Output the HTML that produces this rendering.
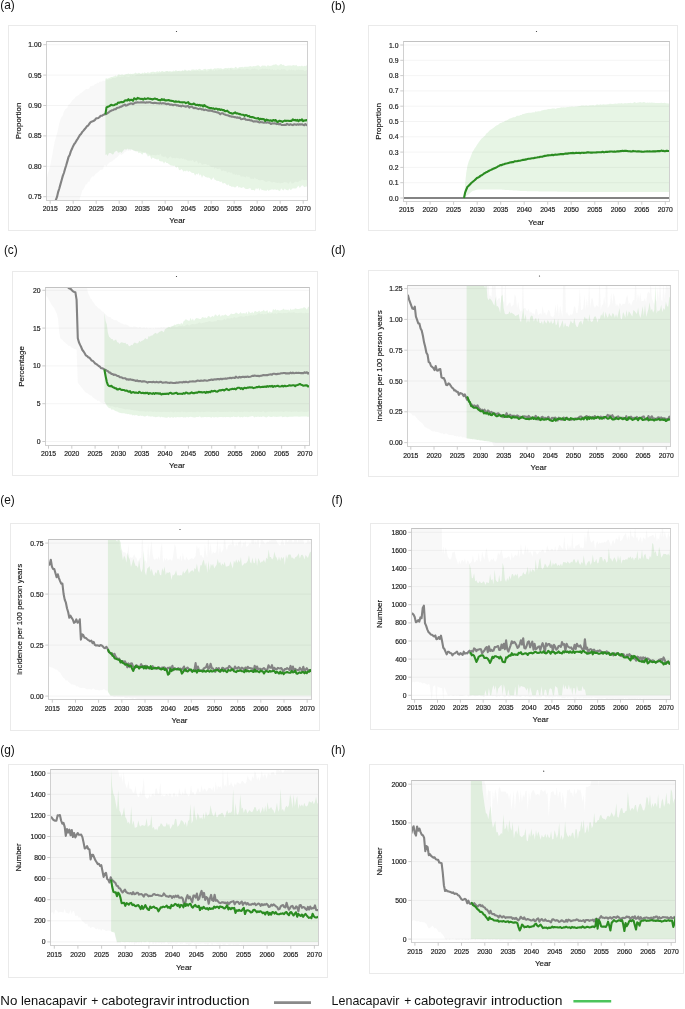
<!DOCTYPE html>
<html><head><meta charset="utf-8"><title>Figure</title>
<style>
html,body{margin:0;padding:0;background:#fff;}
svg{display:block;will-change:transform;}
text{font-family:"Liberation Sans",Arial,sans-serif;}
.tk{font-size:6.8px;fill:#1c1c1c;stroke:#1c1c1c;stroke-width:0.18px;}
.ax{font-size:7.95px;fill:#161616;stroke:#161616;stroke-width:0.15px;}
.pl{font-size:11.9px;fill:#111;}
.lg{font-size:12.6px;fill:#111;}
</style></head><body>
<svg width="685" height="1009" viewBox="0 0 685 1009">
<rect width="685" height="1009" fill="#fff"/>
<g>
<rect x="8.5" y="25.5" width="307.0" height="205.0" fill="#fff" stroke="#eaeaea" stroke-width="1"/>
<clipPath id="ca"><rect x="46.5" y="41.5" width="261.0" height="159.0"/></clipPath>
<g clip-path="url(#ca)">
<path d="M46.7 179.4 L47.8 173.6 L49 169.9 L50.1 166.2 L51.3 160 L52.4 154.5 L53.6 147.3 L54.7 141.4 L55.9 137.4 L57 133.6 L58.2 128.5 L59.3 123.1 L60.5 119.4 L61.6 117 L62.8 115.5 L63.9 111.8 L65.1 109.3 L66.2 108.8 L67.4 107.5 L68.5 104.6 L69.7 104 L70.8 102.8 L72 100.8 L73.1 99.5 L74.3 98.8 L75.4 97.1 L76.6 96.2 L77.7 95.4 L78.9 95 L80 93.4 L81.2 93.1 L82.3 91.9 L83.5 90.9 L84.6 90.2 L85.8 89 L86.9 88.9 L88.1 89.2 L89.2 88.2 L90.4 86.2 L91.5 86.2 L92.7 85.4 L93.8 85.4 L95 84 L96.1 84.1 L97.3 82.7 L98.4 83.1 L99.6 81.8 L100.7 81.5 L101.9 81.7 L103 80.4 L104.2 80.9 L105.3 80.4 L106.5 79.4 L107.6 79.8 L108.8 79.5 L109.9 79.1 L111.1 79.2 L112.2 77.9 L113.4 77.9 L114.5 78 L115.7 77.8 L116.8 77.2 L118 76.3 L119.1 76.5 L120.3 77.1 L121.4 76.3 L122.6 76.6 L123.7 76.5 L124.9 75.4 L126 76.4 L127.2 76.3 L128.3 76.9 L129.5 76.5 L130.6 75.5 L131.8 75.9 L132.9 75.2 L134.1 75.9 L135.2 75.6 L136.4 74.8 L137.5 74.3 L138.7 74.6 L139.8 74.2 L141 73.8 L142.1 74 L143.3 74.8 L144.4 74.3 L145.6 73.8 L146.7 74.2 L147.9 73.7 L149 74.5 L150.2 74.1 L151.3 73.3 L152.5 74.5 L153.6 73.8 L154.8 73.2 L155.9 73.9 L157.1 72.9 L158.2 73.2 L159.4 72.8 L160.5 72.7 L161.7 72.3 L162.8 72.6 L164 72.1 L165.1 72.4 L166.3 71.7 L167.4 71.1 L168.6 71.8 L169.7 71.8 L170.9 72.4 L172 71.5 L173.2 72.1 L174.3 72.1 L175.5 71.4 L176.6 71.5 L177.8 71 L178.9 70.8 L180.1 71.7 L181.2 71.4 L182.4 70.5 L183.5 70.9 L184.7 70.9 L185.8 70.6 L187 71.5 L188.1 70.8 L189.3 70.4 L190.4 70.3 L191.6 71.4 L192.7 71.1 L193.9 70.7 L195 71 L196.2 71 L197.3 70.5 L198.5 70.9 L199.6 71.6 L200.8 70.5 L201.9 70.8 L203.1 70.9 L204.2 71.3 L205.4 70 L206.5 71.5 L207.7 71.2 L208.8 70.5 L210 69.7 L211.1 69.6 L212.3 70.8 L213.4 70.3 L214.6 70.9 L215.7 69.6 L216.9 70.8 L218 70.1 L219.2 69.5 L220.3 70.1 L221.5 69.2 L222.6 70.4 L223.8 69.7 L224.9 69.5 L226.1 69.9 L227.2 69.1 L228.4 69.5 L229.5 70.5 L230.7 67.8 L231.8 69.4 L233 69.6 L234.1 70.3 L235.3 69.6 L236.4 69.8 L237.6 69.2 L238.7 69.3 L239.9 68.6 L241 69.4 L242.2 69.2 L243.3 69.2 L244.5 69.4 L245.6 69.4 L246.8 68.8 L247.9 68.9 L249.1 69.5 L250.2 69.7 L251.4 69.2 L252.5 68.6 L253.7 69.1 L254.8 68.2 L256 69.4 L257.1 69 L258.3 70.3 L259.4 69.4 L260.6 69.3 L261.7 68.9 L262.9 68.3 L264 69.2 L265.2 68.5 L266.3 68.9 L267.5 68.8 L268.6 69.5 L269.8 68.6 L270.9 69.9 L272.1 69.1 L273.2 69.9 L274.4 69.7 L275.5 70.2 L276.7 69.7 L277.8 69.3 L279 69.6 L280.1 70.2 L281.3 68.9 L282.4 69.5 L283.6 69.2 L284.7 69.3 L285.9 70 L287 70.7 L288.2 70.2 L289.3 69.2 L290.5 70.3 L291.6 69.4 L292.8 70.2 L293.9 69.7 L295.1 70.8 L296.2 69.4 L297.4 70 L298.5 69.6 L299.7 69.9 L300.8 69.7 L302 70.1 L303.1 69.8 L304.3 70.9 L305.4 70.7 L306.6 69.9 L307.7 70.3 L307.7 180.4 L306.6 180.2 L305.4 179.8 L304.3 180.2 L303.1 180 L302 179.2 L300.8 180.7 L299.7 180.7 L298.5 181.8 L297.4 182.3 L296.2 181.8 L295.1 181.7 L293.9 182.9 L292.8 183.5 L291.6 183.4 L290.5 181.2 L289.3 182.5 L288.2 184 L287 182.6 L285.9 182.6 L284.7 182 L283.6 182.6 L282.4 182.9 L281.3 183.1 L280.1 183.6 L279 182.5 L277.8 183.1 L276.7 182.7 L275.5 182.6 L274.4 182 L273.2 182.1 L272.1 182.5 L270.9 181.9 L269.8 181.3 L268.6 181.1 L267.5 181.4 L266.3 181.9 L265.2 181.4 L264 180.8 L262.9 180 L261.7 180.1 L260.6 180.2 L259.4 180.3 L258.3 180 L257.1 178.8 L256 179.2 L254.8 177.4 L253.7 179.2 L252.5 178.5 L251.4 179.1 L250.2 178.4 L249.1 176.6 L247.9 177.3 L246.8 175.8 L245.6 177.5 L244.5 176.8 L243.3 176.4 L242.2 176.2 L241 176.9 L239.9 175 L238.7 174.7 L237.6 175.2 L236.4 174.2 L235.3 175 L234.1 173.4 L233 174.7 L231.8 172.6 L230.7 173 L229.5 172.3 L228.4 171.9 L227.2 173.3 L226.1 170.8 L224.9 171.4 L223.8 170.6 L222.6 170.8 L221.5 171.2 L220.3 168.5 L219.2 168.7 L218 168.9 L216.9 169.1 L215.7 167.4 L214.6 168.9 L213.4 166.7 L212.3 167.3 L211.1 166.9 L210 166 L208.8 164.8 L207.7 165.2 L206.5 164.2 L205.4 164 L204.2 164.2 L203.1 164.2 L201.9 165.1 L200.8 163 L199.6 162.5 L198.5 163.9 L197.3 161.7 L196.2 160.6 L195 162.3 L193.9 162 L192.7 159.7 L191.6 160.8 L190.4 160.4 L189.3 160.7 L188.1 160.7 L187 160.3 L185.8 159.2 L184.7 159.7 L183.5 158.2 L182.4 159 L181.2 157.7 L180.1 159.1 L178.9 158.2 L177.8 158.2 L176.6 157.7 L175.5 158.5 L174.3 157.9 L173.2 158.1 L172 158.6 L170.9 156.6 L169.7 157.1 L168.6 157.9 L167.4 158.8 L166.3 157.2 L165.1 156.2 L164 157.2 L162.8 156.5 L161.7 156.5 L160.5 153.5 L159.4 155.3 L158.2 154.9 L157.1 154.7 L155.9 155.4 L154.8 155.2 L153.6 155 L152.5 154.7 L151.3 155.7 L150.2 154.4 L149 154.5 L147.9 153.1 L146.7 155 L145.6 153.4 L144.4 152.7 L143.3 152 L142.1 152.5 L141 150.9 L139.8 151.5 L138.7 151.3 L137.5 151.1 L136.4 152.5 L135.2 150.9 L134.1 151.3 L132.9 150.2 L131.8 149.1 L130.6 151.2 L129.5 150.3 L128.3 150.9 L127.2 150.1 L126 151.8 L124.9 151.5 L123.7 153.5 L122.6 153.9 L121.4 155 L120.3 153.9 L119.1 154.7 L118 156.4 L116.8 157.4 L115.7 158 L114.5 159.4 L113.4 160.1 L112.2 161.6 L111.1 161.7 L109.9 162.2 L108.8 163.2 L107.6 164.2 L106.5 166.5 L105.3 164.9 L104.2 165.4 L103 169 L101.9 169.8 L100.7 169.7 L99.6 170.6 L98.4 171.7 L97.3 172.7 L96.1 173.4 L95 174.5 L93.8 176.4 L92.7 176.2 L91.5 177.6 L90.4 179.2 L89.2 182 L88.1 181.8 L86.9 184.2 L85.8 184.3 L84.6 187.3 L83.5 189.2 L82.3 190.3 L81.2 194.5 L80 197.3 L78.9 204.1 L77.7 207.2 L76.6 213.1 L75.4 217.3 L74.3 222.2 L73.1 226.6 L72 232.6 L70.8 237.7 L69.7 241.7 L68.5 246.5 L67.4 252 L66.2 256.7 L65.1 262.9 L63.9 268.2 L62.8 273.7 L61.6 279.4 L60.5 282.5 L59.3 288.9 L58.2 292.6 L57 299.1 L55.9 302.5 L54.7 307.7 L53.6 313.8 L52.4 319.2 L51.3 323.2 L50.1 329.1 L49 333.4 L47.8 338.9 L46.7 344Z" fill="rgba(120,120,120,0.052)"/>
<path d="M105.4 78.7 L106.5 78.2 L107.7 78.8 L108.8 78.1 L110 77.7 L111.1 77.1 L112.3 77.1 L113.4 76.4 L114.6 76.3 L115.7 75.5 L116.9 76.5 L118 74.6 L119.2 74.4 L120.3 75 L121.5 74.5 L122.6 74.4 L123.8 75 L124.9 74.4 L126.1 74 L127.2 74.1 L128.4 73.6 L129.5 74 L130.7 73.8 L131.8 74.1 L133 73.8 L134.1 73.7 L135.3 72.6 L136.4 73.2 L137.6 73.6 L138.7 72.8 L139.9 73 L141 74.3 L142.2 72.4 L143.3 73.4 L144.5 72.3 L145.6 73 L146.8 73.1 L147.9 72.1 L149.1 73 L150.2 72.5 L151.4 72.1 L152.5 71.8 L153.7 71.7 L154.8 72 L156 72.3 L157.1 70.9 L158.3 72.1 L159.4 70.9 L160.6 71.9 L161.7 71.1 L162.9 71.1 L164 72 L165.2 71.3 L166.3 71 L167.5 71 L168.6 71.4 L169.8 71.1 L170.9 71.3 L172.1 71.7 L173.2 70.5 L174.4 71.2 L175.5 70.2 L176.7 70.6 L177.8 71.2 L179 70.8 L180.1 70.8 L181.3 71 L182.4 70.3 L183.6 70.7 L184.7 69.6 L185.9 69.9 L187 70.7 L188.2 70.2 L189.3 70.3 L190.5 70.9 L191.6 69.6 L192.8 69.5 L193.9 69.5 L195.1 70.1 L196.2 69.3 L197.4 69.9 L198.5 69.2 L199.7 68.7 L200.8 69.5 L202 70.2 L203.1 69.6 L204.3 69.1 L205.4 68.7 L206.5 69.8 L207.7 69.3 L208.8 69 L210 68.9 L211.1 68.6 L212.3 69.4 L213.4 69.1 L214.6 68.3 L215.7 68.5 L216.9 68.4 L218 68 L219.2 68.4 L220.3 68.2 L221.5 68.5 L222.6 68.9 L223.8 68.8 L224.9 68.1 L226.1 68.1 L227.2 68.3 L228.4 67.7 L229.5 68.2 L230.7 67.7 L231.8 67.7 L233 68 L234.1 68.6 L235.3 66.7 L236.4 67.2 L237.6 68.6 L238.7 67.4 L239.9 66.9 L241 67.2 L242.2 66.7 L243.3 67.4 L244.5 66.7 L245.6 66.8 L246.8 66.8 L247.9 66.7 L249.1 66.4 L250.2 66 L251.4 66.6 L252.5 66.5 L253.7 66.1 L254.8 66.2 L256 65.9 L257.1 65.6 L258.3 65.3 L259.4 65.9 L260.6 66.9 L261.7 65.8 L262.9 65.5 L264 65.7 L265.2 65.6 L266.3 66.7 L267.5 65.2 L268.6 65.5 L269.8 66.1 L270.9 65.7 L272.1 65.6 L273.2 64.8 L274.4 64.8 L275.5 64.3 L276.7 64.6 L277.8 65.5 L279 65.5 L280.1 64.2 L281.3 64.1 L282.4 65 L283.6 64.7 L284.7 65.8 L285.9 66.1 L287 65.8 L288.2 65.5 L289.3 65.6 L290.5 65.6 L291.6 65.8 L292.8 65.3 L293.9 65 L295.1 65.7 L296.2 64.8 L297.4 66.2 L298.5 66.2 L299.7 65.9 L300.8 66.3 L302 65.6 L303.1 66.6 L304.3 65.7 L305.4 66.3 L306.6 65.3 L307.7 66.8 L307.7 186.6 L306.6 186.6 L305.4 186.7 L304.3 187.2 L303.1 185.8 L302 185.3 L300.8 186.8 L299.7 188.1 L298.5 185.8 L297.4 187 L296.2 188.5 L295.1 188.6 L293.9 188.6 L292.8 188.3 L291.6 189.5 L290.5 190.1 L289.3 188.5 L288.2 190.6 L287 190 L285.9 189.7 L284.7 188.4 L283.6 190.4 L282.4 189.8 L281.3 188.2 L280.1 190.7 L279 190.9 L277.8 189.6 L276.7 189.9 L275.5 189.4 L274.4 189.6 L273.2 189.7 L272.1 189.2 L270.9 189.8 L269.8 190 L268.6 190.9 L267.5 189.5 L266.3 190.9 L265.2 190.5 L264 190.5 L262.9 189.9 L261.7 190.2 L260.6 188.3 L259.4 190.8 L258.3 187.7 L257.1 189.4 L256 188.1 L254.8 190.7 L253.7 189.9 L252.5 189.9 L251.4 190 L250.2 187.9 L249.1 188.6 L247.9 189 L246.8 189 L245.6 188.9 L244.5 188 L243.3 186.9 L242.2 187.7 L241 188 L239.9 187.1 L238.7 187.8 L237.6 185.7 L236.4 186.6 L235.3 187.5 L234.1 187.3 L233 186.6 L231.8 186.9 L230.7 186.1 L229.5 186.1 L228.4 184.3 L227.2 185.5 L226.1 184.2 L224.9 183.1 L223.8 183.2 L222.6 183.5 L221.5 181.5 L220.3 182.1 L219.2 181.3 L218 180.8 L216.9 181 L215.7 179.9 L214.6 179.7 L213.4 177.3 L212.3 179 L211.1 180.1 L210 178.2 L208.8 177.4 L207.7 177.7 L206.5 177.2 L205.4 177 L204.3 176.1 L203.1 175.3 L202 178 L200.8 174.3 L199.7 175.7 L198.5 173 L197.4 174.7 L196.2 173.7 L195.1 175.8 L193.9 172.9 L192.8 173 L191.6 172.8 L190.5 171.8 L189.3 171 L188.2 172.1 L187 170.2 L185.9 171.5 L184.7 170.8 L183.6 171.8 L182.4 170 L181.3 169.1 L180.1 170.3 L179 169.9 L177.8 166.4 L176.7 167.8 L175.5 166.9 L174.4 165.6 L173.2 166 L172.1 165.6 L170.9 165.5 L169.8 164.8 L168.6 164 L167.5 163.1 L166.3 162.9 L165.2 161.4 L164 163.8 L162.9 161.6 L161.7 161.4 L160.6 161.2 L159.4 161 L158.3 158.7 L157.1 159.8 L156 159.1 L154.8 158.8 L153.7 158 L152.5 157.4 L151.4 159.6 L150.2 156.1 L149.1 155.5 L147.9 156.7 L146.8 153.9 L145.6 152.6 L144.5 152.7 L143.3 153.1 L142.2 154.8 L141 153.3 L139.9 152.4 L138.7 153.2 L137.6 151.4 L136.4 150.9 L135.3 151.3 L134.1 150.5 L133 150.2 L131.8 149.5 L130.7 149.4 L129.5 149.3 L128.4 149.4 L127.2 148.5 L126.1 150 L124.9 149 L123.8 150 L122.6 151.5 L121.5 153 L120.3 151.7 L119.2 152.6 L118 152.8 L116.9 150.7 L115.7 151.3 L114.6 152.1 L113.4 154.3 L112.3 154.5 L111.1 153.2 L110 153.1 L108.8 153.3 L107.7 156.1 L106.5 154.3 L105.4 154.9Z" fill="rgba(20,158,0,0.10)"/>
</g>
<line x1="46.5" y1="196.7" x2="307.5" y2="196.7" stroke="#000" stroke-opacity="0.045" stroke-width="1"/>
<line x1="46.5" y1="166.3" x2="307.5" y2="166.3" stroke="#000" stroke-opacity="0.045" stroke-width="1"/>
<line x1="46.5" y1="135.9" x2="307.5" y2="135.9" stroke="#000" stroke-opacity="0.045" stroke-width="1"/>
<line x1="46.5" y1="105.5" x2="307.5" y2="105.5" stroke="#000" stroke-opacity="0.045" stroke-width="1"/>
<line x1="46.5" y1="75.1" x2="307.5" y2="75.1" stroke="#000" stroke-opacity="0.045" stroke-width="1"/>
<line x1="46.5" y1="44.7" x2="307.5" y2="44.7" stroke="#000" stroke-opacity="0.045" stroke-width="1"/>
<g clip-path="url(#ca)">
<polyline points="46.7,223.6 47.8,221.4 49,218.3 50.1,215.5 51.3,211.7 52.4,209.8 53.6,205.3 54.7,203.2 55.9,199.8 57,196.9 58.2,191.8 59.3,188.5 60.5,184.1 61.6,180.3 62.8,175.9 63.9,173 65.1,168.8 66.2,165.3 67.4,161.1 68.5,157.1 69.7,155 70.8,151.4 72,148.8 73.1,146.2 74.3,144 75.4,142.6 76.6,140.4 77.7,138.8 78.9,136.8 80,134.9 81.2,133.7 82.3,131.9 83.5,130.6 84.6,129.3 85.8,127.9 86.9,126.2 88.1,125.6 89.2,124 90.4,122.4 91.5,121.7 92.7,121.3 93.8,120.8 95,119.9 96.1,118.3 97.3,118.3 98.4,117.9 99.6,117 100.7,115.7 101.9,115.8 103,115 104.2,114.5 105.3,114.2 106.5,113.9 107.6,113 108.8,112.3 109.9,111.4 111.1,110.8 112.2,110.2 113.4,109.9 114.5,109.2 115.7,109.2 116.8,108 118,107.7 119.1,107.5 120.3,106.8 121.4,106.6 122.6,105.8 123.7,105.3 124.9,104.6 126,105.6 127.2,105.2 128.3,104.5 129.5,104 130.6,103.5 131.8,103.5 132.9,104.1 134.1,103.3 135.2,102.6 136.4,102.6 137.5,102.2 138.7,102.5 139.8,102.5 141,102.4 142.1,102.3 143.3,102.4 144.4,102.4 145.6,102.7 146.7,102.3 147.9,102.5 149,102.2 150.2,102.2 151.3,102.7 152.5,103 153.6,103.1 154.8,102.8 155.9,103 157.1,103.3 158.2,103.2 159.4,103.5 160.5,103.1 161.7,103.6 162.8,103.1 164,103.4 165.1,103.5 166.3,104.2 167.4,103.9 168.6,103.9 169.7,104.6 170.9,104.5 172,104.6 173.2,105.2 174.3,104.8 175.5,104.7 176.6,105.5 177.8,105.2 178.9,106 180.1,105.7 181.2,106.4 182.4,105.5 183.5,105.9 184.7,106.3 185.8,106.7 187,106.1 188.1,106 189.3,107.6 190.4,106.7 191.6,106.7 192.7,107.4 193.9,108.2 195,107.7 196.2,108.3 197.3,108.6 198.5,109.1 199.6,108.6 200.8,108.8 201.9,109.5 203.1,109.3 204.2,110.1 205.4,109.6 206.5,110.1 207.7,110.4 208.8,110.6 210,110.4 211.1,110.7 212.3,111.1 213.4,111.5 214.6,111.8 215.7,111.9 216.9,112.4 218,112.5 219.2,113.2 220.3,114.3 221.5,113.3 222.6,113.2 223.8,114.1 224.9,114.6 226.1,115 227.2,115.2 228.4,115.5 229.5,116.2 230.7,116.3 231.8,116.8 233,116.6 234.1,117.1 235.3,117.1 236.4,117.6 237.6,117.4 238.7,117.9 239.9,117.5 241,119.2 242.2,119 243.3,118.7 244.5,118.3 245.6,119.6 246.8,119.7 247.9,120 249.1,119.7 250.2,120.5 251.4,120.4 252.5,121 253.7,121.6 254.8,121.3 256,121.5 257.1,121.4 258.3,122.1 259.4,122.4 260.6,122.1 261.7,122.3 262.9,122.4 264,122.7 265.2,122.3 266.3,122.7 267.5,122.3 268.6,122.7 269.8,123 270.9,124 272.1,123.3 273.2,123.5 274.4,123.4 275.5,123.5 276.7,124.1 277.8,123.8 279,124.4 280.1,123.6 281.3,124.9 282.4,125 283.6,125 284.7,124.8 285.9,124.9 287,123.8 288.2,124.6 289.3,125 290.5,124.2 291.6,124.8 292.8,125.1 293.9,124.3 295.1,124.4 296.2,124.9 297.4,124.2 298.5,124.7 299.7,124.2 300.8,124.6 302,124.3 303.1,124.8 304.3,125.3 305.4,124 306.6,125.1 307.7,125" fill="none" stroke="#838383" stroke-width="2.1" stroke-linejoin="round" stroke-linecap="butt"/>
<polyline points="105.4,114.4 106.5,107.4 107.7,106.8 108.8,106.4 110,105.8 111.1,104.8 112.3,105.3 113.4,105.3 114.6,104.9 115.7,104.2 116.9,104.2 118,102.5 119.2,102.7 120.3,102.3 121.5,101.9 122.6,102.2 123.8,101.7 124.9,100.6 126.1,100.3 127.2,100.6 128.4,99.2 129.5,100.5 130.7,99.9 131.8,99.7 133,100.8 134.1,98.3 135.3,98.9 136.4,99.5 137.6,97.8 138.7,98.5 139.9,98.6 141,99.1 142.2,98.8 143.3,99.6 144.5,98.4 145.6,99 146.8,98.7 147.9,98.3 149.1,98.8 150.2,98.9 151.4,99 152.5,99.5 153.7,98.9 154.8,98.6 156,99 157.1,99.1 158.3,100 159.4,100.1 160.6,100.4 161.7,99.2 162.9,100 164,99.3 165.2,100.4 166.3,100.4 167.5,100.3 168.6,100 169.8,100.6 170.9,100.7 172.1,100.9 173.2,101 174.4,101.8 175.5,101.4 176.7,101.6 177.8,101.7 179,101.6 180.1,102.3 181.3,102.2 182.4,102.4 183.6,102.3 184.7,102.2 185.9,103.2 187,102.6 188.2,102.1 189.3,104 190.5,103.9 191.6,104.2 192.8,104.2 193.9,103.5 195.1,104.5 196.2,105.1 197.4,104.7 198.5,105.5 199.7,104.9 200.8,105.6 202,105.3 203.1,106.5 204.3,105 205.4,106.3 206.5,106.6 207.7,107.2 208.8,107.8 210,108.1 211.1,108 212.3,108.6 213.4,108.3 214.6,109.1 215.7,108.6 216.9,108.7 218,109.7 219.2,109 220.3,110 221.5,109.5 222.6,110.1 223.8,110 224.9,111.3 226.1,111.1 227.2,110.6 228.4,111.9 229.5,112.8 230.7,113 231.8,113.5 233,113.6 234.1,113 235.3,112.4 236.4,113.5 237.6,113.4 238.7,113.9 239.9,114.1 241,114.5 242.2,114.8 243.3,114.7 244.5,115.8 245.6,115 246.8,115.3 247.9,116.2 249.1,115.9 250.2,117 251.4,117.1 252.5,117.1 253.7,117.5 254.8,117.9 256,118.3 257.1,118.5 258.3,118 259.4,119.6 260.6,118.7 261.7,119.2 262.9,118.9 264,119.2 265.2,121 266.3,119.6 267.5,119.9 268.6,120.3 269.8,120.7 270.9,120.3 272.1,121 273.2,120 274.4,120.6 275.5,120 276.7,121.5 277.8,122 279,120.9 280.1,120.9 281.3,121.2 282.4,121.9 283.6,121.2 284.7,120.6 285.9,120.9 287,120.8 288.2,120.7 289.3,121 290.5,120.7 291.6,121 292.8,119.3 293.9,120.3 295.1,119.9 296.2,120.7 297.4,119.9 298.5,121.2 299.7,119.9 300.8,120.4 302,119.4 303.1,121.1 304.3,120.5 305.4,120.4 306.6,120 307.7,120.9" fill="none" stroke="#2b8c21" stroke-width="2.1" stroke-linejoin="round" stroke-linecap="butt"/>
</g>
<rect x="46.5" y="41.5" width="261.0" height="159.0" fill="none" stroke="#d0d0d0" stroke-width="1"/>
<line x1="46.5" y1="41.5" x2="307.5" y2="41.5" stroke="#c2c2c2" stroke-width="1"/>
<line x1="43.3" y1="196.7" x2="46.5" y2="196.7" stroke="#c6c6c6" stroke-width="0.9"/>
<text x="41.5" y="199.2" text-anchor="end" class="tk">0.75</text>
<line x1="43.3" y1="166.3" x2="46.5" y2="166.3" stroke="#c6c6c6" stroke-width="0.9"/>
<text x="41.5" y="168.8" text-anchor="end" class="tk">0.80</text>
<line x1="43.3" y1="135.9" x2="46.5" y2="135.9" stroke="#c6c6c6" stroke-width="0.9"/>
<text x="41.5" y="138.4" text-anchor="end" class="tk">0.85</text>
<line x1="43.3" y1="105.5" x2="46.5" y2="105.5" stroke="#c6c6c6" stroke-width="0.9"/>
<text x="41.5" y="108" text-anchor="end" class="tk">0.90</text>
<line x1="43.3" y1="75.1" x2="46.5" y2="75.1" stroke="#c6c6c6" stroke-width="0.9"/>
<text x="41.5" y="77.6" text-anchor="end" class="tk">0.95</text>
<line x1="43.3" y1="44.7" x2="46.5" y2="44.7" stroke="#c6c6c6" stroke-width="0.9"/>
<text x="41.5" y="47.2" text-anchor="end" class="tk">1.00</text>
<line x1="50.2" y1="200.5" x2="50.2" y2="203.7" stroke="#c6c6c6" stroke-width="0.9"/>
<text x="50.2" y="211.1" text-anchor="middle" class="tk">2015</text>
<line x1="73.2" y1="200.5" x2="73.2" y2="203.7" stroke="#c6c6c6" stroke-width="0.9"/>
<text x="73.2" y="211.1" text-anchor="middle" class="tk">2020</text>
<line x1="96.2" y1="200.5" x2="96.2" y2="203.7" stroke="#c6c6c6" stroke-width="0.9"/>
<text x="96.2" y="211.1" text-anchor="middle" class="tk">2025</text>
<line x1="119.2" y1="200.5" x2="119.2" y2="203.7" stroke="#c6c6c6" stroke-width="0.9"/>
<text x="119.2" y="211.1" text-anchor="middle" class="tk">2030</text>
<line x1="142.2" y1="200.5" x2="142.2" y2="203.7" stroke="#c6c6c6" stroke-width="0.9"/>
<text x="142.2" y="211.1" text-anchor="middle" class="tk">2035</text>
<line x1="165.2" y1="200.5" x2="165.2" y2="203.7" stroke="#c6c6c6" stroke-width="0.9"/>
<text x="165.2" y="211.1" text-anchor="middle" class="tk">2040</text>
<line x1="188.2" y1="200.5" x2="188.2" y2="203.7" stroke="#c6c6c6" stroke-width="0.9"/>
<text x="188.2" y="211.1" text-anchor="middle" class="tk">2045</text>
<line x1="211.2" y1="200.5" x2="211.2" y2="203.7" stroke="#c6c6c6" stroke-width="0.9"/>
<text x="211.2" y="211.1" text-anchor="middle" class="tk">2050</text>
<line x1="234.2" y1="200.5" x2="234.2" y2="203.7" stroke="#c6c6c6" stroke-width="0.9"/>
<text x="234.2" y="211.1" text-anchor="middle" class="tk">2055</text>
<line x1="257.2" y1="200.5" x2="257.2" y2="203.7" stroke="#c6c6c6" stroke-width="0.9"/>
<text x="257.2" y="211.1" text-anchor="middle" class="tk">2060</text>
<line x1="280.2" y1="200.5" x2="280.2" y2="203.7" stroke="#c6c6c6" stroke-width="0.9"/>
<text x="280.2" y="211.1" text-anchor="middle" class="tk">2065</text>
<line x1="303.2" y1="200.5" x2="303.2" y2="203.7" stroke="#c6c6c6" stroke-width="0.9"/>
<text x="303.2" y="211.1" text-anchor="middle" class="tk">2070</text>
<text x="177.2" y="223.2" text-anchor="middle" class="ax">Year</text>
<text transform="translate(21,121) rotate(-90)" text-anchor="middle" class="ax">Proportion</text>
<circle cx="176.5" cy="31.5" r="0.6" fill="#333"/>
</g>
<g>
<rect x="368.5" y="25.5" width="309.0" height="205.0" fill="#fff" stroke="#eaeaea" stroke-width="1"/>
<clipPath id="cb"><rect x="403.5" y="41.5" width="266.0" height="160.0"/></clipPath>
<g clip-path="url(#cb)">
<path d="M464 198 L465.2 182.8 L466.3 172.5 L467.5 165.4 L468.7 161.6 L469.9 158.8 L471 155.9 L472.2 152.6 L473.4 150.4 L474.6 148.5 L475.7 147.1 L476.9 144.9 L478.1 143.2 L479.3 141.6 L480.4 140 L481.6 138.5 L482.8 137.7 L484 136.5 L485.1 135.4 L486.3 133.6 L487.5 132.8 L488.7 131.6 L489.8 130.3 L491 129.5 L492.2 128.8 L493.3 127.9 L494.5 127.1 L495.7 125.9 L496.9 125.3 L498 125 L499.2 123.8 L500.4 123 L501.6 122.8 L502.7 122 L503.9 121.9 L505.1 120.8 L506.3 120.4 L507.4 120 L508.6 119.3 L509.8 118.5 L511 118.3 L512.1 117.7 L513.3 117.3 L514.5 117.2 L515.7 116.7 L516.8 115.8 L518 115.8 L519.2 115.7 L520.4 115.1 L521.5 115 L522.7 114.1 L523.9 113.9 L525.1 113.4 L526.2 113.2 L527.4 113.1 L528.6 112.8 L529.8 112.7 L530.9 112.7 L532.1 112.5 L533.3 112.2 L534.4 112.4 L535.6 111.2 L536.8 111.8 L538 111.2 L539.1 111.2 L540.3 111.2 L541.5 110.5 L542.7 110.3 L543.8 110.1 L545 109.7 L546.2 109.7 L547.4 109.2 L548.5 109 L549.7 109.1 L550.9 109 L552.1 108.6 L553.2 108.6 L554.4 108.4 L555.6 108.9 L556.8 108.2 L557.9 108 L559.1 108 L560.3 107.7 L561.5 107.2 L562.6 107.5 L563.8 107.2 L565 107.4 L566.2 107.3 L567.3 107.1 L568.5 107.1 L569.7 106.7 L570.9 106.8 L572 106.5 L573.2 106.7 L574.4 106.7 L575.6 106.4 L576.7 106.4 L577.9 106.2 L579.1 106.1 L580.2 106 L581.4 105.6 L582.6 105.5 L583.8 105.5 L584.9 105.7 L586.1 105.2 L587.3 105.8 L588.5 105.8 L589.6 105.2 L590.8 105.2 L592 105.2 L593.2 105.1 L594.3 105.4 L595.5 105.2 L596.7 104.6 L597.9 104.5 L599 104.9 L600.2 104.2 L601.4 104.8 L602.6 104.6 L603.7 104.3 L604.9 104.6 L606.1 104.4 L607.3 104.2 L608.4 104.2 L609.6 103.8 L610.8 103.8 L612 104.1 L613.1 103.9 L614.3 103.7 L615.5 103.6 L616.7 103.7 L617.8 103.4 L619 103.2 L620.2 103.5 L621.4 103.1 L622.5 103.6 L623.7 103.6 L624.9 103 L626 103.3 L627.2 103.3 L628.4 103 L629.6 103.1 L630.7 102.8 L631.9 103.2 L633.1 102.9 L634.3 102 L635.4 102.6 L636.6 103.1 L637.8 102.4 L639 102.4 L640.1 102.1 L641.3 102.4 L642.5 102.6 L643.7 102.1 L644.8 102.3 L646 102.9 L647.2 102.4 L648.4 102.7 L649.5 102.4 L650.7 102.8 L651.9 102.6 L653.1 102.8 L654.2 102.7 L655.4 102.9 L656.6 103 L657.8 103 L658.9 102.9 L660.1 103 L661.3 102.7 L662.5 103.1 L663.6 103.1 L664.8 102.8 L666 103.3 L667.2 103.2 L668.3 103.5 L669.5 103.4 L669.5 191.9 L668.3 191.9 L667.2 191.9 L666 191.9 L664.8 191.9 L663.6 191.9 L662.5 191.9 L661.3 191.9 L660.1 191.9 L658.9 191.9 L657.8 191.9 L656.6 191.9 L655.4 191.9 L654.2 191.9 L653.1 191.9 L651.9 191.9 L650.7 191.9 L649.5 191.9 L648.4 191.9 L647.2 191.9 L646 191.9 L644.8 191.9 L643.7 191.9 L642.5 191.9 L641.3 191.9 L640.1 191.9 L639 191.9 L637.8 191.9 L636.6 191.9 L635.4 191.9 L634.3 191.9 L633.1 191.9 L631.9 191.9 L630.7 191.9 L629.6 191.9 L628.4 191.9 L627.2 191.9 L626 191.9 L624.9 191.9 L623.7 191.9 L622.5 191.9 L621.4 191.9 L620.2 191.9 L619 191.9 L617.8 191.9 L616.7 191.9 L615.5 191.9 L614.3 191.9 L613.1 191.9 L612 191.9 L610.8 191.9 L609.6 191.9 L608.4 191.9 L607.3 191.9 L606.1 191.9 L604.9 191.9 L603.7 191.9 L602.6 191.9 L601.4 191.9 L600.2 191.9 L599 191.9 L597.9 191.9 L596.7 191.9 L595.5 191.9 L594.3 191.9 L593.2 191.9 L592 191.9 L590.8 191.9 L589.6 191.9 L588.5 191.9 L587.3 191.9 L586.1 191.9 L584.9 191.9 L583.8 191.9 L582.6 191.9 L581.4 191.9 L580.2 191.9 L579.1 191.9 L577.9 191.9 L576.7 191.9 L575.6 191.9 L574.4 191.9 L573.2 191.9 L572 191.9 L570.9 191.9 L569.7 191.9 L568.5 191.8 L567.3 191.8 L566.2 191.8 L565 191.8 L563.8 191.8 L562.6 191.7 L561.5 191.7 L560.3 191.7 L559.1 191.7 L557.9 191.7 L556.8 191.6 L555.6 191.6 L554.4 191.6 L553.2 191.6 L552.1 191.6 L550.9 191.5 L549.7 191.5 L548.5 191.5 L547.4 191.5 L546.2 191.5 L545 191.5 L543.8 191.4 L542.7 191.4 L541.5 191.4 L540.3 191.4 L539.1 191.4 L538 191.3 L536.8 191.3 L535.6 191.3 L534.4 191.3 L533.3 191.3 L532.1 191.2 L530.9 191.2 L529.8 191.2 L528.6 191.2 L527.4 191.2 L526.2 191.1 L525.1 191.1 L523.9 191.1 L522.7 191 L521.5 190.9 L520.4 190.9 L519.2 190.8 L518 190.7 L516.8 190.6 L515.7 190.6 L514.5 190.5 L513.3 190.4 L512.1 190.3 L511 190.3 L509.8 190.2 L508.6 190.1 L507.4 190 L506.3 189.9 L505.1 189.9 L503.9 189.8 L502.7 189.7 L501.6 189.6 L500.4 189.6 L499.2 189.6 L498 189.6 L496.9 189.6 L495.7 189.6 L494.5 189.6 L493.3 189.6 L492.2 189.6 L491 189.6 L489.8 189.6 L488.7 189.6 L487.5 189.6 L486.3 189.6 L485.1 189.6 L484 189.6 L482.8 189.6 L481.6 189.6 L480.4 189.6 L479.3 189.6 L478.1 189.6 L476.9 189.7 L475.7 190 L474.6 190.4 L473.4 190.8 L472.2 191.3 L471 192.3 L469.9 193.2 L468.7 194.2 L467.5 195.1 L466.3 195.9 L465.2 196.6 L464 197.4Z" fill="rgba(20,158,0,0.10)"/>
</g>
<line x1="403.5" y1="198" x2="669.5" y2="198" stroke="#000" stroke-opacity="0.045" stroke-width="1"/>
<line x1="403.5" y1="182.7" x2="669.5" y2="182.7" stroke="#000" stroke-opacity="0.045" stroke-width="1"/>
<line x1="403.5" y1="167.4" x2="669.5" y2="167.4" stroke="#000" stroke-opacity="0.045" stroke-width="1"/>
<line x1="403.5" y1="152.1" x2="669.5" y2="152.1" stroke="#000" stroke-opacity="0.045" stroke-width="1"/>
<line x1="403.5" y1="136.8" x2="669.5" y2="136.8" stroke="#000" stroke-opacity="0.045" stroke-width="1"/>
<line x1="403.5" y1="121.5" x2="669.5" y2="121.5" stroke="#000" stroke-opacity="0.045" stroke-width="1"/>
<line x1="403.5" y1="106.2" x2="669.5" y2="106.2" stroke="#000" stroke-opacity="0.045" stroke-width="1"/>
<line x1="403.5" y1="90.9" x2="669.5" y2="90.9" stroke="#000" stroke-opacity="0.045" stroke-width="1"/>
<line x1="403.5" y1="75.6" x2="669.5" y2="75.6" stroke="#000" stroke-opacity="0.045" stroke-width="1"/>
<line x1="403.5" y1="60.3" x2="669.5" y2="60.3" stroke="#000" stroke-opacity="0.045" stroke-width="1"/>
<line x1="403.5" y1="45" x2="669.5" y2="45" stroke="#000" stroke-opacity="0.045" stroke-width="1"/>
<g clip-path="url(#cb)">
<polyline points="403.3,198 404.5,198 405.7,198 406.8,198 408,198 409.2,198 410.4,198 411.5,198 412.7,198 413.9,198 415.1,198 416.3,198 417.4,198 418.6,198 419.8,198 421,198 422.1,198 423.3,198 424.5,198 425.7,198 426.9,198 428,198 429.2,198 430.4,198 431.6,198 432.7,198 433.9,198 435.1,198 436.3,198 437.5,198 438.6,198 439.8,198 441,198 442.2,198 443.3,198 444.5,198 445.7,198 446.9,198 448.1,198 449.2,198 450.4,198 451.6,198 452.8,198 453.9,198 455.1,198 456.3,198 457.5,198 458.7,198 459.8,198 461,198 462.2,198 463.4,198 464.5,198 465.7,198 466.9,198 468.1,198 469.3,198 470.4,198 471.6,198 472.8,198 474,198 475.2,198 476.3,198 477.5,198 478.7,198 479.9,198 481,198 482.2,198 483.4,198 484.6,198 485.8,198 486.9,198 488.1,198 489.3,198 490.5,198 491.6,198 492.8,198 494,198 495.2,198 496.4,198 497.5,198 498.7,198 499.9,198 501.1,198 502.2,198 503.4,198 504.6,198 505.8,198 507,198 508.1,198 509.3,198 510.5,198 511.7,198 512.8,198 514,198 515.2,198 516.4,198 517.6,198 518.7,198 519.9,198 521.1,198 522.3,198 523.4,198 524.6,198 525.8,198 527,198 528.2,198 529.3,198 530.5,198 531.7,198 532.9,198 534,198 535.2,198 536.4,198 537.6,198 538.8,198 539.9,198 541.1,198 542.3,198 543.5,198 544.6,198 545.8,198 547,198 548.2,198 549.4,198 550.5,198 551.7,198 552.9,198 554.1,198 555.2,198 556.4,198 557.6,198 558.8,198 560,198 561.1,198 562.3,198 563.5,198 564.7,198 565.8,198 567,198 568.2,198 569.4,198 570.6,198 571.7,198 572.9,198 574.1,198 575.3,198 576.4,198 577.6,198 578.8,198 580,198 581.2,198 582.3,198 583.5,198 584.7,198 585.9,198 587,198 588.2,198 589.4,198 590.6,198 591.8,198 592.9,198 594.1,198 595.3,198 596.5,198 597.6,198 598.8,198 600,198 601.2,198 602.4,198 603.5,198 604.7,198 605.9,198 607.1,198 608.3,198 609.4,198 610.6,198 611.8,198 613,198 614.1,198 615.3,198 616.5,198 617.7,198 618.9,198 620,198 621.2,198 622.4,198 623.6,198 624.7,198 625.9,198 627.1,198 628.3,198 629.5,198 630.6,198 631.8,198 633,198 634.2,198 635.3,198 636.5,198 637.7,198 638.9,198 640.1,198 641.2,198 642.4,198 643.6,198 644.8,198 645.9,198 647.1,198 648.3,198 649.5,198 650.7,198 651.8,198 653,198 654.2,198 655.4,198 656.5,198 657.7,198 658.9,198 660.1,198 661.3,198 662.4,198 663.6,198 664.8,198 666,198 667.1,198 668.3,198 669.5,198" fill="none" stroke="#838383" stroke-width="2.1" stroke-linejoin="round" stroke-linecap="butt"/>
<polyline points="464,198 465.2,192.3 466.3,189.5 467.5,186.8 468.7,185.8 469.9,184.6 471,183.3 472.2,182.3 473.4,181.3 474.6,180.3 475.7,179.2 476.9,178 478.1,177.5 479.3,176.9 480.4,175.9 481.6,175.3 482.8,174.5 484,173.5 485.1,173 486.3,172.2 487.5,171.7 488.7,171 489.8,170.4 491,169.9 492.2,169.3 493.3,168.7 494.5,168.2 495.7,167.7 496.9,167.1 498,166.4 499.2,165.9 500.4,165 501.6,165.2 502.7,164.5 503.9,164.2 505.1,163.7 506.3,163.5 507.4,163.3 508.6,162.9 509.8,162.5 511,162.4 512.1,162 513.3,162.1 514.5,161.4 515.7,161.2 516.8,161.2 518,160.9 519.2,160.7 520.4,160.6 521.5,160.3 522.7,159.9 523.9,159.9 525.1,159.6 526.2,159.4 527.4,159.1 528.6,158.8 529.8,158.8 530.9,158.5 532.1,158.3 533.3,158.3 534.4,157.9 535.6,157.7 536.8,157.5 538,157.2 539.1,157.3 540.3,156.8 541.5,156.7 542.7,156.6 543.8,156.1 545,155.9 546.2,155.8 547.4,155.4 548.5,155.4 549.7,155.3 550.9,155.3 552.1,154.8 553.2,155.3 554.4,154.8 555.6,154.6 556.8,154.8 557.9,154.5 559.1,154.4 560.3,154.1 561.5,154 562.6,154.1 563.8,154.1 565,153.6 566.2,153.5 567.3,153.6 568.5,153.4 569.7,153.3 570.9,153.1 572,153.1 573.2,152.9 574.4,153.3 575.6,152.9 576.7,152.9 577.9,153 579.1,152.8 580.2,153.2 581.4,152.7 582.6,152.8 583.8,152.9 584.9,152.7 586.1,152.7 587.3,152.3 588.5,152.4 589.6,152.5 590.8,152.6 592,152.6 593.2,152.5 594.3,152.5 595.5,152.5 596.7,152.4 597.9,152.3 599,152.3 600.2,152.2 601.4,152.2 602.6,151.7 603.7,152.2 604.9,152.1 606.1,151.8 607.3,151.9 608.4,151.7 609.6,151.6 610.8,151.5 612,151.5 613.1,151.7 614.3,151.4 615.5,151.7 616.7,151.4 617.8,151.4 619,151.4 620.2,151.1 621.4,151.1 622.5,150.8 623.7,151.1 624.9,150.8 626,150.9 627.2,151 628.4,151.3 629.6,151.2 630.7,151.4 631.9,151.5 633.1,150.9 634.3,151.2 635.4,151.2 636.6,151.5 637.8,151.4 639,151.4 640.1,151.5 641.3,151.6 642.5,151.7 643.7,151.8 644.8,151.5 646,151.5 647.2,151.4 648.4,151.5 649.5,151.2 650.7,151.5 651.9,151.5 653.1,151.2 654.2,151.4 655.4,151.4 656.6,151.2 657.8,151.1 658.9,151.1 660.1,151.1 661.3,150.6 662.5,151 663.6,150.9 664.8,151.3 666,150.9 667.2,150.9 668.3,151 669.5,151" fill="none" stroke="#2b8c21" stroke-width="2.1" stroke-linejoin="round" stroke-linecap="butt"/>
</g>
<rect x="403.5" y="41.5" width="266.0" height="160.0" fill="none" stroke="#d0d0d0" stroke-width="1"/>
<line x1="403.5" y1="41.5" x2="669.5" y2="41.5" stroke="#c2c2c2" stroke-width="1"/>
<line x1="400.3" y1="198" x2="403.5" y2="198" stroke="#c6c6c6" stroke-width="0.9"/>
<text x="398.5" y="200.5" text-anchor="end" class="tk">0.0</text>
<line x1="400.3" y1="182.7" x2="403.5" y2="182.7" stroke="#c6c6c6" stroke-width="0.9"/>
<text x="398.5" y="185.2" text-anchor="end" class="tk">0.1</text>
<line x1="400.3" y1="167.4" x2="403.5" y2="167.4" stroke="#c6c6c6" stroke-width="0.9"/>
<text x="398.5" y="169.9" text-anchor="end" class="tk">0.2</text>
<line x1="400.3" y1="152.1" x2="403.5" y2="152.1" stroke="#c6c6c6" stroke-width="0.9"/>
<text x="398.5" y="154.6" text-anchor="end" class="tk">0.3</text>
<line x1="400.3" y1="136.8" x2="403.5" y2="136.8" stroke="#c6c6c6" stroke-width="0.9"/>
<text x="398.5" y="139.3" text-anchor="end" class="tk">0.4</text>
<line x1="400.3" y1="121.5" x2="403.5" y2="121.5" stroke="#c6c6c6" stroke-width="0.9"/>
<text x="398.5" y="124" text-anchor="end" class="tk">0.5</text>
<line x1="400.3" y1="106.2" x2="403.5" y2="106.2" stroke="#c6c6c6" stroke-width="0.9"/>
<text x="398.5" y="108.7" text-anchor="end" class="tk">0.6</text>
<line x1="400.3" y1="90.9" x2="403.5" y2="90.9" stroke="#c6c6c6" stroke-width="0.9"/>
<text x="398.5" y="93.4" text-anchor="end" class="tk">0.7</text>
<line x1="400.3" y1="75.6" x2="403.5" y2="75.6" stroke="#c6c6c6" stroke-width="0.9"/>
<text x="398.5" y="78.1" text-anchor="end" class="tk">0.8</text>
<line x1="400.3" y1="60.3" x2="403.5" y2="60.3" stroke="#c6c6c6" stroke-width="0.9"/>
<text x="398.5" y="62.8" text-anchor="end" class="tk">0.9</text>
<line x1="400.3" y1="45" x2="403.5" y2="45" stroke="#c6c6c6" stroke-width="0.9"/>
<text x="398.5" y="47.5" text-anchor="end" class="tk">1.0</text>
<line x1="406.6" y1="201.5" x2="406.6" y2="204.7" stroke="#c6c6c6" stroke-width="0.9"/>
<text x="406.6" y="212.1" text-anchor="middle" class="tk">2015</text>
<line x1="430.1" y1="201.5" x2="430.1" y2="204.7" stroke="#c6c6c6" stroke-width="0.9"/>
<text x="430.1" y="212.1" text-anchor="middle" class="tk">2020</text>
<line x1="453.6" y1="201.5" x2="453.6" y2="204.7" stroke="#c6c6c6" stroke-width="0.9"/>
<text x="453.6" y="212.1" text-anchor="middle" class="tk">2025</text>
<line x1="477.2" y1="201.5" x2="477.2" y2="204.7" stroke="#c6c6c6" stroke-width="0.9"/>
<text x="477.2" y="212.1" text-anchor="middle" class="tk">2030</text>
<line x1="500.7" y1="201.5" x2="500.7" y2="204.7" stroke="#c6c6c6" stroke-width="0.9"/>
<text x="500.7" y="212.1" text-anchor="middle" class="tk">2035</text>
<line x1="524.2" y1="201.5" x2="524.2" y2="204.7" stroke="#c6c6c6" stroke-width="0.9"/>
<text x="524.2" y="212.1" text-anchor="middle" class="tk">2040</text>
<line x1="547.7" y1="201.5" x2="547.7" y2="204.7" stroke="#c6c6c6" stroke-width="0.9"/>
<text x="547.7" y="212.1" text-anchor="middle" class="tk">2045</text>
<line x1="571.2" y1="201.5" x2="571.2" y2="204.7" stroke="#c6c6c6" stroke-width="0.9"/>
<text x="571.2" y="212.1" text-anchor="middle" class="tk">2050</text>
<line x1="594.8" y1="201.5" x2="594.8" y2="204.7" stroke="#c6c6c6" stroke-width="0.9"/>
<text x="594.8" y="212.1" text-anchor="middle" class="tk">2055</text>
<line x1="618.3" y1="201.5" x2="618.3" y2="204.7" stroke="#c6c6c6" stroke-width="0.9"/>
<text x="618.3" y="212.1" text-anchor="middle" class="tk">2060</text>
<line x1="641.8" y1="201.5" x2="641.8" y2="204.7" stroke="#c6c6c6" stroke-width="0.9"/>
<text x="641.8" y="212.1" text-anchor="middle" class="tk">2065</text>
<line x1="665.3" y1="201.5" x2="665.3" y2="204.7" stroke="#c6c6c6" stroke-width="0.9"/>
<text x="665.3" y="212.1" text-anchor="middle" class="tk">2070</text>
<text x="536.2" y="224.7" text-anchor="middle" class="ax">Year</text>
<text transform="translate(380.5,121.5) rotate(-90)" text-anchor="middle" class="ax">Proportion</text>
<circle cx="536.5" cy="31.5" r="0.6" fill="#333"/>
</g>
<g>
<rect x="12.5" y="271.5" width="305.0" height="204.0" fill="#fff" stroke="#eaeaea" stroke-width="1"/>
<clipPath id="cc"><rect x="45.5" y="287.5" width="264.0" height="158.0"/></clipPath>
<g clip-path="url(#cc)">
<path d="M45.2 253.2 L46.4 253.7 L47.5 255.3 L48.7 256.6 L49.9 257.6 L51 258.4 L52.2 259.4 L53.3 259.7 L54.5 260.5 L55.7 261.6 L56.8 262.3 L58 263.9 L59.2 264.5 L60.3 265.7 L61.5 266.5 L62.6 266.9 L63.8 268.4 L65 270.1 L66.1 270.3 L67.3 271.4 L68.5 272.7 L69.6 273.3 L70.8 273.4 L71.9 274 L73.1 275.9 L74.3 276.2 L75.4 277 L76.6 279 L77.8 279.4 L78.9 280.4 L80.1 281.2 L81.3 282.9 L82.4 283.3 L83.6 283.5 L84.7 284.4 L85.9 285 L87.1 288.5 L88.2 293.4 L89.4 295.8 L90.6 298.5 L91.7 299.4 L92.9 301.7 L94 303.1 L95.2 305.3 L96.4 305.9 L97.5 307.3 L98.7 308.6 L99.9 309 L101 310.3 L102.2 311.6 L103.3 311.8 L104.5 313.6 L105.7 314.6 L106.8 315.4 L108 316.7 L109.2 317.1 L110.3 316.9 L111.5 318.8 L112.7 318.9 L113.8 320 L115 320.3 L116.1 319.9 L117.3 320.7 L118.5 322 L119.6 322.3 L120.8 323.2 L122 323.6 L123.1 324.1 L124.3 324.6 L125.4 324.5 L126.6 324.8 L127.8 325.3 L128.9 326 L130.1 327 L131.3 326.7 L132.4 327.2 L133.6 326.5 L134.8 326.7 L135.9 326.7 L137.1 327.3 L138.2 328.1 L139.4 327 L140.6 327 L141.7 328.3 L142.9 327.7 L144.1 327.3 L145.2 328.4 L146.4 327.2 L147.5 328.3 L148.7 328.7 L149.9 327.7 L151 328.3 L152.2 328.7 L153.4 327.9 L154.5 329.1 L155.7 327.2 L156.8 328.3 L158 327.7 L159.2 327.9 L160.3 327.4 L161.5 327.1 L162.7 327.8 L163.8 327 L165 327.4 L166.2 327.4 L167.3 327.1 L168.5 327.4 L169.6 327.2 L170.8 326.3 L172 326.7 L173.1 326 L174.3 326.2 L175.5 326.7 L176.6 327 L177.8 326.4 L178.9 325.8 L180.1 325.8 L181.3 326.1 L182.4 325.2 L183.6 326.3 L184.8 326 L185.9 325.2 L187.1 324.2 L188.2 324.9 L189.4 325.4 L190.6 324.4 L191.7 324.2 L192.9 323.9 L194.1 324.3 L195.2 324.3 L196.4 323.7 L197.6 323.4 L198.7 322.7 L199.9 322.3 L201 323.4 L202.2 323.1 L203.4 322.7 L204.5 322.6 L205.7 322 L206.9 321.9 L208 321.8 L209.2 321.1 L210.3 321.6 L211.5 321.8 L212.7 321.8 L213.8 321.4 L215 321.2 L216.2 321.4 L217.3 320.1 L218.5 320.1 L219.6 320.2 L220.8 320.2 L222 320.3 L223.1 319.9 L224.3 318.4 L225.5 320.1 L226.6 318.8 L227.8 318.3 L229 318.4 L230.1 318.4 L231.3 317.8 L232.4 318.4 L233.6 317.5 L234.8 316.9 L235.9 317.9 L237.1 317.6 L238.3 317 L239.4 316.5 L240.6 316.2 L241.7 316.3 L242.9 316.8 L244.1 316.8 L245.2 316.1 L246.4 315.9 L247.6 316.4 L248.7 315.7 L249.9 315.4 L251.1 315 L252.2 315.7 L253.4 314.9 L254.5 315.5 L255.7 315 L256.9 314.7 L258 313.8 L259.2 312.9 L260.4 314.2 L261.5 314.1 L262.7 313.8 L263.8 314.7 L265 313.7 L266.2 314.5 L267.3 313.2 L268.5 313.2 L269.7 313.5 L270.8 314 L272 312.8 L273.1 313.4 L274.3 313.4 L275.5 313.1 L276.6 314.1 L277.8 313 L279 312.7 L280.1 312.9 L281.3 312.9 L282.5 313.4 L283.6 312.7 L284.8 312.9 L285.9 313 L287.1 313.2 L288.3 312.6 L289.4 312.4 L290.6 312.8 L291.8 312.6 L292.9 312.4 L294.1 312.3 L295.2 312.9 L296.4 313.1 L297.6 313.2 L298.7 313 L299.9 312.7 L301.1 312.6 L302.2 313.2 L303.4 312.9 L304.5 313.4 L305.7 312.4 L306.9 313.2 L308 312.8 L309.2 313.3 L309.2 411.5 L308 411.4 L306.9 411.9 L305.7 411.8 L304.5 411.9 L303.4 411.7 L302.2 411.7 L301.1 411.4 L299.9 411.8 L298.7 411.9 L297.6 412 L296.4 411.3 L295.2 411.8 L294.1 411.6 L292.9 411.7 L291.8 411.9 L290.6 411.8 L289.4 411.6 L288.3 411.7 L287.1 411.4 L285.9 411.4 L284.8 411.4 L283.6 412 L282.5 411.7 L281.3 411.5 L280.1 411.8 L279 411.8 L277.8 411.5 L276.6 411.7 L275.5 411.6 L274.3 411.7 L273.1 411.5 L272 412.1 L270.8 411.5 L269.7 411.8 L268.5 411.8 L267.3 411.7 L266.2 412.2 L265 412.4 L263.8 411.6 L262.7 411.5 L261.5 411.9 L260.4 412 L259.2 411.8 L258 411.8 L256.9 411.8 L255.7 411.9 L254.5 411.4 L253.4 411.9 L252.2 411.9 L251.1 411.5 L249.9 412.2 L248.7 412.1 L247.6 411.8 L246.4 411.7 L245.2 411.7 L244.1 411.6 L242.9 412.2 L241.7 411.7 L240.6 412.1 L239.4 412 L238.3 411.6 L237.1 412.2 L235.9 411.9 L234.8 411.9 L233.6 411.8 L232.4 411.8 L231.3 412.1 L230.1 411.6 L229 411.8 L227.8 412 L226.6 411.7 L225.5 411.9 L224.3 411.7 L223.1 411.9 L222 411.9 L220.8 411.9 L219.6 411.9 L218.5 411.8 L217.3 411.4 L216.2 412 L215 411.9 L213.8 412.1 L212.7 411.9 L211.5 411.9 L210.3 411.8 L209.2 411.8 L208 411.8 L206.9 411.7 L205.7 411.8 L204.5 412.1 L203.4 412.3 L202.2 411.8 L201 411.9 L199.9 412.2 L198.7 411.8 L197.6 411.7 L196.4 411.8 L195.2 412.2 L194.1 412.1 L192.9 412.3 L191.7 411.8 L190.6 412.1 L189.4 411.9 L188.2 411.9 L187.1 412.2 L185.9 412.2 L184.8 411.7 L183.6 412.2 L182.4 411.6 L181.3 411.7 L180.1 412.2 L178.9 411.9 L177.8 412.1 L176.6 412.3 L175.5 411.6 L174.3 412.2 L173.1 412.4 L172 412 L170.8 411.5 L169.6 412.2 L168.5 412 L167.3 412.1 L166.2 411.9 L165 411.9 L163.8 411.8 L162.7 412 L161.5 412.2 L160.3 412.1 L159.2 412.1 L158 411.7 L156.8 411.9 L155.7 412 L154.5 411.5 L153.4 412.1 L152.2 411.7 L151 411.5 L149.9 411.2 L148.7 411.8 L147.5 411.2 L146.4 411.4 L145.2 411.8 L144.1 411.3 L142.9 411.3 L141.7 411.2 L140.6 411.3 L139.4 411.2 L138.2 411.1 L137.1 410.7 L135.9 410.4 L134.8 410.5 L133.6 410.3 L132.4 410.1 L131.3 409.9 L130.1 409.6 L128.9 409.6 L127.8 409.2 L126.6 409.3 L125.4 409.4 L124.3 409.1 L123.1 408.8 L122 408.2 L120.8 408.3 L119.6 408.1 L118.5 407.8 L117.3 407.1 L116.1 407.5 L115 407.4 L113.8 406.8 L112.7 406.3 L111.5 406.2 L110.3 406.5 L109.2 405.7 L108 405.3 L106.8 404.7 L105.7 404.4 L104.5 404 L103.3 403.5 L102.2 403.1 L101 402.7 L99.9 401.8 L98.7 400.6 L97.5 400.9 L96.4 399.5 L95.2 399.2 L94 398.2 L92.9 397.5 L91.7 395.8 L90.6 395.6 L89.4 394.8 L88.2 394 L87.1 393.1 L85.9 392.8 L84.7 391.2 L83.6 390 L82.4 388.4 L81.3 386.9 L80.1 385.4 L78.9 384.3 L77.8 382.5 L76.6 349.8 L75.4 349.1 L74.3 349.1 L73.1 348 L71.9 347.8 L70.8 346.8 L69.6 345.8 L68.5 345.8 L67.3 344.5 L66.1 343.4 L65 342.5 L63.8 341.8 L62.6 340.1 L61.5 339.2 L60.3 338.5 L59.2 332.1 L58 318.4 L56.8 313.6 L55.7 311.5 L54.5 308.7 L53.3 307.1 L52.2 305.5 L51 303.7 L49.9 301.6 L48.7 299.6 L47.5 297.4 L46.4 296.1 L45.2 294Z" fill="rgba(120,120,120,0.052)"/>
<path d="M104.4 312.8 L105.6 320.9 L106.8 324.2 L107.9 332.8 L109.1 336.8 L110.3 337.7 L111.4 339 L112.6 338.9 L113.8 341 L114.9 340 L116.1 339.4 L117.2 342.2 L118.4 342.6 L119.6 343.9 L120.7 342.5 L121.9 342.3 L123.1 342.7 L124.2 343 L125.4 342.8 L126.5 344.3 L127.7 343.9 L128.9 346 L130 346.2 L131.2 344.8 L132.4 345.3 L133.5 343.6 L134.7 342.5 L135.9 342.9 L137 343.5 L138.2 343 L139.3 340.7 L140.5 342.1 L141.7 340.8 L142.8 340.5 L144 339.7 L145.2 338.1 L146.3 339.1 L147.5 339.3 L148.7 336.1 L149.8 336.7 L151 335.6 L152.1 335.7 L153.3 334.4 L154.5 333.4 L155.6 332.8 L156.8 333.7 L158 333.2 L159.1 331.9 L160.3 331.5 L161.4 330.7 L162.6 331.3 L163.8 332.3 L164.9 329.3 L166.1 328.5 L167.3 328.1 L168.4 326.7 L169.6 326.9 L170.8 327.5 L171.9 325.7 L173.1 326.2 L174.2 324.5 L175.4 325 L176.6 324.3 L177.7 324 L178.9 323.7 L180.1 324.6 L181.2 322.7 L182.4 324.3 L183.6 321.3 L184.7 320.4 L185.9 319 L187 320 L188.2 320.5 L189.4 321.1 L190.5 317.7 L191.7 320.6 L192.9 318.4 L194 321.1 L195.2 318.9 L196.4 318.1 L197.5 318.3 L198.7 318.5 L199.8 319 L201 319 L202.2 317.1 L203.3 317.4 L204.5 317.8 L205.7 317.4 L206.8 318.2 L208 316.3 L209.1 315.9 L210.3 317.6 L211.5 316.7 L212.6 315.7 L213.8 317.1 L215 314.5 L216.1 314.8 L217.3 316.3 L218.5 315 L219.6 314.2 L220.8 316.7 L221.9 314.9 L223.1 315.4 L224.3 315.3 L225.4 314.3 L226.6 315.3 L227.8 315.9 L228.9 315.8 L230.1 314.4 L231.3 313.6 L232.4 314.1 L233.6 314.1 L234.7 313.8 L235.9 312.5 L237.1 313.1 L238.2 314.1 L239.4 313.6 L240.6 312.1 L241.7 313.6 L242.9 313.3 L244.1 312.9 L245.2 313.7 L246.4 311.8 L247.5 314.5 L248.7 311.1 L249.9 312.7 L251 313.3 L252.2 311.8 L253.4 313.5 L254.5 311.3 L255.7 311 L256.8 312.1 L258 311.8 L259.2 310.5 L260.3 311.9 L261.5 311.2 L262.7 310.9 L263.8 309.7 L265 311.5 L266.2 310.9 L267.3 309.9 L268.5 313.1 L269.6 311 L270.8 312.4 L272 312.2 L273.1 308.7 L274.3 310.2 L275.5 309 L276.6 310.5 L277.8 309.7 L279 310.5 L280.1 310.5 L281.3 310 L282.4 309.8 L283.6 308.5 L284.8 310 L285.9 309.4 L287.1 309.9 L288.3 309.5 L289.4 310.7 L290.6 308.5 L291.7 309.9 L292.9 309.3 L294.1 309.5 L295.2 308.3 L296.4 308.7 L297.6 309.1 L298.7 308.9 L299.9 308.7 L301.1 308.2 L302.2 308.4 L303.4 307.6 L304.5 307.2 L305.7 308.1 L306.9 309.8 L308 306.9 L309.2 306.5 L309.2 416.6 L308 417 L306.9 416.4 L305.7 416.6 L304.5 416.5 L303.4 416.4 L302.2 416.6 L301.1 416.4 L299.9 416.8 L298.7 416.8 L297.6 416.5 L296.4 416.5 L295.2 416.4 L294.1 416.4 L292.9 416.7 L291.7 416.8 L290.6 416.8 L289.4 416.8 L288.3 416.9 L287.1 417.2 L285.9 416.7 L284.8 416.7 L283.6 417.1 L282.4 417.3 L281.3 416.3 L280.1 416.5 L279 416.8 L277.8 416.8 L276.6 416.9 L275.5 416.8 L274.3 416.7 L273.1 416.4 L272 417.1 L270.8 416.9 L269.6 416.7 L268.5 416.3 L267.3 417.1 L266.2 417.4 L265 417 L263.8 416.4 L262.7 416.6 L261.5 416.9 L260.3 416.7 L259.2 416.9 L258 416.5 L256.8 417 L255.7 416.8 L254.5 417.4 L253.4 416.5 L252.2 416 L251 416.6 L249.9 416.6 L248.7 417 L247.5 417.2 L246.4 416.8 L245.2 416.9 L244.1 416.6 L242.9 417.5 L241.7 417 L240.6 417.3 L239.4 417.2 L238.2 416.3 L237.1 417.3 L235.9 417.1 L234.7 417 L233.6 416.6 L232.4 416.9 L231.3 417 L230.1 417.4 L228.9 417.1 L227.8 416.9 L226.6 417.1 L225.4 417.3 L224.3 417.1 L223.1 417.3 L221.9 416.9 L220.8 417.1 L219.6 417 L218.5 417.3 L217.3 417.4 L216.1 417.1 L215 417.3 L213.8 417.4 L212.6 416.8 L211.5 417.8 L210.3 417.2 L209.1 416.9 L208 416.9 L206.8 417.2 L205.7 417 L204.5 417 L203.3 417.2 L202.2 417.3 L201 417.4 L199.8 416.3 L198.7 417.1 L197.5 417 L196.4 416.9 L195.2 417.4 L194 417.4 L192.9 417.3 L191.7 416.9 L190.5 416.7 L189.4 417.1 L188.2 417.6 L187 416.8 L185.9 417.6 L184.7 417.3 L183.6 417.4 L182.4 417 L181.2 417 L180.1 417.3 L178.9 417.3 L177.7 417 L176.6 417.2 L175.4 417.4 L174.2 417.1 L173.1 417.9 L171.9 417 L170.8 417.4 L169.6 417.7 L168.4 416.8 L167.3 417.7 L166.1 417.8 L164.9 417.6 L163.8 417.3 L162.6 417.3 L161.4 416.8 L160.3 417.4 L159.1 416.5 L158 416.8 L156.8 416.9 L155.6 417.3 L154.5 416.8 L153.3 416.7 L152.1 416.2 L151 416.8 L149.8 416.2 L148.7 416.5 L147.5 415.6 L146.3 416 L145.2 416.6 L144 416.5 L142.8 415.8 L141.7 415.9 L140.5 415.4 L139.3 415.9 L138.2 415.9 L137 415.3 L135.9 414.9 L134.7 415.5 L133.5 415.1 L132.4 415.6 L131.2 414.2 L130 414.7 L128.9 413.9 L127.7 414.2 L126.5 413.7 L125.4 413.7 L124.2 413.2 L123.1 413.3 L121.9 413.3 L120.7 412.9 L119.6 412.8 L118.4 412.3 L117.2 411.5 L116.1 411.3 L114.9 410.7 L113.8 409.8 L112.6 409.5 L111.4 409.7 L110.3 407.9 L109.1 408.2 L107.9 406.9 L106.8 405.8 L105.6 403.4 L104.4 401.5Z" fill="rgba(20,158,0,0.10)"/>
</g>
<line x1="45.5" y1="441.5" x2="309.5" y2="441.5" stroke="#000" stroke-opacity="0.045" stroke-width="1"/>
<line x1="45.5" y1="403.7" x2="309.5" y2="403.7" stroke="#000" stroke-opacity="0.045" stroke-width="1"/>
<line x1="45.5" y1="365.9" x2="309.5" y2="365.9" stroke="#000" stroke-opacity="0.045" stroke-width="1"/>
<line x1="45.5" y1="328.1" x2="309.5" y2="328.1" stroke="#000" stroke-opacity="0.045" stroke-width="1"/>
<line x1="45.5" y1="290.3" x2="309.5" y2="290.3" stroke="#000" stroke-opacity="0.045" stroke-width="1"/>
<g clip-path="url(#cc)">
<polyline points="45.2,218.2 46.4,222.1 47.5,225.6 48.7,229.6 49.9,232.6 51,236.1 52.2,239.5 53.3,243.1 54.5,246.3 55.7,249.9 56.8,253.6 58,256.4 59.2,259.9 60.3,263.1 61.5,267 62.6,270.6 63.8,274.1 65,277.8 66.1,280.5 67.3,284.6 68.5,287.8 69.6,288.5 70.8,289 71.9,290.3 73.1,291.4 74.3,292 75.4,292.3 76.6,299.9 77.8,338.2 78.9,342.3 80.1,344.9 81.3,347.3 82.4,350 83.6,351.5 84.7,353.3 85.9,355.4 87.1,356.1 88.2,357.2 89.4,357.7 90.6,359.2 91.7,360.6 92.9,360.9 94,362.1 95.2,363.5 96.4,364.1 97.5,365 98.7,366 99.9,366.7 101,368.1 102.2,368.3 103.3,368.7 104.5,369.5 105.7,370 106.8,370.7 108,371.2 109.2,372.7 110.3,372.6 111.5,374 112.7,374.1 113.8,375 115,374.6 116.1,375.1 117.3,376 118.5,376 119.6,377.1 120.8,377.2 122,377.6 123.1,378.3 124.3,378.3 125.4,378.2 126.6,379.4 127.8,379.2 128.9,379.7 130.1,379.3 131.3,379.8 132.4,379.9 133.6,380.1 134.8,380.4 135.9,381 137.1,380.3 138.2,381.3 139.4,381 140.6,381.1 141.7,381.6 142.9,381.4 144.1,381.2 145.2,381.6 146.4,381.9 147.5,382.6 148.7,382 149.9,382 151,382 152.2,382.2 153.4,381.8 154.5,382.2 155.7,382.1 156.8,381.9 158,382.4 159.2,382.3 160.3,381.7 161.5,382.1 162.7,382.8 163.8,382.5 165,382.4 166.2,382.2 167.3,382.6 168.5,382.8 169.6,382.9 170.8,382.6 172,382.7 173.1,383 174.3,383 175.5,382.9 176.6,382.5 177.8,382.8 178.9,382.4 180.1,382.2 181.3,382.2 182.4,382.5 183.6,381.8 184.8,382.3 185.9,381.8 187.1,382.1 188.2,382.3 189.4,381.6 190.6,381.5 191.7,381.5 192.9,381.3 194.1,381.5 195.2,381.4 196.4,381.2 197.6,380.5 198.7,380.7 199.9,381 201,380.6 202.2,380.8 203.4,380.7 204.5,380.2 205.7,380.5 206.9,380.8 208,380.5 209.2,380.1 210.3,380 211.5,379.5 212.7,380 213.8,379.5 215,379.4 216.2,379.5 217.3,379.1 218.5,379.1 219.6,379.4 220.8,378.7 222,379.3 223.1,378.8 224.3,378.7 225.5,378.4 226.6,378.7 227.8,378.3 229,378.2 230.1,377.8 231.3,378.2 232.4,377.8 233.6,377.8 234.8,378 235.9,376.7 237.1,377.5 238.3,377.8 239.4,376.8 240.6,377.5 241.7,377 242.9,376.7 244.1,377.1 245.2,376.9 246.4,376.9 247.6,376.6 248.7,377 249.9,376.8 251.1,376.4 252.2,375.9 253.4,375.9 254.5,375.5 255.7,375.7 256.9,376 258,375.8 259.2,376.3 260.4,375.8 261.5,375.7 262.7,375.2 263.8,375 265,375.2 266.2,375.1 267.3,375.3 268.5,374.8 269.7,374.5 270.8,374.4 272,374.6 273.1,373.7 274.3,373.8 275.5,374.1 276.6,374.1 277.8,373.9 279,373.7 280.1,373.6 281.3,373.3 282.5,373.2 283.6,373 284.8,373 285.9,373.4 287.1,373.2 288.3,373.4 289.4,373.4 290.6,372.6 291.8,373.3 292.9,372.6 294.1,373.2 295.2,373 296.4,372.7 297.6,373 298.7,372.9 299.9,373 301.1,373.1 302.2,373 303.4,373.1 304.5,372.3 305.7,372.9 306.9,372.3 308,373.6 309.2,372.7" fill="none" stroke="#838383" stroke-width="2.1" stroke-linejoin="round" stroke-linecap="butt"/>
<polyline points="104.4,369.5 105.6,376.1 106.8,381.8 107.9,385 109.1,386 110.3,386.2 111.4,385.7 112.6,387.1 113.8,387.5 114.9,388.2 116.1,388.4 117.2,389.4 118.4,389.4 119.6,388.7 120.7,389.5 121.9,389.9 123.1,390 124.2,390 125.4,390.8 126.5,390.5 127.7,391.2 128.9,391.7 130,391.2 131.2,392.9 132.4,392.3 133.5,392.1 134.7,392.7 135.9,392.5 137,392.8 138.2,393 139.3,391.8 140.5,392.7 141.7,393.1 142.8,392.7 144,393.3 145.2,392.9 146.3,393.1 147.5,392.7 148.7,393.9 149.8,393.1 151,393.4 152.1,393.9 153.3,393.1 154.5,393.9 155.6,393 156.8,393.4 158,393.4 159.1,393.6 160.3,393.4 161.4,394.5 162.6,393.8 163.8,394.1 164.9,393.8 166.1,393.9 167.3,393.6 168.4,394.1 169.6,393 170.8,392.8 171.9,393.7 173.1,393.6 174.2,393.5 175.4,393.1 176.6,392.8 177.7,393.9 178.9,393.7 180.1,393.8 181.2,393.8 182.4,393.9 183.6,393.1 184.7,393.7 185.9,392.6 187,392.8 188.2,393.5 189.4,393.4 190.5,393.2 191.7,392.4 192.9,393.1 194,393.3 195.2,392.7 196.4,392.5 197.5,392.8 198.7,391.8 199.8,392.3 201,392.1 202.2,392.5 203.3,392.2 204.5,392.1 205.7,392.9 206.8,391.8 208,392.5 209.1,391.8 210.3,392.2 211.5,390.9 212.6,391.4 213.8,391 215,390.8 216.1,391.5 217.3,391.7 218.5,390.8 219.6,390.2 220.8,390.4 221.9,390 223.1,389.8 224.3,390.5 225.4,389.7 226.6,388.9 227.8,389.7 228.9,390.1 230.1,389.3 231.3,389.2 232.4,388.8 233.6,389.1 234.7,388.6 235.9,389.4 237.1,388.1 238.2,387.8 239.4,387.8 240.6,388.8 241.7,388 242.9,389.2 244.1,387.9 245.2,387.9 246.4,388.2 247.5,387.6 248.7,387.6 249.9,387.3 251,387.5 252.2,387.4 253.4,388.1 254.5,387.8 255.7,387.4 256.8,387 258,387.1 259.2,386.5 260.3,387.3 261.5,387 262.7,386.8 263.8,386.9 265,386.6 266.2,386.9 267.3,386.1 268.5,386.7 269.6,386.1 270.8,386.5 272,385.8 273.1,386.9 274.3,386.1 275.5,386.4 276.6,386.1 277.8,385.7 279,386.5 280.1,386.5 281.3,386.3 282.4,385.8 283.6,386.5 284.8,385.7 285.9,386.2 287.1,386 288.3,385.7 289.4,385.3 290.6,385.6 291.7,385.5 292.9,385.3 294.1,385.3 295.2,386.1 296.4,385.2 297.6,384.9 298.7,384.5 299.9,384 301.1,384.7 302.2,385.1 303.4,385.7 304.5,385.5 305.7,385.4 306.9,385.4 308,386.4 309.2,386.2" fill="none" stroke="#2b8c21" stroke-width="2.1" stroke-linejoin="round" stroke-linecap="butt"/>
</g>
<rect x="45.5" y="287.5" width="264.0" height="158.0" fill="none" stroke="#d0d0d0" stroke-width="1"/>
<line x1="45.5" y1="287.5" x2="309.5" y2="287.5" stroke="#c2c2c2" stroke-width="1"/>
<line x1="42.3" y1="441.5" x2="45.5" y2="441.5" stroke="#c6c6c6" stroke-width="0.9"/>
<text x="40.5" y="444" text-anchor="end" class="tk">0</text>
<line x1="42.3" y1="403.7" x2="45.5" y2="403.7" stroke="#c6c6c6" stroke-width="0.9"/>
<text x="40.5" y="406.2" text-anchor="end" class="tk">5</text>
<line x1="42.3" y1="365.9" x2="45.5" y2="365.9" stroke="#c6c6c6" stroke-width="0.9"/>
<text x="40.5" y="368.4" text-anchor="end" class="tk">10</text>
<line x1="42.3" y1="328.1" x2="45.5" y2="328.1" stroke="#c6c6c6" stroke-width="0.9"/>
<text x="40.5" y="330.6" text-anchor="end" class="tk">15</text>
<line x1="42.3" y1="290.3" x2="45.5" y2="290.3" stroke="#c6c6c6" stroke-width="0.9"/>
<text x="40.5" y="292.8" text-anchor="end" class="tk">20</text>
<line x1="48.5" y1="445.5" x2="48.5" y2="448.7" stroke="#c6c6c6" stroke-width="0.9"/>
<text x="48.5" y="456.2" text-anchor="middle" class="tk">2015</text>
<line x1="71.8" y1="445.5" x2="71.8" y2="448.7" stroke="#c6c6c6" stroke-width="0.9"/>
<text x="71.8" y="456.2" text-anchor="middle" class="tk">2020</text>
<line x1="95.1" y1="445.5" x2="95.1" y2="448.7" stroke="#c6c6c6" stroke-width="0.9"/>
<text x="95.1" y="456.2" text-anchor="middle" class="tk">2025</text>
<line x1="118.4" y1="445.5" x2="118.4" y2="448.7" stroke="#c6c6c6" stroke-width="0.9"/>
<text x="118.4" y="456.2" text-anchor="middle" class="tk">2030</text>
<line x1="141.7" y1="445.5" x2="141.7" y2="448.7" stroke="#c6c6c6" stroke-width="0.9"/>
<text x="141.7" y="456.2" text-anchor="middle" class="tk">2035</text>
<line x1="165.1" y1="445.5" x2="165.1" y2="448.7" stroke="#c6c6c6" stroke-width="0.9"/>
<text x="165.1" y="456.2" text-anchor="middle" class="tk">2040</text>
<line x1="188.4" y1="445.5" x2="188.4" y2="448.7" stroke="#c6c6c6" stroke-width="0.9"/>
<text x="188.4" y="456.2" text-anchor="middle" class="tk">2045</text>
<line x1="211.7" y1="445.5" x2="211.7" y2="448.7" stroke="#c6c6c6" stroke-width="0.9"/>
<text x="211.7" y="456.2" text-anchor="middle" class="tk">2050</text>
<line x1="235" y1="445.5" x2="235" y2="448.7" stroke="#c6c6c6" stroke-width="0.9"/>
<text x="235" y="456.2" text-anchor="middle" class="tk">2055</text>
<line x1="258.3" y1="445.5" x2="258.3" y2="448.7" stroke="#c6c6c6" stroke-width="0.9"/>
<text x="258.3" y="456.2" text-anchor="middle" class="tk">2060</text>
<line x1="281.6" y1="445.5" x2="281.6" y2="448.7" stroke="#c6c6c6" stroke-width="0.9"/>
<text x="281.6" y="456.2" text-anchor="middle" class="tk">2065</text>
<line x1="304.9" y1="445.5" x2="304.9" y2="448.7" stroke="#c6c6c6" stroke-width="0.9"/>
<text x="304.9" y="456.2" text-anchor="middle" class="tk">2070</text>
<text x="177" y="468.3" text-anchor="middle" class="ax">Year</text>
<text transform="translate(24,366.5) rotate(-90)" text-anchor="middle" class="ax">Percentage</text>
<circle cx="176.5" cy="276.5" r="0.6" fill="#333"/>
</g>
<g>
<rect x="368.5" y="270.5" width="310.0" height="206.0" fill="#fff" stroke="#eaeaea" stroke-width="1"/>
<clipPath id="cd"><rect x="407.5" y="285.5" width="263.0" height="161.0"/></clipPath>
<g clip-path="url(#cd)">
<path d="M407.8 196.2 L409 182.6 L410.1 199.8 L411.3 190.6 L412.4 186.2 L413.6 200.2 L414.8 194.4 L415.9 205.4 L417.1 204.9 L418.3 198.9 L419.4 207.7 L420.6 175.9 L421.7 209 L422.9 211.4 L424.1 213.8 L425.2 210.8 L426.4 215.2 L427.6 208.9 L428.7 215.7 L429.9 213.3 L431 209.2 L432.2 208.7 L433.4 210.5 L434.5 223.8 L435.7 206.4 L436.9 221.9 L438 226.7 L439.2 220 L440.3 218.1 L441.5 226.1 L442.7 230.3 L443.8 228.4 L445 206.3 L446.2 224.8 L447.3 204.3 L448.5 232.4 L449.6 219.1 L450.8 233.7 L452 232.5 L453.1 223.4 L454.3 234.3 L455.5 238.4 L456.6 220.4 L457.8 240.3 L458.9 245.1 L460.1 230.3 L461.3 235.8 L462.4 213.4 L463.6 245.5 L464.8 223.2 L465.9 249.1 L467.1 250.9 L468.2 246.1 L469.4 245.5 L470.6 251 L471.7 241.6 L472.9 233.9 L474.1 229.6 L475.2 255.7 L476.4 264.7 L477.5 257.7 L478.7 267.6 L479.9 277.4 L481 279.2 L482.2 279.9 L483.4 281 L484.5 280.4 L485.7 284.8 L486.8 285.1 L488 256.5 L489.2 295.4 L490.3 295.4 L491.5 296.9 L492.7 272.7 L493.8 289.8 L495 277.2 L496.1 295.1 L497.3 300.4 L498.5 298.5 L499.6 297.8 L500.8 303.6 L502 268.4 L503.1 300.4 L504.3 303.1 L505.4 276.7 L506.6 306.8 L507.8 305.1 L508.9 303.2 L510.1 302.1 L511.3 306.8 L512.4 305.5 L513.6 304.7 L514.7 294.2 L515.9 296.6 L517.1 308.3 L518.2 301.7 L519.4 308.9 L520.6 311.6 L521.7 309.9 L522.9 272.4 L524 308.6 L525.2 307.7 L526.4 310.2 L527.5 311 L528.7 308.7 L529.9 312.9 L531 311.6 L532.2 313.6 L533.3 313.2 L534.5 314.9 L535.7 309 L536.8 309.1 L538 315.2 L539.1 314.3 L540.3 313.1 L541.5 314.7 L542.6 305.9 L543.8 313.4 L545 312.3 L546.1 315.5 L547.3 313.3 L548.4 309.8 L549.6 310.9 L550.8 316.2 L551.9 316.6 L553.1 317.5 L554.3 314.7 L555.4 304.3 L556.6 313.8 L557.7 303.2 L558.9 316.3 L560.1 305.6 L561.2 311.3 L562.4 316.9 L563.6 262.6 L564.7 255.7 L565.9 314.1 L567 311.8 L568.2 314.7 L569.4 315.9 L570.5 314 L571.7 315.1 L572.9 313.2 L574 306.2 L575.2 306.9 L576.3 313.1 L577.5 313 L578.7 304.1 L579.8 288 L581 309.9 L582.2 309.9 L583.3 308.2 L584.5 294.1 L585.6 310 L586.8 298.2 L588 308.7 L589.1 280.2 L590.3 308.6 L591.5 298.6 L592.6 298.6 L593.8 305.8 L594.9 308 L596.1 305.5 L597.3 305.6 L598.4 307.3 L599.6 275.6 L600.8 309.7 L601.9 305.2 L603.1 304 L604.2 296.4 L605.4 305.9 L606.6 231.3 L607.7 308.1 L608.9 306.3 L610.1 303.7 L611.2 293 L612.4 304 L613.5 292.9 L614.7 297.2 L615.9 306.6 L617 303.7 L618.2 307 L619.4 303.1 L620.5 303.6 L621.7 306.1 L622.8 303.5 L624 304.2 L625.2 303.6 L626.3 297.2 L627.5 294.9 L628.7 304.2 L629.8 302.6 L631 306.1 L632.1 302.5 L633.3 299.9 L634.5 299.7 L635.6 268.6 L636.8 302.4 L638 293.1 L639.1 300.8 L640.3 292.6 L641.4 301.2 L642.6 300.9 L643.8 300.7 L644.9 298.1 L646.1 302.7 L647.3 294 L648.4 291.5 L649.6 293.6 L650.7 282.3 L651.9 298.3 L653.1 301.5 L654.2 304.4 L655.4 299.1 L656.6 301.7 L657.7 288.1 L658.9 301.3 L660 280.2 L661.2 299.3 L662.4 301.5 L663.5 280.2 L664.7 299.1 L665.9 286.3 L667 284.9 L668.2 289.7 L669.3 279.3 L670.5 297 L670.5 455.2 L669.3 454.7 L668.2 455.2 L667 454.8 L665.9 454.9 L664.7 455.1 L663.5 455.2 L662.4 455 L661.2 455.3 L660 455 L658.9 455.1 L657.7 455.5 L656.6 454.6 L655.4 454.6 L654.2 455.4 L653.1 455.3 L651.9 455.5 L650.7 455.3 L649.6 454.8 L648.4 454.7 L647.3 454.7 L646.1 455 L644.9 454.9 L643.8 455.1 L642.6 455.3 L641.4 455.2 L640.3 454.9 L639.1 455 L638 454.9 L636.8 454.7 L635.6 455.2 L634.5 454.9 L633.3 454.4 L632.1 454.5 L631 454.8 L629.8 454.5 L628.7 455.2 L627.5 454.7 L626.3 454.5 L625.2 454.8 L624 455.1 L622.8 455.4 L621.7 454.7 L620.5 455.5 L619.4 454.9 L618.2 454.2 L617 455 L615.9 454.6 L614.7 454.7 L613.5 455.2 L612.4 455.1 L611.2 455 L610.1 455.3 L608.9 454.7 L607.7 455 L606.6 454.5 L605.4 455.3 L604.2 455.2 L603.1 454.8 L601.9 454.6 L600.8 454.8 L599.6 454.5 L598.4 455.2 L597.3 455.1 L596.1 455.1 L594.9 454.5 L593.8 455.3 L592.6 455.1 L591.5 455.3 L590.3 455 L589.1 454.3 L588 454.7 L586.8 454.8 L585.6 454.5 L584.5 455.1 L583.3 454.6 L582.2 454.5 L581 455.3 L579.8 454.5 L578.7 454.9 L577.5 455.1 L576.3 454.5 L575.2 454.6 L574 454.8 L572.9 455 L571.7 455 L570.5 455.2 L569.4 455.3 L568.2 454.7 L567 455.5 L565.9 454.6 L564.7 454.1 L563.6 454.9 L562.4 454.6 L561.2 454.8 L560.1 455.3 L558.9 455.4 L557.7 455.7 L556.6 454.9 L555.4 454.9 L554.3 455.3 L553.1 454.7 L551.9 455.3 L550.8 454.9 L549.6 454.4 L548.4 454.8 L547.3 454.9 L546.1 454.6 L545 455.1 L543.8 454.7 L542.6 454.8 L541.5 454.8 L540.3 455 L539.1 455.3 L538 455 L536.8 455.3 L535.7 454.8 L534.5 455.2 L533.3 454.9 L532.2 454.1 L531 453.9 L529.9 455.4 L528.7 454.9 L527.5 455.4 L526.4 454.6 L525.2 454.3 L524 455.3 L522.9 454.5 L521.7 454.7 L520.6 455.2 L519.4 454 L518.2 454.9 L517.1 455.1 L515.9 454.2 L514.7 455.2 L513.6 455.6 L512.4 455.1 L511.3 454.9 L510.1 455.1 L508.9 454.7 L507.8 455 L506.6 455 L505.4 455.1 L504.3 454.3 L503.1 455.2 L502 454.7 L500.8 454.7 L499.6 454.2 L498.5 454.8 L497.3 454.6 L496.1 453.3 L495 450.8 L493.8 445.9 L492.7 443.6 L491.5 441.7 L490.3 441.4 L489.2 441.6 L488 441.1 L486.8 440.7 L485.7 441.3 L484.5 441.2 L483.4 440.3 L482.2 440.3 L481 439.9 L479.9 440.2 L478.7 439.3 L477.5 439.9 L476.4 439.1 L475.2 439.2 L474.1 438.3 L472.9 439.3 L471.7 438.7 L470.6 439.2 L469.4 438.9 L468.2 438.8 L467.1 438.5 L465.9 438 L464.8 437.6 L463.6 437.2 L462.4 437.5 L461.3 436.6 L460.1 436.3 L458.9 437 L457.8 436 L456.6 436.5 L455.5 435.9 L454.3 435.9 L453.1 434.9 L452 435.3 L450.8 435 L449.6 435 L448.5 434.7 L447.3 433.9 L446.2 433.3 L445 433.8 L443.8 434.4 L442.7 433.2 L441.5 433.4 L440.3 433 L439.2 432.6 L438 432.2 L436.9 431.8 L435.7 432 L434.5 431.2 L433.4 431.4 L432.2 431.3 L431 430.4 L429.9 429.4 L428.7 428.7 L427.6 428.6 L426.4 427.4 L425.2 427.2 L424.1 426.1 L422.9 424.1 L421.7 422.8 L420.6 422 L419.4 420.9 L418.3 419.9 L417.1 418.6 L415.9 417.3 L414.8 415.6 L413.6 415.7 L412.4 415.2 L411.3 413.7 L410.1 413.1 L409 412.5 L407.8 411.8Z" fill="rgba(120,120,120,0.052)"/>
<path d="M466.6 231.7 L467.7 247 L468.9 249.8 L470 245.8 L471.2 245.8 L472.3 251.2 L473.5 247.2 L474.7 252.6 L475.8 254.3 L477 254.7 L478.1 250.2 L479.3 252.4 L480.5 256 L481.6 256.7 L482.8 277.4 L483.9 284.5 L485.1 288.8 L486.3 282.3 L487.4 297.8 L488.6 300.2 L489.7 298.3 L490.9 299.6 L492 300.9 L493.2 303.6 L494.4 305.8 L495.5 296.8 L496.7 306.5 L497.8 305.9 L499 308.3 L500.2 313.3 L501.3 296.5 L502.5 294.6 L503.6 308 L504.8 313.4 L506 314.5 L507.1 313.9 L508.3 314 L509.4 311.3 L510.6 313.5 L511.7 312.6 L512.9 313.7 L514.1 314.3 L515.2 316.1 L516.4 315.5 L517.5 314.9 L518.7 314 L519.9 320.3 L521 322.3 L522.2 314.9 L523.3 307.7 L524.5 320 L525.7 314.1 L526.8 323 L528 318.4 L529.1 322.5 L530.3 316.9 L531.4 315.4 L532.6 316.1 L533.8 321.4 L534.9 318.9 L536.1 317.9 L537.2 322.2 L538.4 317.8 L539.6 322.9 L540.7 323.3 L541.9 321.1 L543 324.7 L544.2 319.9 L545.4 322.3 L546.5 323.5 L547.7 320.1 L548.8 321.7 L550 323.4 L551.1 320.3 L552.3 323.7 L553.5 323.1 L554.6 318.3 L555.8 325.3 L556.9 324.2 L558.1 318.8 L559.3 327.9 L560.4 326.2 L561.6 322.9 L562.7 320.2 L563.9 327.7 L565 322.6 L566.2 326.3 L567.4 326 L568.5 327.2 L569.7 323.9 L570.8 320.4 L572 322.8 L573.2 323.6 L574.3 318 L575.5 324.2 L576.6 326.7 L577.8 327.1 L579 322.8 L580.1 321.6 L581.3 321.1 L582.4 324.7 L583.6 320.1 L584.7 316.4 L585.9 319.1 L587.1 318.3 L588.2 321.8 L589.4 314.1 L590.5 321 L591.7 322 L592.9 321 L594 317.2 L595.2 316 L596.3 317.7 L597.5 322.8 L598.7 318.3 L599.8 319.3 L601 314.2 L602.1 316 L603.3 311.1 L604.4 318.4 L605.6 311.7 L606.8 316 L607.9 317.8 L609.1 313 L610.2 314.9 L611.4 316.7 L612.6 313 L613.7 314 L614.9 317.8 L616 313.9 L617.2 317.7 L618.4 313.1 L619.5 308.1 L620.7 318.2 L621.8 319.5 L623 312.1 L624.1 314 L625.3 317.7 L626.5 309.7 L627.6 316.8 L628.8 311.3 L629.9 312.4 L631.1 314.5 L632.3 316.5 L633.4 309.9 L634.6 311 L635.7 312.4 L636.9 313.9 L638.1 307.5 L639.2 314.2 L640.4 318 L641.5 313.1 L642.7 306 L643.8 316 L645 303.9 L646.2 317.1 L647.3 313 L648.5 308.8 L649.6 302.3 L650.8 310.7 L652 308.6 L653.1 312.7 L654.3 310 L655.4 284.7 L656.6 313.5 L657.8 310.3 L658.9 311.3 L660.1 309.4 L661.2 304.7 L662.4 312.3 L663.5 308 L664.7 309.9 L665.9 301.4 L667 306 L668.2 306.7 L669.3 297.8 L670.5 295.4 L670.5 442.6 L669.3 442.6 L668.2 442.6 L667 442.6 L665.9 442.6 L664.7 442.6 L663.5 442.6 L662.4 442.6 L661.2 442.6 L660.1 442.6 L658.9 442.6 L657.8 442.6 L656.6 442.6 L655.4 442.6 L654.3 442.6 L653.1 442.6 L652 442.6 L650.8 442.6 L649.6 442.6 L648.5 442.6 L647.3 442.6 L646.2 442.6 L645 442.6 L643.8 442.6 L642.7 442.6 L641.5 442.6 L640.4 442.6 L639.2 442.6 L638.1 442.6 L636.9 442.6 L635.7 442.6 L634.6 442.6 L633.4 442.6 L632.3 442.6 L631.1 442.6 L629.9 442.6 L628.8 442.6 L627.6 442.6 L626.5 442.6 L625.3 442.6 L624.1 442.6 L623 442.6 L621.8 442.6 L620.7 442.6 L619.5 442.6 L618.4 442.6 L617.2 442.6 L616 442.6 L614.9 442.6 L613.7 442.6 L612.6 442.6 L611.4 442.6 L610.2 442.6 L609.1 442.6 L607.9 442.6 L606.8 442.6 L605.6 442.6 L604.4 442.6 L603.3 442.6 L602.1 442.6 L601 442.6 L599.8 442.6 L598.7 442.6 L597.5 442.6 L596.3 442.6 L595.2 442.6 L594 442.6 L592.9 442.6 L591.7 442.6 L590.5 442.6 L589.4 442.6 L588.2 442.6 L587.1 442.6 L585.9 442.6 L584.7 442.6 L583.6 442.6 L582.4 442.6 L581.3 442.6 L580.1 442.6 L579 442.6 L577.8 442.6 L576.6 442.6 L575.5 442.6 L574.3 442.6 L573.2 442.6 L572 442.6 L570.8 442.6 L569.7 442.6 L568.5 442.6 L567.4 442.6 L566.2 442.6 L565 442.6 L563.9 442.6 L562.7 442.6 L561.6 442.6 L560.4 442.6 L559.3 442.6 L558.1 442.6 L556.9 442.6 L555.8 442.6 L554.6 442.6 L553.5 442.6 L552.3 442.6 L551.1 442.6 L550 442.6 L548.8 442.6 L547.7 442.6 L546.5 442.6 L545.4 442.6 L544.2 442.6 L543 442.6 L541.9 442.6 L540.7 442.6 L539.6 442.6 L538.4 442.6 L537.2 442.6 L536.1 442.6 L534.9 442.6 L533.8 442.6 L532.6 442.6 L531.4 442.6 L530.3 442.6 L529.1 442.6 L528 442.6 L526.8 442.6 L525.7 442.6 L524.5 442.6 L523.3 442.6 L522.2 442.6 L521 442.6 L519.9 442.6 L518.7 442.6 L517.5 442.6 L516.4 442.6 L515.2 442.6 L514.1 442.6 L512.9 442.6 L511.7 442.6 L510.6 442.6 L509.4 442.6 L508.3 442.6 L507.1 442.6 L506 442.6 L504.8 442.6 L503.6 442.6 L502.5 442.6 L501.3 442.6 L500.2 442.6 L499 442.6 L497.8 442.6 L496.7 442.6 L495.5 442.5 L494.4 442.3 L493.2 442.2 L492 442.1 L490.9 441.9 L489.7 441.8 L488.6 441.6 L487.4 441.4 L486.3 441.2 L485.1 441.1 L483.9 440.9 L482.8 440.7 L481.6 440.5 L480.5 440.4 L479.3 440.2 L478.1 440 L477 439.9 L475.8 439.7 L474.7 439.5 L473.5 439.3 L472.3 439.2 L471.2 439 L470 438.8 L468.9 438.6 L467.7 438.5 L466.6 438.3Z" fill="rgba(20,158,0,0.10)"/>
</g>
<line x1="407.5" y1="442.6" x2="670.5" y2="442.6" stroke="#000" stroke-opacity="0.045" stroke-width="1"/>
<line x1="407.5" y1="411.8" x2="670.5" y2="411.8" stroke="#000" stroke-opacity="0.045" stroke-width="1"/>
<line x1="407.5" y1="381" x2="670.5" y2="381" stroke="#000" stroke-opacity="0.045" stroke-width="1"/>
<line x1="407.5" y1="350.2" x2="670.5" y2="350.2" stroke="#000" stroke-opacity="0.045" stroke-width="1"/>
<line x1="407.5" y1="319.4" x2="670.5" y2="319.4" stroke="#000" stroke-opacity="0.045" stroke-width="1"/>
<line x1="407.5" y1="288.6" x2="670.5" y2="288.6" stroke="#000" stroke-opacity="0.045" stroke-width="1"/>
<g clip-path="url(#cd)">
<polyline points="407.8,294.7 409,299.3 410.1,302.3 411.3,305.7 412.4,308.6 413.6,309 414.8,306.7 415.9,316.5 417.1,319.9 418.3,323.5 419.4,323.6 420.6,328.5 421.7,330.6 422.9,335.8 424.1,342.6 425.2,346.7 426.4,352.8 427.6,354.8 428.7,362 429.9,362.9 431,366 432.2,366.9 433.4,368 434.5,370.1 435.7,366 436.9,370.5 438,370.6 439.2,369.3 440.3,369 441.5,377.4 442.7,378.1 443.8,378 445,380.7 446.2,385 447.3,385.1 448.5,383.4 449.6,384 450.8,385.8 452,387.7 453.1,388.3 454.3,390.5 455.5,390.4 456.6,391.8 457.8,391.9 458.9,394.8 460.1,393 461.3,393.4 462.4,393.9 463.6,396.1 464.8,394.3 465.9,397 467.1,399.7 468.2,399.7 469.4,401.5 470.6,404.2 471.7,404.5 472.9,406.7 474.1,405.4 475.2,406 476.4,406.9 477.5,405.3 478.7,408 479.9,408.9 481,410.3 482.2,409.7 483.4,411.4 484.5,409.7 485.7,412 486.8,411.7 488,410.4 489.2,411.6 490.3,412.9 491.5,411.9 492.7,413.5 493.8,412.8 495,413.7 496.1,414.8 497.3,413.6 498.5,413.3 499.6,414.7 500.8,415.6 502,415.2 503.1,417.1 504.3,415.5 505.4,416.1 506.6,413.2 507.8,415.9 508.9,417 510.1,414.7 511.3,415.9 512.4,415.8 513.6,415.7 514.7,415.8 515.9,416.5 517.1,415.4 518.2,415.9 519.4,417 520.6,416.8 521.7,417.7 522.9,416.6 524,416.3 525.2,416.5 526.4,416.7 527.5,417.5 528.7,415.9 529.9,417.7 531,417.5 532.2,418 533.3,417.6 534.5,418 535.7,415.8 536.8,417.4 538,419.6 539.1,418.4 540.3,419.4 541.5,417.2 542.6,416.8 543.8,418.7 545,417.7 546.1,418.6 547.3,418 548.4,416.8 549.6,418.9 550.8,419.8 551.9,417.9 553.1,418.1 554.3,417.9 555.4,417.6 556.6,419.2 557.7,420.5 558.9,417.6 560.1,419 561.2,419.8 562.4,419.7 563.6,417.5 564.7,418.4 565.9,418.3 567,417.7 568.2,419.2 569.4,419.7 570.5,419.4 571.7,419.7 572.9,418.9 574,419.4 575.2,418.4 576.3,418.8 577.5,418.3 578.7,417.5 579.8,416.7 581,416.4 582.2,417.8 583.3,417.6 584.5,418.2 585.6,416.6 586.8,416 588,418 589.1,416.6 590.3,417.6 591.5,417.3 592.6,416.9 593.8,417.4 594.9,416 596.1,418.2 597.3,417.4 598.4,416.9 599.6,417.8 600.8,416.5 601.9,418.4 603.1,416.8 604.2,418.3 605.4,417.1 606.6,416.5 607.7,414.9 608.9,416 610.1,415.5 611.2,417 612.4,415.1 613.5,417.4 614.7,417.5 615.9,418.5 617,417 618.2,416.3 619.4,418 620.5,417.7 621.7,417.8 622.8,417.7 624,418 625.2,418.8 626.3,416.2 627.5,419.5 628.7,418.5 629.8,417.3 631,416.6 632.1,417.9 633.3,418 634.5,417.7 635.6,418 636.8,416.9 638,418.3 639.1,418.8 640.3,418.4 641.4,417.8 642.6,416.7 643.8,416.4 644.9,418.4 646.1,419.5 647.3,419.4 648.4,416 649.6,418.5 650.7,417.7 651.9,416.3 653.1,418.9 654.2,418.4 655.4,418.8 656.6,419.3 657.7,417.5 658.9,417.3 660,420.2 661.2,417.4 662.4,418.6 663.5,418.2 664.7,418.2 665.9,419.8 667,418.8 668.2,419.5 669.3,416.7 670.5,416.4" fill="none" stroke="#838383" stroke-width="2.1" stroke-linejoin="round" stroke-linecap="butt"/>
<polyline points="466.6,397 467.7,397.5 468.9,401.4 470,402.4 471.2,406.2 472.3,406.2 473.5,407.6 474.7,407.7 475.8,407.5 477,407.9 478.1,409.3 479.3,410.2 480.5,411.1 481.6,411.2 482.8,410.9 483.9,413.4 485.1,412.8 486.3,413.6 487.4,412.5 488.6,414.5 489.7,413.4 490.9,415 492,415.1 493.2,413.4 494.4,413.9 495.5,415.5 496.7,416.3 497.8,415.9 499,414.9 500.2,415.6 501.3,416.4 502.5,415.5 503.6,415.1 504.8,417 506,416.4 507.1,417 508.3,415.8 509.4,416.6 510.6,417.3 511.7,418.1 512.9,416.6 514.1,417.4 515.2,417.2 516.4,417.6 517.5,417.3 518.7,419 519.9,418.4 521,417.7 522.2,416.7 523.3,417.9 524.5,418.4 525.7,418.9 526.8,419 528,418.8 529.1,419.3 530.3,418.6 531.4,418.8 532.6,417.4 533.8,419 534.9,418.2 536.1,419.3 537.2,418.4 538.4,417.4 539.6,419.6 540.7,420.1 541.9,418.6 543,419.4 544.2,419.7 545.4,419.2 546.5,419.4 547.7,418.7 548.8,419.4 550,420.2 551.1,420.6 552.3,421 553.5,420.5 554.6,418.8 555.8,420.7 556.9,419.6 558.1,418.7 559.3,419.1 560.4,418.4 561.6,418.9 562.7,418.3 563.9,419.8 565,420 566.2,417.9 567.4,419.1 568.5,419.2 569.7,419.7 570.8,418.1 572,418.8 573.2,418.8 574.3,419.6 575.5,419 576.6,419.3 577.8,419 579,418.6 580.1,419.2 581.3,419.4 582.4,418.1 583.6,419.4 584.7,417.5 585.9,417.4 587.1,419.5 588.2,417.2 589.4,418.9 590.5,417.3 591.7,418.6 592.9,417.6 594,418.8 595.2,417.5 596.3,417.9 597.5,416.8 598.7,417.4 599.8,418.7 601,417.8 602.1,418.6 603.3,418 604.4,417 605.6,417 606.8,418.1 607.9,418.8 609.1,418.2 610.2,416.8 611.4,418.4 612.6,419.4 613.7,419.4 614.9,419.3 616,417.6 617.2,418.7 618.4,419.1 619.5,418.3 620.7,417.9 621.8,418.7 623,419.2 624.1,418.5 625.3,418.1 626.5,419.9 627.6,419.8 628.8,417.3 629.9,418.5 631.1,418.6 632.3,419.9 633.4,419.6 634.6,419.1 635.7,418.1 636.9,418.9 638.1,420.2 639.2,417.9 640.4,417.9 641.5,418.5 642.7,420 643.8,419.7 645,419.4 646.2,419.1 647.3,417.9 648.5,420.3 649.6,419.8 650.8,419.4 652,419.8 653.1,419.8 654.3,420.5 655.4,419.4 656.6,419.7 657.8,419.4 658.9,418.9 660.1,419.8 661.2,419.7 662.4,419.4 663.5,420 664.7,419.5 665.9,421 667,420.3 668.2,419.4 669.3,419.6 670.5,419.2" fill="none" stroke="#2b8c21" stroke-width="2.1" stroke-linejoin="round" stroke-linecap="butt"/>
</g>
<rect x="407.5" y="285.5" width="263.0" height="161.0" fill="none" stroke="#d0d0d0" stroke-width="1"/>
<line x1="407.5" y1="285.5" x2="670.5" y2="285.5" stroke="#c2c2c2" stroke-width="1"/>
<line x1="404.3" y1="442.6" x2="407.5" y2="442.6" stroke="#c6c6c6" stroke-width="0.9"/>
<text x="402.5" y="445.1" text-anchor="end" class="tk">0.00</text>
<line x1="404.3" y1="411.8" x2="407.5" y2="411.8" stroke="#c6c6c6" stroke-width="0.9"/>
<text x="402.5" y="414.3" text-anchor="end" class="tk">0.25</text>
<line x1="404.3" y1="381" x2="407.5" y2="381" stroke="#c6c6c6" stroke-width="0.9"/>
<text x="402.5" y="383.5" text-anchor="end" class="tk">0.50</text>
<line x1="404.3" y1="350.2" x2="407.5" y2="350.2" stroke="#c6c6c6" stroke-width="0.9"/>
<text x="402.5" y="352.7" text-anchor="end" class="tk">0.75</text>
<line x1="404.3" y1="319.4" x2="407.5" y2="319.4" stroke="#c6c6c6" stroke-width="0.9"/>
<text x="402.5" y="321.9" text-anchor="end" class="tk">1.00</text>
<line x1="404.3" y1="288.6" x2="407.5" y2="288.6" stroke="#c6c6c6" stroke-width="0.9"/>
<text x="402.5" y="291.1" text-anchor="end" class="tk">1.25</text>
<line x1="410.8" y1="446.5" x2="410.8" y2="449.7" stroke="#c6c6c6" stroke-width="0.9"/>
<text x="410.8" y="457.5" text-anchor="middle" class="tk">2015</text>
<line x1="434" y1="446.5" x2="434" y2="449.7" stroke="#c6c6c6" stroke-width="0.9"/>
<text x="434" y="457.5" text-anchor="middle" class="tk">2020</text>
<line x1="457.3" y1="446.5" x2="457.3" y2="449.7" stroke="#c6c6c6" stroke-width="0.9"/>
<text x="457.3" y="457.5" text-anchor="middle" class="tk">2025</text>
<line x1="480.5" y1="446.5" x2="480.5" y2="449.7" stroke="#c6c6c6" stroke-width="0.9"/>
<text x="480.5" y="457.5" text-anchor="middle" class="tk">2030</text>
<line x1="503.7" y1="446.5" x2="503.7" y2="449.7" stroke="#c6c6c6" stroke-width="0.9"/>
<text x="503.7" y="457.5" text-anchor="middle" class="tk">2035</text>
<line x1="527" y1="446.5" x2="527" y2="449.7" stroke="#c6c6c6" stroke-width="0.9"/>
<text x="527" y="457.5" text-anchor="middle" class="tk">2040</text>
<line x1="550.2" y1="446.5" x2="550.2" y2="449.7" stroke="#c6c6c6" stroke-width="0.9"/>
<text x="550.2" y="457.5" text-anchor="middle" class="tk">2045</text>
<line x1="573.4" y1="446.5" x2="573.4" y2="449.7" stroke="#c6c6c6" stroke-width="0.9"/>
<text x="573.4" y="457.5" text-anchor="middle" class="tk">2050</text>
<line x1="596.6" y1="446.5" x2="596.6" y2="449.7" stroke="#c6c6c6" stroke-width="0.9"/>
<text x="596.6" y="457.5" text-anchor="middle" class="tk">2055</text>
<line x1="619.9" y1="446.5" x2="619.9" y2="449.7" stroke="#c6c6c6" stroke-width="0.9"/>
<text x="619.9" y="457.5" text-anchor="middle" class="tk">2060</text>
<line x1="643.1" y1="446.5" x2="643.1" y2="449.7" stroke="#c6c6c6" stroke-width="0.9"/>
<text x="643.1" y="457.5" text-anchor="middle" class="tk">2065</text>
<line x1="666.3" y1="446.5" x2="666.3" y2="449.7" stroke="#c6c6c6" stroke-width="0.9"/>
<text x="666.3" y="457.5" text-anchor="middle" class="tk">2070</text>
<text x="538.6" y="469.6" text-anchor="middle" class="ax">Year</text>
<text transform="translate(382,366) rotate(-90)" text-anchor="middle" class="ax">Incidence per 100 person years</text>
<circle cx="539.5" cy="276" r="0.6" fill="#333"/>
</g>
<g>
<rect x="10.5" y="523.5" width="309.0" height="207.0" fill="#fff" stroke="#eaeaea" stroke-width="1"/>
<clipPath id="ce"><rect x="48.5" y="539.5" width="263.0" height="160.0"/></clipPath>
<g clip-path="url(#ce)">
<path d="M48.5 291.1 L49.7 290 L50.8 293.5 L52 302.1 L53.1 305.9 L54.3 271.1 L55.4 310.1 L56.6 317 L57.8 320.3 L58.9 324.3 L60.1 324.8 L61.2 325.4 L62.4 328.5 L63.6 336.4 L64.7 342.6 L65.9 335.3 L67 345.7 L68.2 350.9 L69.3 350.7 L70.5 359.9 L71.7 362.7 L72.8 366.2 L74 359.1 L75.1 374.2 L76.3 374 L77.5 380.3 L78.6 385.3 L79.8 388.3 L80.9 392.4 L82.1 393.9 L83.2 398.8 L84.4 403.5 L85.6 405.5 L86.7 412.8 L87.9 415.7 L89 413.5 L90.2 424.6 L91.4 425.7 L92.5 429.8 L93.7 428.5 L94.8 429.4 L96 443.7 L97.1 443.6 L98.3 447.2 L99.5 441.8 L100.6 447.3 L101.8 457.7 L102.9 460.4 L104.1 446.1 L105.2 468.2 L106.4 471 L107.6 475 L108.7 479.7 L109.9 476.7 L111 488 L112.2 482.8 L113.4 500.4 L114.5 511.4 L115.7 521 L116.8 541.4 L118 535.5 L119.1 536.9 L120.3 550.7 L121.5 549.3 L122.6 551 L123.8 552.8 L124.9 552.1 L126.1 553.4 L127.3 556 L128.4 543.6 L129.6 557.7 L130.7 557.3 L131.9 558.1 L133 557 L134.2 554 L135.4 557.2 L136.5 557.7 L137.7 562.1 L138.8 560.1 L140 557.9 L141.2 557.4 L142.3 525.5 L143.5 556.1 L144.6 561.9 L145.8 560.2 L146.9 563.7 L148.1 543.3 L149.3 559.3 L150.4 549 L151.6 540.7 L152.7 554.4 L153.9 559.2 L155 560 L156.2 558 L157.4 559.7 L158.5 556.4 L159.7 560.2 L160.8 547.6 L162 543.1 L163.2 563.3 L164.3 557.7 L165.5 560.6 L166.6 558 L167.8 560.6 L168.9 560.1 L170.1 559 L171.3 560.4 L172.4 560.3 L173.6 552.6 L174.7 544.1 L175.9 547.1 L177.1 558.7 L178.2 558.4 L179.4 559.6 L180.5 555.1 L181.7 561.5 L182.8 552.9 L184 559.1 L185.2 560.6 L186.3 556.8 L187.5 558.9 L188.6 560.5 L189.8 559.3 L191 558.5 L192.1 558.3 L193.3 559.2 L194.4 557.7 L195.6 555.9 L196.7 545 L197.9 549.2 L199.1 547 L200.2 555.4 L201.4 554.9 L202.5 556.9 L203.7 558.1 L204.9 543.2 L206 553 L207.2 557.5 L208.3 530.1 L209.5 553.9 L210.6 542.5 L211.8 554.8 L213 551.6 L214.1 553 L215.3 553 L216.4 550.9 L217.6 538.7 L218.7 555.1 L219.9 545.1 L221.1 552.8 L222.2 551.2 L223.4 549 L224.5 529.3 L225.7 546.5 L226.9 551 L228 545.4 L229.2 545.1 L230.3 544 L231.5 545.3 L232.6 538 L233.8 544 L235 547.6 L236.1 542.5 L237.3 546.4 L238.4 542.3 L239.6 541.7 L240.8 540 L241.9 547.9 L243.1 542.2 L244.2 544.1 L245.4 540.8 L246.5 547.1 L247.7 545.9 L248.9 544.2 L250 543.1 L251.2 544.5 L252.3 530.9 L253.5 536.3 L254.7 544.6 L255.8 540.2 L257 544.6 L258.1 529.5 L259.3 548.4 L260.4 544.2 L261.6 531.8 L262.8 540.3 L263.9 542.1 L265.1 543.9 L266.2 543 L267.4 541.5 L268.5 542.2 L269.7 540.2 L270.9 540.6 L272 536.1 L273.2 540.4 L274.3 526.7 L275.5 538.4 L276.7 541.2 L277.8 543.7 L279 544.5 L280.1 546 L281.3 541.4 L282.4 538.8 L283.6 542.2 L284.8 546.1 L285.9 533.5 L287.1 542.3 L288.2 541.5 L289.4 539 L290.6 539.8 L291.7 539.2 L292.9 543 L294 541.1 L295.2 532.3 L296.3 535.4 L297.5 543.3 L298.7 537.4 L299.8 541 L301 525.3 L302.1 537.7 L303.3 540.1 L304.5 544.2 L305.6 543.2 L306.8 542.7 L307.9 537.7 L309.1 540.9 L310.2 542.1 L311.4 530.3 L311.4 716.6 L310.2 716.1 L309.1 716.7 L307.9 716.2 L306.8 716.3 L305.6 715.6 L304.5 715.7 L303.3 715.9 L302.1 715.3 L301 715.5 L299.8 716.1 L298.7 715.5 L297.5 716.1 L296.3 714.6 L295.2 714.7 L294 715.2 L292.9 713.9 L291.7 714.8 L290.6 714.4 L289.4 714.1 L288.2 713.9 L287.1 714.2 L285.9 713.5 L284.8 713.6 L283.6 713.9 L282.4 713.6 L281.3 713.6 L280.1 713.8 L279 713 L277.8 713.1 L276.7 713.4 L275.5 712.3 L274.3 712.7 L273.2 712.9 L272 713.3 L270.9 711.7 L269.7 712.2 L268.5 712.2 L267.4 711.8 L266.2 712.2 L265.1 712.2 L263.9 711.6 L262.8 711.9 L261.6 711.6 L260.4 711.7 L259.3 710.7 L258.1 711.2 L257 711 L255.8 710.4 L254.7 710.4 L253.5 711.4 L252.3 709.9 L251.2 710.7 L250 710.2 L248.9 710.3 L247.7 710.2 L246.5 710.1 L245.4 709.5 L244.2 709.8 L243.1 710.2 L241.9 708.8 L240.8 709.5 L239.6 709.9 L238.4 709.8 L237.3 709.4 L236.1 708.1 L235 709 L233.8 708.9 L232.6 709 L231.5 708.9 L230.3 708.7 L229.2 707.5 L228 708.8 L226.9 708 L225.7 706.9 L224.5 707.3 L223.4 708.3 L222.2 707.1 L221.1 707.6 L219.9 708.1 L218.7 706.7 L217.6 707.6 L216.4 706.5 L215.3 706.2 L214.1 706.5 L213 706.4 L211.8 705.9 L210.6 706 L209.5 706.4 L208.3 705.4 L207.2 706.3 L206 706.1 L204.9 706.3 L203.7 705.7 L202.5 705 L201.4 704.9 L200.2 705.8 L199.1 705.1 L197.9 704.7 L196.7 705.1 L195.6 705 L194.4 704.2 L193.3 704.9 L192.1 704.7 L191 704.9 L189.8 704.2 L188.6 704.8 L187.5 703.7 L186.3 703.7 L185.2 703.9 L184 703 L182.8 703.2 L181.7 703.3 L180.5 703.1 L179.4 703.3 L178.2 703.2 L177.1 703.2 L175.9 702.4 L174.7 702.4 L173.6 703 L172.4 701.6 L171.3 702.1 L170.1 701.8 L168.9 701.6 L167.8 701.6 L166.6 701.9 L165.5 701.4 L164.3 701 L163.2 701.4 L162 701.5 L160.8 700.8 L159.7 701 L158.5 701.2 L157.4 700.6 L156.2 700.2 L155 700.5 L153.9 700.4 L152.7 700.5 L151.6 700.2 L150.4 700 L149.3 699.9 L148.1 699.1 L146.9 700.3 L145.8 699.4 L144.6 699.3 L143.5 698.9 L142.3 700 L141.2 698.8 L140 699.2 L138.8 698.9 L137.7 699.7 L136.5 698.5 L135.4 698.4 L134.2 697.8 L133 698.9 L131.9 698.6 L130.7 698.6 L129.6 697.7 L128.4 697.6 L127.3 697.9 L126.1 698 L124.9 697.9 L123.8 696.8 L122.6 697.3 L121.5 697.1 L120.3 697.5 L119.1 696.5 L118 697.2 L116.8 696.4 L115.7 696.7 L114.5 696.9 L113.4 696.8 L112.2 695.9 L111 696.1 L109.9 694.7 L108.7 692.3 L107.6 690.5 L106.4 690.5 L105.2 690.2 L104.1 689.1 L102.9 689.8 L101.8 690.2 L100.6 689.9 L99.5 690.4 L98.3 690.3 L97.1 689.8 L96 689.9 L94.8 689.5 L93.7 688.6 L92.5 688.8 L91.4 689.8 L90.2 689.2 L89 688.9 L87.9 689.2 L86.7 689.2 L85.6 688.4 L84.4 688 L83.2 687.7 L82.1 688.1 L80.9 688 L79.8 687.8 L78.6 687.1 L77.5 686.2 L76.3 686.6 L75.1 685.1 L74 684.8 L72.8 684.4 L71.7 684.4 L70.5 683.4 L69.3 682.8 L68.2 681.4 L67 680 L65.9 680.8 L64.7 678.6 L63.6 677.9 L62.4 676.5 L61.2 674.4 L60.1 672.5 L58.9 671.7 L57.8 670.6 L56.6 669.4 L55.4 669.6 L54.3 668.4 L53.1 668.1 L52 667.6 L50.8 667.2 L49.7 667.1 L48.5 665.5Z" fill="rgba(120,120,120,0.052)"/>
<path d="M107.9 508.9 L109.1 513.5 L110.2 523.6 L111.4 518.5 L112.5 527.7 L113.7 531.7 L114.8 535.2 L116 539.9 L117.2 541.7 L118.3 537.3 L119.5 539.9 L120.6 542.3 L121.8 552.5 L122.9 560 L124.1 555.4 L125.3 557.7 L126.4 562.5 L127.6 552.3 L128.7 557.2 L129.9 559.7 L131 567 L132.2 563.1 L133.3 558.8 L134.5 562.7 L135.7 565.9 L136.8 565.7 L138 568.1 L139.1 559.8 L140.3 568.6 L141.4 572.5 L142.6 568.8 L143.8 550.4 L144.9 572.1 L146.1 575.6 L147.2 568.4 L148.4 567.4 L149.5 566 L150.7 571.8 L151.8 568.4 L153 574 L154.2 576.3 L155.3 572 L156.5 573.8 L157.6 569.7 L158.8 570.2 L159.9 574.7 L161.1 575.5 L162.2 567.9 L163.4 571.5 L164.6 566.5 L165.7 574.9 L166.9 572.1 L168 573.3 L169.2 571.9 L170.3 572.8 L171.5 580.1 L172.7 574.5 L173.8 575.5 L175 573.2 L176.1 570.3 L177.3 575.5 L178.4 575.3 L179.6 575.6 L180.7 575 L181.9 575.6 L183.1 570.8 L184.2 573.6 L185.4 571.8 L186.5 570.2 L187.7 568.2 L188.8 573.8 L190 571.7 L191.2 571.1 L192.3 569.9 L193.5 572.1 L194.6 567.8 L195.8 569.6 L196.9 563.6 L198.1 570.8 L199.2 572.7 L200.4 565.2 L201.6 565.4 L202.7 561.6 L203.9 559.6 L205 566.2 L206.2 562.4 L207.3 573.1 L208.5 560.7 L209.7 570.6 L210.8 563.7 L212 565.9 L213.1 563.8 L214.3 568.5 L215.4 566.5 L216.6 564.7 L217.7 558.7 L218.9 563.4 L220.1 561.8 L221.2 566 L222.4 563.3 L223.5 565.3 L224.7 561.7 L225.8 566.4 L227 566.4 L228.2 566.1 L229.3 565.4 L230.5 561.3 L231.6 565.1 L232.8 568.4 L233.9 560.5 L235.1 563.1 L236.2 559.3 L237.4 563.1 L238.6 559.6 L239.7 562.4 L240.9 557 L242 565.7 L243.2 564.9 L244.3 563.2 L245.5 563.4 L246.7 562.5 L247.8 560.8 L249 554.9 L250.1 561.9 L251.3 563.6 L252.4 557.5 L253.6 562.7 L254.7 563.3 L255.9 557.3 L257.1 565.9 L258.2 557.9 L259.4 560.2 L260.5 562.9 L261.7 561.5 L262.8 561.5 L264 559.4 L265.2 563.1 L266.3 557.5 L267.5 559.3 L268.6 549.2 L269.8 557.1 L270.9 557.1 L272.1 559.4 L273.2 558.1 L274.4 551.6 L275.6 556.5 L276.7 557.7 L277.9 560.9 L279 556.3 L280.2 561 L281.3 556.7 L282.5 559.1 L283.7 556.5 L284.8 564.9 L286 554.4 L287.1 559 L288.3 554.7 L289.4 554.4 L290.6 554.6 L291.7 558.1 L292.9 557.4 L294.1 559.4 L295.2 557.3 L296.4 556.7 L297.5 555.5 L298.7 553.2 L299.8 558.5 L301 555.2 L302.2 554.4 L303.3 556.1 L304.5 559.6 L305.6 555.1 L306.8 556.6 L307.9 557.9 L309.1 554.4 L310.2 551.4 L311.4 553.2 L311.4 695.5 L310.2 695.5 L309.1 695.5 L307.9 695.5 L306.8 695.5 L305.6 695.5 L304.5 695.5 L303.3 695.5 L302.2 695.5 L301 695.5 L299.8 695.5 L298.7 695.5 L297.5 695.5 L296.4 695.5 L295.2 695.5 L294.1 695.5 L292.9 695.5 L291.7 695.5 L290.6 695.5 L289.4 695.5 L288.3 695.5 L287.1 695.5 L286 695.5 L284.8 695.5 L283.7 695.5 L282.5 695.5 L281.3 695.5 L280.2 695.5 L279 695.5 L277.9 695.5 L276.7 695.5 L275.6 695.5 L274.4 695.5 L273.2 695.5 L272.1 695.5 L270.9 695.5 L269.8 695.5 L268.6 695.5 L267.5 695.5 L266.3 695.5 L265.2 695.5 L264 695.5 L262.8 695.5 L261.7 695.5 L260.5 695.5 L259.4 695.5 L258.2 695.5 L257.1 695.5 L255.9 695.5 L254.7 695.5 L253.6 695.5 L252.4 695.5 L251.3 695.5 L250.1 695.5 L249 695.5 L247.8 695.5 L246.7 695.5 L245.5 695.5 L244.3 695.5 L243.2 695.5 L242 695.5 L240.9 695.5 L239.7 695.5 L238.6 695.5 L237.4 695.5 L236.2 695.5 L235.1 695.5 L233.9 695.5 L232.8 695.5 L231.6 695.5 L230.5 695.5 L229.3 695.5 L228.2 695.5 L227 695.5 L225.8 695.5 L224.7 695.5 L223.5 695.5 L222.4 695.5 L221.2 695.5 L220.1 695.5 L218.9 695.5 L217.7 695.5 L216.6 695.5 L215.4 695.5 L214.3 695.5 L213.1 695.5 L212 695.5 L210.8 695.5 L209.7 695.5 L208.5 695.5 L207.3 695.5 L206.2 695.5 L205 695.5 L203.9 695.5 L202.7 695.5 L201.6 695.5 L200.4 695.5 L199.2 695.5 L198.1 695.5 L196.9 695.5 L195.8 695.5 L194.6 695.5 L193.5 695.5 L192.3 695.5 L191.2 695.5 L190 695.5 L188.8 695.5 L187.7 695.5 L186.5 695.5 L185.4 695.5 L184.2 695.5 L183.1 695.5 L181.9 695.5 L180.7 695.5 L179.6 695.5 L178.4 695.5 L177.3 695.5 L176.1 695.5 L175 695.5 L173.8 695.5 L172.7 695.5 L171.5 695.5 L170.3 695.5 L169.2 695.5 L168 695.5 L166.9 695.5 L165.7 695.5 L164.6 695.5 L163.4 695.5 L162.2 695.5 L161.1 695.5 L159.9 695.5 L158.8 695.5 L157.6 695.5 L156.5 695.5 L155.3 695.5 L154.2 695.5 L153 695.5 L151.8 695.5 L150.7 695.5 L149.5 695.5 L148.4 695.5 L147.2 695.5 L146.1 695.5 L144.9 695.5 L143.8 695.5 L142.6 695.5 L141.4 695.5 L140.3 695.5 L139.1 695.5 L138 695.5 L136.8 695.5 L135.7 695.5 L134.5 695.5 L133.3 695.5 L132.2 695.5 L131 695.5 L129.9 695.5 L128.7 695.5 L127.6 695.5 L126.4 695.5 L125.3 695.5 L124.1 695.5 L122.9 695.5 L121.8 695.5 L120.6 695.5 L119.5 695.5 L118.3 695.5 L117.2 695.5 L116 695.5 L114.8 695.5 L113.7 695.5 L112.5 695.5 L111.4 695.5 L110.2 695.5 L109.1 693.8 L107.9 692Z" fill="rgba(20,158,0,0.10)"/>
</g>
<line x1="48.5" y1="696.1" x2="311.5" y2="696.1" stroke="#000" stroke-opacity="0.045" stroke-width="1"/>
<line x1="48.5" y1="645.1" x2="311.5" y2="645.1" stroke="#000" stroke-opacity="0.045" stroke-width="1"/>
<line x1="48.5" y1="594.1" x2="311.5" y2="594.1" stroke="#000" stroke-opacity="0.045" stroke-width="1"/>
<line x1="48.5" y1="543.1" x2="311.5" y2="543.1" stroke="#000" stroke-opacity="0.045" stroke-width="1"/>
<g clip-path="url(#ce)">
<polyline points="48.5,565 49.7,564.6 50.8,559.7 52,566.8 53.1,568.9 54.3,569.1 55.4,573 56.6,577.2 57.8,574.3 58.9,578.1 60.1,581.1 61.2,583.6 62.4,583.5 63.6,594 64.7,599.6 65.9,602.7 67,608.2 68.2,612.2 69.3,617.8 70.5,615.7 71.7,617.9 72.8,619.5 74,622.8 75.1,622.1 76.3,619.4 77.5,622.7 78.6,622.3 79.8,619.3 80.9,639.6 82.1,634.3 83.2,634.9 84.4,637.7 85.6,637.7 86.7,638.8 87.9,639.8 89,640.4 90.2,641.3 91.4,640.7 92.5,643.2 93.7,641.9 94.8,644.8 96,645.5 97.1,645.3 98.3,645.5 99.5,646 100.6,645 101.8,645.4 102.9,646.5 104.1,647.9 105.2,648.1 106.4,646.8 107.6,648.8 108.7,651.9 109.9,652.6 111,654 112.2,653.4 113.4,656 114.5,653.8 115.7,656.6 116.8,658 118,659.4 119.1,658.5 120.3,660.7 121.5,662.2 122.6,661.1 123.8,662.3 124.9,661.3 126.1,663.4 127.3,667.3 128.4,663.4 129.6,667.1 130.7,663.5 131.9,663.4 133,666.3 134.2,667.3 135.4,667.7 136.5,665.1 137.7,666.5 138.8,667.1 140,666.8 141.2,664.1 142.3,666.4 143.5,666 144.6,666.1 145.8,665.9 146.9,666 148.1,668.2 149.3,667.7 150.4,668.4 151.6,668.4 152.7,666.2 153.9,668.3 155,667.8 156.2,668.7 157.4,668.6 158.5,667 159.7,668.6 160.8,668.7 162,667.6 163.2,667.6 164.3,667.4 165.5,668.2 166.6,670.6 167.8,667.8 168.9,668 170.1,667.4 171.3,669.7 172.4,665.7 173.6,670.2 174.7,668 175.9,668.8 177.1,669.5 178.2,668 179.4,669.4 180.5,668.5 181.7,669.8 182.8,668.6 184,666.5 185.2,671.1 186.3,668.6 187.5,667.6 188.6,668.7 189.8,670 191,670.7 192.1,671.4 193.3,670.5 194.4,670.1 195.6,663.1 196.7,671.7 197.9,666.5 199.1,670.2 200.2,670.6 201.4,670.3 202.5,670.8 203.7,668.5 204.9,667.8 206,667.3 207.2,664 208.3,669 209.5,668.1 210.6,663.8 211.8,668.1 213,668.5 214.1,670.8 215.3,671.9 216.4,668 217.6,669.9 218.7,668 219.9,670.7 221.1,671.2 222.2,667.8 223.4,668 224.5,669.7 225.7,668.8 226.9,668.2 228,668.5 229.2,666 230.3,667.1 231.5,668.2 232.6,668.8 233.8,669.6 235,666.5 236.1,668.4 237.3,668.2 238.4,667.2 239.6,668.1 240.8,669.2 241.9,667.6 243.1,668.3 244.2,669.9 245.4,667.5 246.5,669.4 247.7,666.8 248.9,668 250,668 251.2,668.4 252.3,668.6 253.5,671.5 254.7,665.7 255.8,669.6 257,666.5 258.1,669.3 259.3,668.7 260.4,668.8 261.6,669.9 262.8,668.8 263.9,668.1 265.1,669.2 266.2,670.2 267.4,669.4 268.5,665.2 269.7,667.4 270.9,667.8 272,665.2 273.2,670.1 274.3,667.8 275.5,668.9 276.7,669.3 277.8,667.9 279,668.3 280.1,668.5 281.3,668 282.4,669.9 283.6,671.2 284.8,669 285.9,669.2 287.1,668.1 288.2,669 289.4,669.8 290.6,665.9 291.7,670.7 292.9,666.6 294,670.2 295.2,668.9 296.3,669.6 297.5,670.1 298.7,670.3 299.8,667.8 301,669.4 302.1,671 303.3,666.8 304.5,670.8 305.6,669.6 306.8,668.2 307.9,670.4 309.1,670 310.2,670.4 311.4,669.8" fill="none" stroke="#838383" stroke-width="2.1" stroke-linejoin="round" stroke-linecap="butt"/>
<polyline points="107.9,649.2 109.1,652.2 110.2,652.8 111.4,653.5 112.5,655.7 113.7,656.5 114.8,658.5 116,658.7 117.2,659.2 118.3,659.6 119.5,659.8 120.6,662.5 121.8,661 122.9,663.1 124.1,663.5 125.3,664.7 126.4,664.2 127.6,664.8 128.7,666 129.9,665.7 131,665.8 132.2,669 133.3,670.9 134.5,667.6 135.7,665.9 136.8,666.9 138,666.6 139.1,668.5 140.3,667 141.4,667.2 142.6,666.5 143.8,668.4 144.9,666.4 146.1,668.5 147.2,666.6 148.4,667.3 149.5,668.5 150.7,666.2 151.8,669 153,668.3 154.2,668.1 155.3,667.9 156.5,668.2 157.6,667.8 158.8,668.2 159.9,668.6 161.1,669.5 162.2,669.1 163.4,668.2 164.6,669.9 165.7,669 166.9,670.8 168,674.7 169.2,673.7 170.3,668.8 171.5,671.1 172.7,669.9 173.8,669.1 175,669.3 176.1,669.2 177.3,669 178.4,669.5 179.6,669.3 180.7,670 181.9,673.6 183.1,672.1 184.2,670.1 185.4,669.3 186.5,671 187.7,671.4 188.8,670.4 190,669.6 191.2,669.6 192.3,671.9 193.5,670.3 194.6,671.2 195.8,670.5 196.9,672.6 198.1,670 199.2,671.1 200.4,670.7 201.6,671 202.7,671.7 203.9,670.5 205,671.4 206.2,671.6 207.3,670.5 208.5,671.1 209.7,671.7 210.8,670.3 212,671.6 213.1,671.2 214.3,670.6 215.4,670.4 216.6,670.2 217.7,669.8 218.9,671.1 220.1,671.7 221.2,669.7 222.4,669.9 223.5,671.2 224.7,670.4 225.8,671.2 227,672.2 228.2,670 229.3,670.5 230.5,670.7 231.6,669.4 232.8,669.6 233.9,671.2 235.1,671.6 236.2,672.2 237.4,670.6 238.6,671 239.7,670.4 240.9,670.7 242,671.3 243.2,671.2 244.3,672.2 245.5,669.9 246.7,671.4 247.8,670.5 249,671.6 250.1,671.1 251.3,670.7 252.4,671.5 253.6,672 254.7,669.5 255.9,671.6 257.1,671 258.2,671.6 259.4,672.2 260.5,670.5 261.7,671.3 262.8,671.4 264,673.5 265.2,671.5 266.3,671 267.5,671.5 268.6,671.9 269.8,670.8 270.9,671.6 272.1,671.3 273.2,671 274.4,671 275.6,673 276.7,671.6 277.9,672.5 279,673.6 280.2,671.7 281.3,673.4 282.5,672.4 283.7,674.1 284.8,672.9 286,672.4 287.1,672 288.3,672.5 289.4,672.8 290.6,672.8 291.7,670.8 292.9,672.4 294.1,672.1 295.2,670.5 296.4,673.4 297.5,673.7 298.7,672.9 299.8,672.4 301,673 302.2,672.1 303.3,672.1 304.5,673.3 305.6,671.9 306.8,673.2 307.9,671.5 309.1,671.8 310.2,670.2 311.4,671.4" fill="none" stroke="#2b8c21" stroke-width="2.1" stroke-linejoin="round" stroke-linecap="butt"/>
</g>
<rect x="48.5" y="539.5" width="263.0" height="160.0" fill="none" stroke="#d0d0d0" stroke-width="1"/>
<line x1="48.5" y1="539.5" x2="311.5" y2="539.5" stroke="#c2c2c2" stroke-width="1"/>
<line x1="45.3" y1="696.1" x2="48.5" y2="696.1" stroke="#c6c6c6" stroke-width="0.9"/>
<text x="43.5" y="698.6" text-anchor="end" class="tk">0.00</text>
<line x1="45.3" y1="645.1" x2="48.5" y2="645.1" stroke="#c6c6c6" stroke-width="0.9"/>
<text x="43.5" y="647.6" text-anchor="end" class="tk">0.25</text>
<line x1="45.3" y1="594.1" x2="48.5" y2="594.1" stroke="#c6c6c6" stroke-width="0.9"/>
<text x="43.5" y="596.6" text-anchor="end" class="tk">0.50</text>
<line x1="45.3" y1="543.1" x2="48.5" y2="543.1" stroke="#c6c6c6" stroke-width="0.9"/>
<text x="43.5" y="545.6" text-anchor="end" class="tk">0.75</text>
<line x1="52.3" y1="699.5" x2="52.3" y2="702.7" stroke="#c6c6c6" stroke-width="0.9"/>
<text x="52.3" y="711" text-anchor="middle" class="tk">2015</text>
<line x1="75.5" y1="699.5" x2="75.5" y2="702.7" stroke="#c6c6c6" stroke-width="0.9"/>
<text x="75.5" y="711" text-anchor="middle" class="tk">2020</text>
<line x1="98.6" y1="699.5" x2="98.6" y2="702.7" stroke="#c6c6c6" stroke-width="0.9"/>
<text x="98.6" y="711" text-anchor="middle" class="tk">2025</text>
<line x1="121.8" y1="699.5" x2="121.8" y2="702.7" stroke="#c6c6c6" stroke-width="0.9"/>
<text x="121.8" y="711" text-anchor="middle" class="tk">2030</text>
<line x1="145" y1="699.5" x2="145" y2="702.7" stroke="#c6c6c6" stroke-width="0.9"/>
<text x="145" y="711" text-anchor="middle" class="tk">2035</text>
<line x1="168.2" y1="699.5" x2="168.2" y2="702.7" stroke="#c6c6c6" stroke-width="0.9"/>
<text x="168.2" y="711" text-anchor="middle" class="tk">2040</text>
<line x1="191.3" y1="699.5" x2="191.3" y2="702.7" stroke="#c6c6c6" stroke-width="0.9"/>
<text x="191.3" y="711" text-anchor="middle" class="tk">2045</text>
<line x1="214.5" y1="699.5" x2="214.5" y2="702.7" stroke="#c6c6c6" stroke-width="0.9"/>
<text x="214.5" y="711" text-anchor="middle" class="tk">2050</text>
<line x1="237.7" y1="699.5" x2="237.7" y2="702.7" stroke="#c6c6c6" stroke-width="0.9"/>
<text x="237.7" y="711" text-anchor="middle" class="tk">2055</text>
<line x1="260.8" y1="699.5" x2="260.8" y2="702.7" stroke="#c6c6c6" stroke-width="0.9"/>
<text x="260.8" y="711" text-anchor="middle" class="tk">2060</text>
<line x1="284" y1="699.5" x2="284" y2="702.7" stroke="#c6c6c6" stroke-width="0.9"/>
<text x="284" y="711" text-anchor="middle" class="tk">2065</text>
<line x1="307.2" y1="699.5" x2="307.2" y2="702.7" stroke="#c6c6c6" stroke-width="0.9"/>
<text x="307.2" y="711" text-anchor="middle" class="tk">2070</text>
<text x="179.5" y="722.8" text-anchor="middle" class="ax">Year</text>
<text transform="translate(22,619.5) rotate(-90)" text-anchor="middle" class="ax">Incidence per 100 person years</text>
<circle cx="180" cy="529.5" r="0.6" fill="#333"/>
</g>
<g>
<rect x="370.5" y="523.5" width="308.0" height="206.0" fill="#fff" stroke="#eaeaea" stroke-width="1"/>
<clipPath id="cf"><rect x="411.5" y="528.5" width="259.0" height="171.0"/></clipPath>
<g clip-path="url(#cf)">
<path d="M411.3 425.6 L412.4 427.3 L413.6 422.2 L414.7 428.4 L415.9 428.4 L417 426 L418.2 433.4 L419.3 437.7 L420.4 431.6 L421.6 438.2 L422.7 442.8 L423.9 447.3 L425 440.6 L426.1 440.6 L427.3 443.8 L428.4 450.2 L429.6 453 L430.7 456.7 L431.9 452.3 L433 455.4 L434.1 458.3 L435.3 460.4 L436.4 457.8 L437.6 461.5 L438.7 464.4 L439.8 467.6 L441 467.6 L442.1 553.8 L443.3 546.4 L444.4 554.2 L445.6 546.9 L446.7 550.7 L447.8 556.4 L449 558.4 L450.1 559.6 L451.3 558.3 L452.4 552.6 L453.5 552.6 L454.7 551.2 L455.8 557.8 L457 560.7 L458.1 564.7 L459.3 560.5 L460.4 564.1 L461.5 560.6 L462.7 560.1 L463.8 562.1 L465 558.2 L466.1 564.5 L467.3 560.6 L468.4 560.9 L469.5 563.8 L470.7 562.7 L471.8 561.2 L473 555 L474.1 562.6 L475.2 561.9 L476.4 559.7 L477.5 561.1 L478.7 552.4 L479.8 560.4 L481 562 L482.1 551.4 L483.2 556.2 L484.4 559.7 L485.5 552.1 L486.7 547.5 L487.8 556.9 L488.9 561.6 L490.1 561.6 L491.2 559.1 L492.4 560.2 L493.5 557.9 L494.7 561.4 L495.8 561.5 L496.9 558.9 L498.1 552.2 L499.2 555.1 L500.4 552.5 L501.5 549.5 L502.6 555 L503.8 559.8 L504.9 557.2 L506.1 558.2 L507.2 557.6 L508.4 556.3 L509.5 557 L510.6 561 L511.8 552.5 L512.9 558.3 L514.1 556.6 L515.2 554.6 L516.4 555.7 L517.5 555.4 L518.6 549.4 L519.8 557.9 L520.9 543.8 L522.1 552.9 L523.2 555.3 L524.3 551.9 L525.5 544.5 L526.6 552.9 L527.8 546.9 L528.9 553.4 L530.1 551.1 L531.2 553 L532.3 556.7 L533.5 551.1 L534.6 551.5 L535.8 551.4 L536.9 554.7 L538 553.8 L539.2 551.5 L540.3 552.1 L541.5 550.7 L542.6 549.4 L543.8 550.4 L544.9 553.2 L546 551.7 L547.2 545 L548.3 549 L549.5 551.1 L550.6 550 L551.7 548.4 L552.9 549.4 L554 551.2 L555.2 546 L556.3 551.4 L557.5 550.6 L558.6 546.4 L559.7 544.8 L560.9 546.5 L562 548.4 L563.2 548.4 L564.3 535.2 L565.4 547.8 L566.6 551.3 L567.7 543.2 L568.9 549.4 L570 545.1 L571.2 549.3 L572.3 531.9 L573.4 548 L574.6 548.7 L575.7 545.6 L576.9 545.5 L578 544.9 L579.2 543.6 L580.3 547.9 L581.4 547.5 L582.6 548.4 L583.7 547.6 L584.9 533.2 L586 544.5 L587.1 533.7 L588.3 528.2 L589.4 535.6 L590.6 541.3 L591.7 542.7 L592.9 540.7 L594 540.6 L595.1 549.9 L596.3 543.2 L597.4 541.3 L598.6 544.2 L599.7 542.2 L600.8 543.4 L602 542.2 L603.1 543.1 L604.3 541.7 L605.4 542.6 L606.6 541.5 L607.7 539.4 L608.8 540.1 L610 543.3 L611.1 546.3 L612.3 541.3 L613.4 540 L614.5 544 L615.7 539 L616.8 538.3 L618 540.3 L619.1 534.6 L620.3 541.2 L621.4 540.5 L622.5 539 L623.7 535.9 L624.8 534.6 L626 532.9 L627.1 540.4 L628.3 535.3 L629.4 540.3 L630.5 529.3 L631.7 536.6 L632.8 536.4 L634 538.6 L635.1 527.2 L636.2 538.1 L637.4 536.9 L638.5 541.7 L639.7 538.7 L640.8 536.7 L642 543.1 L643.1 537.3 L644.2 538.6 L645.4 539.7 L646.5 529.2 L647.7 537.8 L648.8 537.3 L649.9 535.9 L651.1 536.3 L652.2 534.9 L653.4 534.9 L654.5 538.5 L655.7 532.5 L656.8 541.5 L657.9 538.1 L659.1 540.1 L660.2 532.1 L661.4 536.8 L662.5 518.8 L663.6 537.6 L664.8 531.4 L665.9 536.3 L667.1 539.7 L668.2 532.2 L669.4 536.7 L670.5 536.8 L670.5 700.8 L669.4 699.2 L668.2 699.1 L667.1 699.3 L665.9 699.6 L664.8 700.2 L663.6 699.2 L662.5 699.6 L661.4 699.6 L660.2 700.2 L659.1 700.7 L657.9 699 L656.8 699.2 L655.7 698.9 L654.5 699.8 L653.4 698.8 L652.2 699.4 L651.1 699.7 L649.9 699.2 L648.8 700.7 L647.7 698.6 L646.5 699.7 L645.4 698.8 L644.2 699.2 L643.1 699.3 L642 698 L640.8 698.9 L639.7 700.1 L638.5 698 L637.4 699.6 L636.2 698.6 L635.1 699.6 L634 698.7 L632.8 699 L631.7 699.1 L630.5 698.7 L629.4 699.8 L628.3 699.4 L627.1 697.8 L626 699.2 L624.8 698.1 L623.7 698.8 L622.5 699.3 L621.4 699.7 L620.3 698.6 L619.1 699.5 L618 699.1 L616.8 698.6 L615.7 699 L614.5 698.4 L613.4 698.7 L612.3 699.9 L611.1 698.6 L610 698.9 L608.8 698.2 L607.7 698.9 L606.6 699.7 L605.4 698.1 L604.3 698 L603.1 698.3 L602 698.8 L600.8 698.3 L599.7 698.7 L598.6 698.6 L597.4 698.2 L596.3 697.9 L595.1 697.9 L594 697.4 L592.9 697.4 L591.7 698.2 L590.6 697.4 L589.4 698.3 L588.3 698.1 L587.1 697.8 L586 698.5 L584.9 697.8 L583.7 698.6 L582.6 697.4 L581.4 697.8 L580.3 697.7 L579.2 698.7 L578 697.3 L576.9 698.3 L575.7 698.9 L574.6 698.7 L573.4 698.1 L572.3 697.3 L571.2 697.5 L570 697.7 L568.9 697.2 L567.7 698.1 L566.6 697.2 L565.4 697.7 L564.3 698.2 L563.2 698.1 L562 698.3 L560.9 697 L559.7 697.6 L558.6 697.2 L557.5 697.5 L556.3 696.3 L555.2 697.5 L554 696.7 L552.9 698 L551.7 697.3 L550.6 697.2 L549.5 697.4 L548.3 697.6 L547.2 696.8 L546 697.8 L544.9 696.6 L543.8 696.4 L542.6 696 L541.5 697.3 L540.3 697.5 L539.2 697.3 L538 697.6 L536.9 697.6 L535.8 697 L534.6 696.5 L533.5 697.1 L532.3 696.3 L531.2 697.2 L530.1 697.3 L528.9 696.7 L527.8 696.5 L526.6 696.3 L525.5 696.7 L524.3 696.2 L523.2 695.8 L522.1 696 L520.9 697.1 L519.8 696.9 L518.6 696.4 L517.5 696.5 L516.4 697 L515.2 696.2 L514.1 696.3 L512.9 696.4 L511.8 695.8 L510.6 696.6 L509.5 697 L508.4 696.6 L507.2 695.8 L506.1 696.3 L504.9 697.6 L503.8 696.7 L502.6 695.8 L501.5 695.6 L500.4 695.7 L499.2 696.8 L498.1 695.8 L496.9 697.6 L495.8 696.6 L494.7 695.8 L493.5 696.1 L492.4 696.3 L491.2 695.8 L490.1 696.1 L488.9 695.5 L487.8 696.1 L486.7 696.2 L485.5 695.4 L484.4 697.1 L483.2 696.9 L482.1 696 L481 696.5 L479.8 695 L478.7 695.5 L477.5 695.9 L476.4 696.1 L475.2 696.5 L474.1 695.7 L473 695.3 L471.8 695.4 L470.7 696.3 L469.5 695.9 L468.4 696.7 L467.3 695.3 L466.1 694.8 L465 695.4 L463.8 695.5 L462.7 695.9 L461.5 696 L460.4 696.1 L459.3 696 L458.1 695.2 L457 695.8 L455.8 695.3 L454.7 695.2 L453.5 695.9 L452.4 695.4 L451.3 694.9 L450.1 694.9 L449 695.8 L447.8 695.5 L446.7 692.5 L445.6 690.3 L444.4 687 L443.3 699.9 L442.1 687.8 L441 688.2 L439.8 687.5 L438.7 687.2 L437.6 686.6 L436.4 702.4 L435.3 685.7 L434.1 685.6 L433 687 L431.9 699.4 L430.7 692.7 L429.6 684.7 L428.4 684 L427.3 684.9 L426.1 683.9 L425 683.4 L423.9 682.8 L422.7 683.7 L421.6 682.8 L420.4 682.3 L419.3 682.5 L418.2 681.7 L417 681.8 L415.9 681.5 L414.7 682.4 L413.6 681.8 L412.4 682.4 L411.3 680.9Z" fill="rgba(120,120,120,0.052)"/>
<path d="M469.5 563.4 L470.7 568.5 L471.8 577.9 L472.9 578.3 L474.1 573 L475.2 581.2 L476.4 580.3 L477.5 582.7 L478.6 583 L479.8 581 L480.9 583.1 L482.1 583 L483.2 581.2 L484.4 582.3 L485.5 585.1 L486.6 581.9 L487.8 582.8 L488.9 583 L490.1 573.9 L491.2 580.3 L492.4 579 L493.5 584.6 L494.6 569.5 L495.8 579.9 L496.9 581.4 L498.1 582.3 L499.2 574.7 L500.3 581.6 L501.5 580.7 L502.6 562.7 L503.8 567.1 L504.9 579.2 L506.1 582 L507.2 577.8 L508.3 580.8 L509.5 575.4 L510.6 579.5 L511.8 574.3 L512.9 573.9 L514 576.7 L515.2 574.1 L516.3 575.7 L517.5 573.5 L518.6 578.7 L519.8 576.6 L520.9 575.7 L522 575.7 L523.2 572.1 L524.3 574 L525.5 574.5 L526.6 571.4 L527.8 566.8 L528.9 575 L530 568.3 L531.2 572.6 L532.3 569.2 L533.5 570.1 L534.6 572 L535.7 559.3 L536.9 569.9 L538 567.7 L539.2 560.1 L540.3 557.9 L541.5 567.9 L542.6 569.3 L543.7 567.5 L544.9 563.6 L546 565.1 L547.2 567.4 L548.3 566.1 L549.5 564.2 L550.6 559.3 L551.7 567 L552.9 562.4 L554 564.9 L555.2 563.3 L556.3 563.3 L557.4 566 L558.6 564.6 L559.7 565.9 L560.9 563.5 L562 566.2 L563.2 561.9 L564.3 562.3 L565.4 562.2 L566.6 563.2 L567.7 561.2 L568.9 563.1 L570 563.4 L571.1 561.5 L572.3 562.4 L573.4 559.5 L574.6 559.3 L575.7 562.8 L576.9 562.3 L578 559 L579.1 563.1 L580.3 565.1 L581.4 561.9 L582.6 563.5 L583.7 555.3 L584.9 562.8 L586 566.3 L587.1 563.2 L588.3 561.5 L589.4 560.8 L590.6 565.1 L591.7 562.2 L592.8 554.4 L594 562.2 L595.1 561.7 L596.3 558.7 L597.4 563.6 L598.6 562.4 L599.7 557.3 L600.8 557.1 L602 557.1 L603.1 561.8 L604.3 558.7 L605.4 559.6 L606.5 562.7 L607.7 561.5 L608.8 547.9 L610 558.6 L611.1 558.5 L612.3 561.7 L613.4 559.1 L614.5 557.2 L615.7 559.8 L616.8 562.8 L618 555.3 L619.1 560.6 L620.3 555.7 L621.4 563.8 L622.5 560 L623.7 559.8 L624.8 560.3 L626 558.7 L627.1 560.1 L628.2 557.3 L629.4 558 L630.5 556.3 L631.7 559.1 L632.8 557.1 L634 560.4 L635.1 557.7 L636.2 558.2 L637.4 550.5 L638.5 560.2 L639.7 557.8 L640.8 558.9 L642 549.5 L643.1 559 L644.2 554.9 L645.4 553.7 L646.5 558.7 L647.7 558.7 L648.8 559.8 L649.9 555.7 L651.1 557.7 L652.2 542.7 L653.4 544.6 L654.5 553 L655.7 550.9 L656.8 556 L657.9 556.1 L659.1 546.7 L660.2 551.7 L661.4 557.8 L662.5 555.7 L663.6 553.7 L664.8 554.1 L665.9 554.1 L667.1 555.3 L668.2 553.4 L669.4 555.8 L670.5 543.2 L670.5 695.3 L669.4 695.3 L668.2 695.3 L667.1 695.3 L665.9 695.3 L664.8 695.3 L663.6 695.3 L662.5 695.3 L661.4 695.3 L660.2 695.3 L659.1 695.3 L657.9 695.3 L656.8 695.3 L655.7 695.3 L654.5 695.3 L653.4 695.3 L652.2 695.3 L651.1 695.3 L649.9 695.3 L648.8 695.3 L647.7 695.3 L646.5 695.3 L645.4 695.3 L644.2 695.3 L643.1 695.3 L642 695.3 L640.8 695.3 L639.7 695.3 L638.5 695.3 L637.4 695.3 L636.2 695.3 L635.1 695.3 L634 695.3 L632.8 695.3 L631.7 695.3 L630.5 695.3 L629.4 695.3 L628.2 695.3 L627.1 695.3 L626 695.3 L624.8 695.3 L623.7 695.3 L622.5 695.3 L621.4 695.3 L620.3 695.3 L619.1 695.3 L618 695.3 L616.8 695.3 L615.7 695.3 L614.5 695.3 L613.4 695.3 L612.3 695.3 L611.1 695.3 L610 695.3 L608.8 695.3 L607.7 695.3 L606.5 695.3 L605.4 695.3 L604.3 695.3 L603.1 695.3 L602 695.3 L600.8 695.3 L599.7 695.3 L598.6 695.3 L597.4 695.3 L596.3 695.3 L595.1 695.3 L594 695.3 L592.8 695.3 L591.7 695.3 L590.6 695.3 L589.4 695.3 L588.3 695.3 L587.1 695.3 L586 695.3 L584.9 689.5 L583.7 689.4 L582.6 686 L581.4 690.9 L580.3 690.6 L579.1 691 L578 690.3 L576.9 685.6 L575.7 695.3 L574.6 688.2 L573.4 687.9 L572.3 695.3 L571.1 687.2 L570 689.9 L568.9 684.7 L567.7 689.3 L566.6 689 L565.4 685.3 L564.3 689.4 L563.2 684 L562 695.3 L560.9 695.3 L559.7 695.3 L558.6 695.3 L557.4 687.8 L556.3 687.1 L555.2 685.9 L554 695.3 L552.9 695.3 L551.7 689.2 L550.6 688.2 L549.5 689 L548.3 695.3 L547.2 695.3 L546 690 L544.9 689.6 L543.7 695.3 L542.6 695.3 L541.5 686.3 L540.3 695.3 L539.2 695.3 L538 689.7 L536.9 690.1 L535.7 695.3 L534.6 695.3 L533.5 695.3 L532.3 695.3 L531.2 690.7 L530 687.2 L528.9 695.3 L527.8 687.8 L526.6 690.5 L525.5 688.6 L524.3 686.9 L523.2 686.7 L522 686.6 L520.9 685.8 L519.8 688.5 L518.6 684.1 L517.5 695.3 L516.3 695.3 L515.2 686.6 L514 695.3 L512.9 695.3 L511.8 695.3 L510.6 695.3 L509.5 695.3 L508.3 689.3 L507.2 695.3 L506.1 695.3 L504.9 688.6 L503.8 684.3 L502.6 695.3 L501.5 684.8 L500.3 685.9 L499.2 687.4 L498.1 688.8 L496.9 695.3 L495.8 685.4 L494.6 690 L493.5 684.9 L492.4 688.8 L491.2 695.3 L490.1 695.3 L488.9 688.1 L487.8 695.3 L486.6 695.3 L485.5 689.9 L484.4 695.3 L483.2 695.3 L482.1 695.3 L480.9 695.3 L479.8 695.3 L478.6 695.3 L477.5 695.3 L476.4 695.3 L475.2 695.3 L474.1 695.3 L472.9 695.3 L471.8 695.3 L470.7 695.3 L469.5 695.3Z" fill="rgba(20,158,0,0.10)"/>
</g>
<line x1="411.5" y1="695.3" x2="670.5" y2="695.3" stroke="#000" stroke-opacity="0.045" stroke-width="1"/>
<line x1="411.5" y1="677.2" x2="670.5" y2="677.2" stroke="#000" stroke-opacity="0.045" stroke-width="1"/>
<line x1="411.5" y1="659.1" x2="670.5" y2="659.1" stroke="#000" stroke-opacity="0.045" stroke-width="1"/>
<line x1="411.5" y1="641" x2="670.5" y2="641" stroke="#000" stroke-opacity="0.045" stroke-width="1"/>
<line x1="411.5" y1="622.9" x2="670.5" y2="622.9" stroke="#000" stroke-opacity="0.045" stroke-width="1"/>
<line x1="411.5" y1="604.7" x2="670.5" y2="604.7" stroke="#000" stroke-opacity="0.045" stroke-width="1"/>
<line x1="411.5" y1="586.6" x2="670.5" y2="586.6" stroke="#000" stroke-opacity="0.045" stroke-width="1"/>
<line x1="411.5" y1="568.5" x2="670.5" y2="568.5" stroke="#000" stroke-opacity="0.045" stroke-width="1"/>
<line x1="411.5" y1="550.4" x2="670.5" y2="550.4" stroke="#000" stroke-opacity="0.045" stroke-width="1"/>
<line x1="411.5" y1="532.3" x2="670.5" y2="532.3" stroke="#000" stroke-opacity="0.045" stroke-width="1"/>
<g clip-path="url(#cf)">
<polyline points="411.3,614.1 412.4,613.5 413.6,614.8 414.7,617 415.9,622.3 417,621.7 418.2,620.1 419.3,621.7 420.4,617.4 421.6,618.1 422.7,608 423.9,605.7 425,623.2 426.1,625.6 427.3,629.4 428.4,631.9 429.6,633.1 430.7,634.4 431.9,634.7 433,635.6 434.1,636.5 435.3,635.4 436.4,639.3 437.6,638.7 438.7,637 439.8,638.9 441,635.7 442.1,641.3 443.3,647.7 444.4,649 445.6,651.9 446.7,654.4 447.8,651.9 449,651.9 450.1,653 451.3,653.2 452.4,655.4 453.5,653.9 454.7,653.4 455.8,652.5 457,651.6 458.1,654 459.3,654.6 460.4,653 461.5,653.9 462.7,654.9 463.8,651.7 465,653.7 466.1,653.1 467.3,653.4 468.4,651.7 469.5,650.7 470.7,652 471.8,650.9 473,651.7 474.1,648.4 475.2,649.1 476.4,651.1 477.5,649.7 478.7,649.6 479.8,649.1 481,649.2 482.1,653.4 483.2,651.8 484.4,650.5 485.5,648.2 486.7,647 487.8,652.1 488.9,646.2 490.1,651 491.2,649.7 492.4,650.9 493.5,650.6 494.7,647.1 495.8,647.2 496.9,646.6 498.1,646 499.2,650 500.4,649.8 501.5,644.6 502.6,648.1 503.8,643.8 504.9,649.2 506.1,640.3 507.2,649 508.4,651.6 509.5,648.4 510.6,645.3 511.8,641.2 512.9,643.1 514.1,641.9 515.2,642.9 516.4,645.1 517.5,648 518.6,647 519.8,644.1 520.9,640.3 522.1,644.6 523.2,638.2 524.3,648 525.5,648.5 526.6,646 527.8,642.1 528.9,641.3 530.1,647.3 531.2,644.1 532.3,641.6 533.5,649.7 534.6,643.9 535.8,649.3 536.9,648.5 538,647 539.2,646.3 540.3,650.2 541.5,645.9 542.6,643.2 543.8,646.8 544.9,652.3 546,643.3 547.2,645.6 548.3,644.1 549.5,644.1 550.6,646.8 551.7,645.4 552.9,650.9 554,644.9 555.2,646.9 556.3,649.7 557.5,648.6 558.6,646 559.7,645.8 560.9,646.9 562,642.1 563.2,644.7 564.3,644.2 565.4,651 566.6,643.8 567.7,646.2 568.9,647.2 570,647.8 571.2,647.4 572.3,649.4 573.4,649.4 574.6,644.7 575.7,649 576.9,643.8 578,646 579.2,646.7 580.3,645.3 581.4,647.8 582.6,649.7 583.7,650.2 584.9,639.2 586,648.9 587.1,647.5 588.3,653.1 589.4,649.6 590.6,649.1 591.7,649.7 592.9,651.3 594,649.7 595.1,651.2 596.3,651.7 597.4,650.8 598.6,651.2 599.7,650.4 600.8,651.3 602,652.3 603.1,652.1 604.3,652.9 605.4,652.8 606.6,651.3 607.7,652.5 608.8,653.5 610,653.7 611.1,654.2 612.3,653.9 613.4,655.5 614.5,653.3 615.7,654.4 616.8,653.4 618,653.3 619.1,654.1 620.3,655.6 621.4,656.1 622.5,654.1 623.7,654.3 624.8,656.9 626,656.7 627.1,654.7 628.3,656 629.4,654.1 630.5,656 631.7,655.7 632.8,657.1 634,657.7 635.1,659 636.2,660.6 637.4,656.7 638.5,657.2 639.7,658.9 640.8,657.4 642,660.4 643.1,657.3 644.2,658.7 645.4,657.6 646.5,661.5 647.7,658.4 648.8,659.1 649.9,660 651.1,661.5 652.2,660.4 653.4,660.6 654.5,661.5 655.7,662.4 656.8,662 657.9,661.5 659.1,659.7 660.2,659.6 661.4,659 662.5,660.4 663.6,657.4 664.8,660.1 665.9,663.3 667.1,662.7 668.2,661.3 669.4,663.3 670.5,664" fill="none" stroke="#838383" stroke-width="2.1" stroke-linejoin="round" stroke-linecap="butt"/>
<polyline points="469.5,653.1 470.7,653 471.8,655.4 472.9,654.7 474.1,655.8 475.2,658.7 476.4,661.9 477.5,659.8 478.6,656.9 479.8,656.1 480.9,655.5 482.1,655.4 483.2,655.6 484.4,658 485.5,657.9 486.6,657.7 487.8,658.7 488.9,660.6 490.1,662.9 491.2,660.4 492.4,656.8 493.5,658 494.6,656.2 495.8,656.3 496.9,656.7 498.1,657 499.2,658.5 500.3,656.7 501.5,658.4 502.6,661.8 503.8,662.1 504.9,662.2 506.1,657.4 507.2,657.7 508.3,656.3 509.5,655.4 510.6,655.7 511.8,653.2 512.9,655 514,654.3 515.2,654.6 516.3,654.6 517.5,654.9 518.6,652.9 519.8,653.1 520.9,652.2 522,654.1 523.2,654.2 524.3,653.6 525.5,653.3 526.6,653.5 527.8,655 528.9,653.3 530,653 531.2,652.7 532.3,653.4 533.5,653.1 534.6,652 535.7,651.8 536.9,652.8 538,652.9 539.2,652.8 540.3,652 541.5,652.6 542.6,652.5 543.7,651.3 544.9,653.1 546,653.4 547.2,652.6 548.3,650.8 549.5,651.9 550.6,653.7 551.7,651.5 552.9,652.1 554,652 555.2,653.6 556.3,652.8 557.4,652.7 558.6,651.4 559.7,652.9 560.9,652.9 562,653.5 563.2,651.4 564.3,652.4 565.4,651.4 566.6,652.1 567.7,651.5 568.9,652.7 570,651.4 571.1,652.4 572.3,652.6 573.4,651 574.6,652.9 575.7,651.8 576.9,651.7 578,651.8 579.1,652 580.3,651.3 581.4,652.8 582.6,651 583.7,651.1 584.9,652.2 586,652.6 587.1,653.6 588.3,653.4 589.4,653.3 590.6,652.6 591.7,651.4 592.8,654.3 594,652.1 595.1,652.9 596.3,652.8 597.4,653 598.6,653.8 599.7,653.6 600.8,653.3 602,652.4 603.1,653.7 604.3,652.3 605.4,652.6 606.5,653.9 607.7,653.4 608.8,652.7 610,655 611.1,654.7 612.3,653.3 613.4,653.4 614.5,654.8 615.7,655.1 616.8,653.8 618,653.2 619.1,654.9 620.3,655.3 621.4,654 622.5,654.8 623.7,657.2 624.8,657.5 626,657.5 627.1,656.9 628.2,657.7 629.4,658.9 630.5,660.4 631.7,656.1 632.8,658.5 634,655.9 635.1,656.4 636.2,657.9 637.4,658.8 638.5,660.5 639.7,661.2 640.8,661.2 642,661.9 643.1,661 644.2,662.2 645.4,659.9 646.5,659 647.7,663.5 648.8,662.7 649.9,661 651.1,661.4 652.2,662.1 653.4,662 654.5,661.6 655.7,662.6 656.8,661.7 657.9,661.2 659.1,661.3 660.2,660.9 661.4,662.4 662.5,662.3 663.6,664.4 664.8,663.2 665.9,664 667.1,662.2 668.2,661.6 669.4,663.8 670.5,663.9" fill="none" stroke="#2b8c21" stroke-width="2.1" stroke-linejoin="round" stroke-linecap="butt"/>
</g>
<rect x="411.5" y="528.5" width="259.0" height="171.0" fill="none" stroke="#d0d0d0" stroke-width="1"/>
<line x1="411.5" y1="528.5" x2="670.5" y2="528.5" stroke="#c2c2c2" stroke-width="1"/>
<line x1="408.3" y1="695.3" x2="411.5" y2="695.3" stroke="#c6c6c6" stroke-width="0.9"/>
<text x="406.5" y="697.8" text-anchor="end" class="tk">0</text>
<line x1="408.3" y1="677.2" x2="411.5" y2="677.2" stroke="#c6c6c6" stroke-width="0.9"/>
<text x="406.5" y="679.7" text-anchor="end" class="tk">200</text>
<line x1="408.3" y1="659.1" x2="411.5" y2="659.1" stroke="#c6c6c6" stroke-width="0.9"/>
<text x="406.5" y="661.6" text-anchor="end" class="tk">400</text>
<line x1="408.3" y1="641" x2="411.5" y2="641" stroke="#c6c6c6" stroke-width="0.9"/>
<text x="406.5" y="643.5" text-anchor="end" class="tk">600</text>
<line x1="408.3" y1="622.9" x2="411.5" y2="622.9" stroke="#c6c6c6" stroke-width="0.9"/>
<text x="406.5" y="625.4" text-anchor="end" class="tk">800</text>
<line x1="408.3" y1="604.7" x2="411.5" y2="604.7" stroke="#c6c6c6" stroke-width="0.9"/>
<text x="406.5" y="607.2" text-anchor="end" class="tk">1000</text>
<line x1="408.3" y1="586.6" x2="411.5" y2="586.6" stroke="#c6c6c6" stroke-width="0.9"/>
<text x="406.5" y="589.1" text-anchor="end" class="tk">1200</text>
<line x1="408.3" y1="568.5" x2="411.5" y2="568.5" stroke="#c6c6c6" stroke-width="0.9"/>
<text x="406.5" y="571" text-anchor="end" class="tk">1400</text>
<line x1="408.3" y1="550.4" x2="411.5" y2="550.4" stroke="#c6c6c6" stroke-width="0.9"/>
<text x="406.5" y="552.9" text-anchor="end" class="tk">1600</text>
<line x1="408.3" y1="532.3" x2="411.5" y2="532.3" stroke="#c6c6c6" stroke-width="0.9"/>
<text x="406.5" y="534.8" text-anchor="end" class="tk">1800</text>
<line x1="414.6" y1="699.5" x2="414.6" y2="702.7" stroke="#c6c6c6" stroke-width="0.9"/>
<text x="414.6" y="710" text-anchor="middle" class="tk">2015</text>
<line x1="437.5" y1="699.5" x2="437.5" y2="702.7" stroke="#c6c6c6" stroke-width="0.9"/>
<text x="437.5" y="710" text-anchor="middle" class="tk">2020</text>
<line x1="460.4" y1="699.5" x2="460.4" y2="702.7" stroke="#c6c6c6" stroke-width="0.9"/>
<text x="460.4" y="710" text-anchor="middle" class="tk">2025</text>
<line x1="483.2" y1="699.5" x2="483.2" y2="702.7" stroke="#c6c6c6" stroke-width="0.9"/>
<text x="483.2" y="710" text-anchor="middle" class="tk">2030</text>
<line x1="506.1" y1="699.5" x2="506.1" y2="702.7" stroke="#c6c6c6" stroke-width="0.9"/>
<text x="506.1" y="710" text-anchor="middle" class="tk">2035</text>
<line x1="529" y1="699.5" x2="529" y2="702.7" stroke="#c6c6c6" stroke-width="0.9"/>
<text x="529" y="710" text-anchor="middle" class="tk">2040</text>
<line x1="551.9" y1="699.5" x2="551.9" y2="702.7" stroke="#c6c6c6" stroke-width="0.9"/>
<text x="551.9" y="710" text-anchor="middle" class="tk">2045</text>
<line x1="574.8" y1="699.5" x2="574.8" y2="702.7" stroke="#c6c6c6" stroke-width="0.9"/>
<text x="574.8" y="710" text-anchor="middle" class="tk">2050</text>
<line x1="597.6" y1="699.5" x2="597.6" y2="702.7" stroke="#c6c6c6" stroke-width="0.9"/>
<text x="597.6" y="710" text-anchor="middle" class="tk">2055</text>
<line x1="620.5" y1="699.5" x2="620.5" y2="702.7" stroke="#c6c6c6" stroke-width="0.9"/>
<text x="620.5" y="710" text-anchor="middle" class="tk">2060</text>
<line x1="643.4" y1="699.5" x2="643.4" y2="702.7" stroke="#c6c6c6" stroke-width="0.9"/>
<text x="643.4" y="710" text-anchor="middle" class="tk">2065</text>
<line x1="666.3" y1="699.5" x2="666.3" y2="702.7" stroke="#c6c6c6" stroke-width="0.9"/>
<text x="666.3" y="710" text-anchor="middle" class="tk">2070</text>
<text x="540.6" y="722.1" text-anchor="middle" class="ax">Year</text>
<text transform="translate(382,614) rotate(-90)" text-anchor="middle" class="ax">Number</text>
</g>
<g>
<rect x="8.5" y="764.5" width="319.0" height="213.0" fill="#fff" stroke="#eaeaea" stroke-width="1"/>
<clipPath id="cg"><rect x="50.5" y="769.5" width="268.0" height="176.0"/></clipPath>
<g clip-path="url(#cg)">
<path d="M50.5 629.1 L51.7 626.4 L52.9 617.3 L54 626.5 L55.2 634.4 L56.4 634.6 L57.6 636.7 L58.8 641.5 L59.9 631.6 L61.1 643.4 L62.3 626.7 L63.5 648.2 L64.7 646.5 L65.8 654.5 L67 653.7 L68.2 658.2 L69.4 656.2 L70.6 657.6 L71.8 663.8 L72.9 664.7 L74.1 666.9 L75.3 668.3 L76.5 668.5 L77.7 674.2 L78.8 675.7 L80 675.3 L81.2 678.1 L82.4 673.1 L83.6 681 L84.7 677.1 L85.9 682.8 L87.1 689 L88.3 689.4 L89.5 664.6 L90.6 694.7 L91.8 694.4 L93 696.4 L94.2 702.3 L95.4 698.4 L96.5 702.7 L97.7 703.4 L98.9 708.1 L100.1 709.3 L101.3 713.2 L102.4 708.9 L103.6 714.1 L104.8 705.1 L106 717.7 L107.2 719.2 L108.4 721.7 L109.5 724.7 L110.7 721.8 L111.9 728.4 L113.1 728.4 L114.3 738.9 L115.4 752 L116.6 762 L117.8 768.8 L119 774.4 L120.2 778 L121.3 773.7 L122.5 783 L123.7 771.9 L124.9 782.5 L126.1 786.5 L127.2 788.8 L128.4 780.6 L129.6 789 L130.8 788.4 L132 790.2 L133.1 793.3 L134.3 792.3 L135.5 785.8 L136.7 793.7 L137.9 796.5 L139 797.3 L140.2 790.9 L141.4 795.3 L142.6 788.5 L143.8 777.4 L144.9 795.8 L146.1 797.7 L147.3 798.8 L148.5 797.9 L149.7 794.5 L150.9 797.7 L152 794.1 L153.2 793.6 L154.4 795.9 L155.6 788.6 L156.8 788.6 L157.9 794.1 L159.1 793.5 L160.3 782.6 L161.5 796.6 L162.7 794.9 L163.8 796.6 L165 796.1 L166.2 793.8 L167.4 794.8 L168.6 796 L169.7 793 L170.9 794.6 L172.1 798.1 L173.3 793.2 L174.5 792.5 L175.6 796.8 L176.8 794.6 L178 797.6 L179.2 788.3 L180.4 793.5 L181.5 795.3 L182.7 791.6 L183.9 795.2 L185.1 787.2 L186.3 793.2 L187.5 794.4 L188.6 796.6 L189.8 794.5 L191 785.6 L192.2 792.5 L193.4 792 L194.5 794.8 L195.7 794.4 L196.9 790.7 L198.1 787.5 L199.3 791.7 L200.4 792 L201.6 785.1 L202.8 791.7 L204 788.7 L205.2 788.9 L206.3 791.7 L207.5 790.2 L208.7 787.7 L209.9 788.1 L211.1 788.7 L212.2 790.5 L213.4 786.2 L214.6 792.6 L215.8 781.4 L217 790.2 L218.1 785.7 L219.3 787.5 L220.5 786 L221.7 789.5 L222.9 767.6 L224.1 786.7 L225.2 784 L226.4 786.7 L227.6 770.5 L228.8 785.4 L230 785 L231.1 781.9 L232.3 785.1 L233.5 787.4 L234.7 783.3 L235.9 785.2 L237 782.3 L238.2 782.7 L239.4 783.6 L240.6 783.8 L241.8 781 L242.9 781.1 L244.1 783 L245.3 784.1 L246.5 781.6 L247.7 775.2 L248.8 779.2 L250 779.7 L251.2 781.4 L252.4 775.9 L253.6 778.6 L254.7 771.1 L255.9 773.6 L257.1 780.6 L258.3 776.4 L259.5 780.9 L260.6 777.2 L261.8 770.4 L263 777.7 L264.2 774.6 L265.4 774.2 L266.6 779 L267.7 774.3 L268.9 773.5 L270.1 775.4 L271.3 772.6 L272.5 772.2 L273.6 772.1 L274.8 774.7 L276 774.8 L277.2 753.3 L278.4 769.1 L279.5 771.1 L280.7 768.9 L281.9 772 L283.1 772.9 L284.3 770.7 L285.4 760.6 L286.6 770.8 L287.8 769.8 L289 767.8 L290.2 766.8 L291.3 761.8 L292.5 764.1 L293.7 761.8 L294.9 747.9 L296.1 766.7 L297.2 765.7 L298.4 765.3 L299.6 768.7 L300.8 764.1 L302 765.3 L303.2 763 L304.3 763 L305.5 765.1 L306.7 764.6 L307.9 762.3 L309.1 762.9 L310.2 759.8 L311.4 757.3 L312.6 759.5 L313.8 762.2 L315 765.2 L316.1 762.3 L317.3 754.8 L318.5 757.4 L318.5 947.5 L317.3 945.9 L316.1 948.6 L315 947.2 L313.8 948.4 L312.6 946.4 L311.4 946.7 L310.2 947.7 L309.1 946.7 L307.9 948.1 L306.7 945.6 L305.5 947.8 L304.3 946.9 L303.2 947 L302 945.8 L300.8 946.4 L299.6 946.2 L298.4 946.9 L297.2 946.9 L296.1 945.9 L294.9 946.5 L293.7 946.4 L292.5 946.8 L291.3 947 L290.2 946.3 L289 945.8 L287.8 947.3 L286.6 946.7 L285.4 944.5 L284.3 947.8 L283.1 947 L281.9 945.2 L280.7 944.8 L279.5 946.1 L278.4 944.9 L277.2 947.4 L276 947.2 L274.8 946.3 L273.6 947.5 L272.5 945.2 L271.3 946.2 L270.1 946.7 L268.9 947 L267.7 947.3 L266.6 945.4 L265.4 945.5 L264.2 944.8 L263 944.7 L261.8 945.4 L260.6 944.7 L259.5 946.7 L258.3 944.8 L257.1 945.5 L255.9 945.9 L254.7 946.9 L253.6 945 L252.4 945.7 L251.2 946.9 L250 944.7 L248.8 945.8 L247.7 946.6 L246.5 944.6 L245.3 944.8 L244.1 945.9 L242.9 944.7 L241.8 945 L240.6 943.6 L239.4 944.4 L238.2 945.4 L237 945.6 L235.9 945.2 L234.7 944.2 L233.5 946.3 L232.3 944.2 L231.1 944.4 L230 944.9 L228.8 945.1 L227.6 944 L226.4 943.2 L225.2 945.1 L224.1 945.1 L222.9 945 L221.7 943.3 L220.5 945.2 L219.3 944.8 L218.1 944.2 L217 944.3 L215.8 943.5 L214.6 943.6 L213.4 943.2 L212.2 945.4 L211.1 944.1 L209.9 942.8 L208.7 944.2 L207.5 944.7 L206.3 943.4 L205.2 944.6 L204 943.5 L202.8 943.6 L201.6 943.5 L200.4 943.9 L199.3 943.7 L198.1 944.2 L196.9 943.7 L195.7 945.1 L194.5 944.2 L193.4 943.1 L192.2 943.3 L191 943.8 L189.8 944.6 L188.6 945 L187.5 943.7 L186.3 944.3 L185.1 942.8 L183.9 942.6 L182.7 943.6 L181.5 943.6 L180.4 944.1 L179.2 942.6 L178 943.1 L176.8 943.9 L175.6 943.4 L174.5 943.3 L173.3 943.2 L172.1 943.3 L170.9 944 L169.7 943.4 L168.6 944.2 L167.4 943.1 L166.2 941.6 L165 943.3 L163.8 943.6 L162.7 942.9 L161.5 943.9 L160.3 942.5 L159.1 943.6 L157.9 942.8 L156.8 942.8 L155.6 943.9 L154.4 942.2 L153.2 944.2 L152 942.6 L150.9 941.8 L149.7 944.6 L148.5 942 L147.3 940.8 L146.1 942.3 L144.9 942.6 L143.8 942.2 L142.6 940.9 L141.4 943.8 L140.2 941 L139 943.7 L137.9 941.8 L136.7 943.4 L135.5 942.9 L134.3 945 L133.1 941.3 L132 943.5 L130.8 941.7 L129.6 942.8 L128.4 941.9 L127.2 942 L126.1 942 L124.9 942.7 L123.7 942.3 L122.5 942 L121.3 941.6 L120.2 943.5 L119 942.5 L117.8 943.2 L116.6 942.5 L115.4 937.4 L114.3 931.5 L113.1 931.9 L111.9 931.6 L110.7 931.1 L109.5 930.7 L108.4 930.6 L107.2 930.8 L106 931.2 L104.8 930 L103.6 929.5 L102.4 929 L101.3 930.9 L100.1 929.1 L98.9 929.7 L97.7 928.2 L96.5 929.2 L95.4 929.1 L94.2 927.2 L93 926.9 L91.8 927.1 L90.6 928.2 L89.5 926.5 L88.3 926.4 L87.1 923.4 L85.9 924.2 L84.7 923.3 L83.6 922 L82.4 921.3 L81.2 919.6 L80 917.1 L78.8 918 L77.7 915.4 L76.5 915.7 L75.3 916 L74.1 911.5 L72.9 910.7 L71.8 914.3 L70.6 910.1 L69.4 913.2 L68.2 913.8 L67 912.8 L65.8 913.1 L64.7 908.7 L63.5 912.5 L62.3 912.2 L61.1 911.9 L59.9 911.7 L58.8 912.8 L57.6 911.5 L56.4 910.2 L55.2 909.4 L54 914.7 L52.9 912 L51.7 912.9 L50.5 910.2Z" fill="rgba(120,120,120,0.052)"/>
<path d="M111.1 769.4 L112.2 786.8 L113.4 793.9 L114.6 796.4 L115.8 803.5 L117 809.4 L118.2 789.4 L119.4 810.4 L120.5 812.4 L121.7 816.6 L122.9 813 L124.1 807.1 L125.3 817.1 L126.5 819.1 L127.7 823.3 L128.8 821.7 L130 824.5 L131.2 806.2 L132.4 825 L133.6 820.6 L134.8 827.8 L136 827.5 L137.1 826.7 L138.3 820.4 L139.5 825.6 L140.7 826.4 L141.9 825 L143.1 825.3 L144.3 826.1 L145.4 825 L146.6 818 L147.8 827 L149 825.6 L150.2 825 L151.4 814.7 L152.5 828.4 L153.7 826.8 L154.9 830.2 L156.1 828.5 L157.3 830.5 L158.5 826.5 L159.7 826.2 L160.8 823.3 L162 824.1 L163.2 826.3 L164.4 826.5 L165.6 826.6 L166.8 822.5 L168 825.7 L169.1 823.5 L170.3 828.9 L171.5 826.9 L172.7 824.2 L173.9 825 L175.1 818.7 L176.3 819.3 L177.4 826.8 L178.6 825.7 L179.8 823.7 L181 819.9 L182.2 820.8 L183.4 822.1 L184.6 825.1 L185.7 821.5 L186.9 827 L188.1 821.1 L189.3 819.8 L190.5 803.8 L191.7 823.4 L192.9 820.5 L194 805.1 L195.2 815.1 L196.4 820.5 L197.6 812.9 L198.8 815.7 L200 819.1 L201.1 816.9 L202.3 819.5 L203.5 812.7 L204.7 819.3 L205.9 811.3 L207.1 816 L208.3 815 L209.4 813.4 L210.6 805 L211.8 811.9 L213 815.5 L214.2 816.1 L215.4 811.1 L216.6 817 L217.7 816.7 L218.9 814.3 L220.1 814.6 L221.3 812.9 L222.5 812.8 L223.7 815.1 L224.9 817.8 L226 813.2 L227.2 810.1 L228.4 813.6 L229.6 812.6 L230.8 812.8 L232 811 L233.2 788.7 L234.3 816.2 L235.5 803.1 L236.7 813.6 L237.9 815.1 L239.1 810.9 L240.3 794.1 L241.5 808.8 L242.6 807.5 L243.8 813.1 L245 809.3 L246.2 809.5 L247.4 813.4 L248.6 811.4 L249.7 810.1 L250.9 811.7 L252.1 812.3 L253.3 810.2 L254.5 807.1 L255.7 807.3 L256.9 811.5 L258 810.6 L259.2 808.3 L260.4 813.5 L261.6 810.4 L262.8 806.8 L264 812.3 L265.2 805.6 L266.3 812.3 L267.5 802 L268.7 808.9 L269.9 808.6 L271.1 807 L272.3 809.3 L273.5 810.5 L274.6 813.6 L275.8 808.9 L277 802.6 L278.2 811.8 L279.4 809 L280.6 788.8 L281.8 810.5 L282.9 808.8 L284.1 811.9 L285.3 807.6 L286.5 805.7 L287.7 807.6 L288.9 804.9 L290.1 794.2 L291.2 798.4 L292.4 808.2 L293.6 794.2 L294.8 806.4 L296 800.4 L297.2 795.8 L298.3 809 L299.5 803.9 L300.7 806.5 L301.9 804.3 L303.1 806.7 L304.3 802.7 L305.5 806 L306.6 806.5 L307.8 805.2 L309 801.2 L310.2 802 L311.4 802.8 L312.6 800.8 L313.8 804.3 L314.9 802.1 L316.1 796.5 L317.3 803.4 L318.5 802.9 L318.5 941.9 L317.3 941.9 L316.1 941.9 L314.9 941.9 L313.8 941.9 L312.6 941.9 L311.4 941.9 L310.2 941.9 L309 941.9 L307.8 941.9 L306.6 941.9 L305.5 941.9 L304.3 941.9 L303.1 941.9 L301.9 941.9 L300.7 941.9 L299.5 941.9 L298.3 941.9 L297.2 941.9 L296 941.9 L294.8 941.9 L293.6 941.9 L292.4 941.9 L291.2 941.9 L290.1 941.9 L288.9 941.9 L287.7 941.9 L286.5 941.9 L285.3 941.9 L284.1 941.9 L282.9 941.9 L281.8 941.9 L280.6 941.9 L279.4 941.9 L278.2 941.9 L277 941.9 L275.8 941.9 L274.6 941.9 L273.5 941.9 L272.3 941.9 L271.1 941.9 L269.9 941.9 L268.7 941.9 L267.5 941.9 L266.3 941.9 L265.2 941.9 L264 941.9 L262.8 941.9 L261.6 941.9 L260.4 941.9 L259.2 941.9 L258 941.9 L256.9 941.9 L255.7 941.9 L254.5 941.9 L253.3 941.9 L252.1 941.9 L250.9 941.9 L249.7 941.9 L248.6 941.9 L247.4 941.9 L246.2 941.9 L245 941.9 L243.8 941.9 L242.6 941.9 L241.5 941.9 L240.3 941.9 L239.1 941.9 L237.9 941.9 L236.7 941.9 L235.5 941.9 L234.3 941.9 L233.2 941.9 L232 941.9 L230.8 941.9 L229.6 941.9 L228.4 941.9 L227.2 941.9 L226 941.9 L224.9 941.9 L223.7 941.9 L222.5 941.9 L221.3 941.9 L220.1 941.9 L218.9 941.9 L217.7 941.9 L216.6 941.9 L215.4 941.9 L214.2 941.9 L213 941.9 L211.8 941.9 L210.6 941.9 L209.4 941.9 L208.3 941.9 L207.1 941.9 L205.9 941.9 L204.7 941.9 L203.5 941.9 L202.3 941.9 L201.1 941.9 L200 941.9 L198.8 941.9 L197.6 941.9 L196.4 941.9 L195.2 941.9 L194 941.9 L192.9 941.9 L191.7 941.9 L190.5 941.9 L189.3 941.9 L188.1 941.9 L186.9 941.9 L185.7 941.9 L184.6 941.9 L183.4 941.9 L182.2 941.9 L181 941.9 L179.8 941.9 L178.6 941.9 L177.4 941.9 L176.3 941.9 L175.1 941.9 L173.9 941.9 L172.7 941.9 L171.5 941.9 L170.3 941.9 L169.1 941.9 L168 941.9 L166.8 941.9 L165.6 941.9 L164.4 941.9 L163.2 941.9 L162 941.9 L160.8 941.9 L159.7 941.9 L158.5 941.9 L157.3 941.9 L156.1 941.9 L154.9 941.9 L153.7 941.9 L152.5 941.9 L151.4 941.9 L150.2 941.9 L149 941.9 L147.8 941.9 L146.6 941.9 L145.4 941.9 L144.3 941.9 L143.1 941.9 L141.9 941.9 L140.7 941.9 L139.5 941.9 L138.3 941.9 L137.1 941.9 L136 941.9 L134.8 941.9 L133.6 941.9 L132.4 941.9 L131.2 941.9 L130 941.9 L128.8 941.9 L127.7 941.9 L126.5 941.9 L125.3 941.9 L124.1 941.9 L122.9 941.9 L121.7 941.9 L120.5 941.9 L119.4 941.9 L118.2 941.9 L117 941.9 L115.8 937.5 L114.6 932.8 L113.4 932.3 L112.2 931.9 L111.1 931.4Z" fill="rgba(20,158,0,0.10)"/>
</g>
<line x1="50.5" y1="941.9" x2="318.5" y2="941.9" stroke="#000" stroke-opacity="0.045" stroke-width="1"/>
<line x1="50.5" y1="920.8" x2="318.5" y2="920.8" stroke="#000" stroke-opacity="0.045" stroke-width="1"/>
<line x1="50.5" y1="899.7" x2="318.5" y2="899.7" stroke="#000" stroke-opacity="0.045" stroke-width="1"/>
<line x1="50.5" y1="878.6" x2="318.5" y2="878.6" stroke="#000" stroke-opacity="0.045" stroke-width="1"/>
<line x1="50.5" y1="857.5" x2="318.5" y2="857.5" stroke="#000" stroke-opacity="0.045" stroke-width="1"/>
<line x1="50.5" y1="836.5" x2="318.5" y2="836.5" stroke="#000" stroke-opacity="0.045" stroke-width="1"/>
<line x1="50.5" y1="815.4" x2="318.5" y2="815.4" stroke="#000" stroke-opacity="0.045" stroke-width="1"/>
<line x1="50.5" y1="794.3" x2="318.5" y2="794.3" stroke="#000" stroke-opacity="0.045" stroke-width="1"/>
<line x1="50.5" y1="773.2" x2="318.5" y2="773.2" stroke="#000" stroke-opacity="0.045" stroke-width="1"/>
<g clip-path="url(#cg)">
<polyline points="50.5,817 51.7,817.5 52.9,819.4 54,820.3 55.2,820.8 56.4,820.8 57.6,815.4 58.8,815.5 59.9,815.1 61.1,820.5 62.3,823.7 63.5,822.9 64.7,826.9 65.8,835.9 67,829.1 68.2,832.6 69.4,829.6 70.6,835.2 71.8,830.1 72.9,837 74.1,833 75.3,837.5 76.5,835.1 77.7,833 78.8,834.8 80,834.7 81.2,834.6 82.4,837.1 83.6,842.6 84.7,848.4 85.9,848 87.1,846.2 88.3,849 89.5,849.5 90.6,859.5 91.8,854.8 93,854.7 94.2,857.5 95.4,860.3 96.5,862 97.7,864.1 98.9,863.8 100.1,865.9 101.3,865.2 102.4,870.8 103.6,876.9 104.8,873.8 106,872.8 107.2,879 108.4,880 109.5,882.5 110.7,877.2 111.9,880.2 113.1,880.8 114.3,882 115.4,882.9 116.6,885.7 117.8,886 119,888.3 120.2,888.6 121.3,890.8 122.5,892.5 123.7,891 124.9,889.6 126.1,891.9 127.2,892.7 128.4,893.3 129.6,893.5 130.8,893.1 132,894.3 133.1,892.1 134.3,894.1 135.5,893.9 136.7,892.8 137.9,892.8 139,894.6 140.2,894.2 141.4,894 142.6,895 143.8,896.6 144.9,894.4 146.1,894.3 147.3,894.9 148.5,896.3 149.7,895.7 150.9,896.1 152,895.8 153.2,894.3 154.4,894.1 155.6,894.9 156.8,895 157.9,894.9 159.1,895.5 160.3,895.6 161.5,896.1 162.7,895.6 163.8,893.4 165,894.9 166.2,896.2 167.4,896.4 168.6,896.9 169.7,895.9 170.9,896 172.1,897.9 173.3,896.2 174.5,897.3 175.6,895.6 176.8,896.9 178,895.5 179.2,897.7 180.4,897.7 181.5,897.3 182.7,898.5 183.9,903.8 185.1,904.4 186.3,898.1 187.5,895.2 188.6,898.3 189.8,896.7 191,899.4 192.2,902.2 193.4,895.6 194.5,895.5 195.7,897.6 196.9,893.6 198.1,899.9 199.3,898.5 200.4,894 201.6,890.9 202.8,897.3 204,892.9 205.2,899.9 206.3,897.1 207.5,898 208.7,903.7 209.9,898.5 211.1,894.9 212.2,900.2 213.4,901 214.6,894.7 215.8,900.7 217,900.1 218.1,901.6 219.3,902.7 220.5,903.1 221.7,902.4 222.9,902.3 224.1,902.9 225.2,902.5 226.4,903.7 227.6,902.3 228.8,904.1 230,902.7 231.1,901.9 232.3,901.6 233.5,901.1 234.7,904.3 235.9,902.2 237,901.8 238.2,902.1 239.4,904 240.6,902.8 241.8,901.5 242.9,904.8 244.1,903 245.3,902.5 246.5,904.3 247.7,903.1 248.8,904.8 250,904.6 251.2,904.7 252.4,903.8 253.6,904.2 254.7,903.3 255.9,905.1 257.1,904.4 258.3,903.5 259.5,904 260.6,905.8 261.8,904 263,905.2 264.2,904.4 265.4,904.6 266.6,903.8 267.7,904.9 268.9,906.9 270.1,906.5 271.3,904.6 272.5,905.6 273.6,904.4 274.8,905.3 276,906.4 277.2,907.1 278.4,909.4 279.5,909.1 280.7,906.3 281.9,905.4 283.1,905.1 284.3,907.1 285.4,907.5 286.6,902.8 287.8,907 289,909.7 290.2,907.7 291.3,906.2 292.5,905.9 293.7,908.5 294.9,908.5 296.1,906.4 297.2,907.4 298.4,911.3 299.6,905.2 300.8,905.1 302,907.8 303.2,907.1 304.3,907.2 305.5,909 306.7,909.8 307.9,906.9 309.1,909.6 310.2,906.6 311.4,908.7 312.6,908.1 313.8,908.2 315,905.4 316.1,909.9 317.3,910.1 318.5,910" fill="none" stroke="#838383" stroke-width="2.1" stroke-linejoin="round" stroke-linecap="butt"/>
<polyline points="111.1,879.7 112.2,886.8 113.4,891.8 114.6,892.4 115.8,892.4 117,896.2 118.2,892.7 119.4,894.3 120.5,897.9 121.7,903.2 122.9,903 124.1,902.8 125.3,905.8 126.5,903.1 127.7,903.7 128.8,904.7 130,903.2 131.2,902.9 132.4,905.1 133.6,904.5 134.8,905.8 136,906.3 137.1,905.4 138.3,905.1 139.5,906.8 140.7,909.1 141.9,905.9 143.1,908.9 144.3,907 145.4,905.1 146.6,907.7 147.8,909.4 149,910 150.2,906.6 151.4,908 152.5,907.2 153.7,906.6 154.9,907.8 156.1,908 157.3,908.7 158.5,911.3 159.7,909.3 160.8,907.4 162,907.4 163.2,906.6 164.4,907.1 165.6,906.6 166.8,905.7 168,907.7 169.1,906.8 170.3,908.3 171.5,904.9 172.7,906 173.9,905.3 175.1,903.9 176.3,904.4 177.4,905.8 178.6,904.6 179.8,907.3 181,904.9 182.2,905.2 183.4,907.3 184.6,903.5 185.7,906 186.9,904.2 188.1,905.7 189.3,904 190.5,903.8 191.7,906.6 192.9,907.6 194,906 195.2,904.9 196.4,906.6 197.6,907 198.8,905.8 200,910.1 201.1,907.6 202.3,908.7 203.5,906.8 204.7,908.2 205.9,908.9 207.1,908.1 208.3,909.7 209.4,908 210.6,909 211.8,908.5 213,908.8 214.2,906.6 215.4,907.7 216.6,906.8 217.7,906.7 218.9,908.2 220.1,906.4 221.3,906.9 222.5,907.1 223.7,908.2 224.9,908.4 226,907 227.2,905.4 228.4,909.4 229.6,907.9 230.8,909.2 232,907.9 233.2,908.5 234.3,907.9 235.5,912.9 236.7,910.3 237.9,910.9 239.1,909.9 240.3,910.8 241.5,910.9 242.6,909.3 243.8,907.9 245,914 246.2,910.9 247.4,910.2 248.6,910.6 249.7,911.2 250.9,912.5 252.1,912.1 253.3,910.1 254.5,909.7 255.7,911.1 256.9,912.3 258,911.3 259.2,912 260.4,911.2 261.6,912 262.8,913.2 264,912.5 265.2,914.5 266.3,912.2 267.5,911.9 268.7,914.9 269.9,912.9 271.1,914.7 272.3,912.1 273.5,912.3 274.6,913.7 275.8,912.2 277,914 278.2,914.2 279.4,914.2 280.6,913.6 281.8,913.8 282.9,913.2 284.1,914.2 285.3,912.5 286.5,912.1 287.7,914.1 288.9,915.2 290.1,912.5 291.2,912.1 292.4,913.9 293.6,915.5 294.8,913.7 296,912.3 297.2,916.8 298.3,913.9 299.5,915.1 300.7,916 301.9,914.5 303.1,916.9 304.3,915.1 305.5,913.9 306.6,915.4 307.8,916.8 309,917.9 310.2,917.4 311.4,918.1 312.6,913.8 313.8,916.2 314.9,917.2 316.1,917.6 317.3,917.3 318.5,916.5" fill="none" stroke="#2b8c21" stroke-width="2.1" stroke-linejoin="round" stroke-linecap="butt"/>
</g>
<rect x="50.5" y="769.5" width="268.0" height="176.0" fill="none" stroke="#d0d0d0" stroke-width="1"/>
<line x1="50.5" y1="769.5" x2="318.5" y2="769.5" stroke="#c2c2c2" stroke-width="1"/>
<line x1="47.3" y1="941.9" x2="50.5" y2="941.9" stroke="#c6c6c6" stroke-width="0.9"/>
<text x="45.5" y="944.4" text-anchor="end" class="tk">0</text>
<line x1="47.3" y1="920.8" x2="50.5" y2="920.8" stroke="#c6c6c6" stroke-width="0.9"/>
<text x="45.5" y="923.3" text-anchor="end" class="tk">200</text>
<line x1="47.3" y1="899.7" x2="50.5" y2="899.7" stroke="#c6c6c6" stroke-width="0.9"/>
<text x="45.5" y="902.2" text-anchor="end" class="tk">400</text>
<line x1="47.3" y1="878.6" x2="50.5" y2="878.6" stroke="#c6c6c6" stroke-width="0.9"/>
<text x="45.5" y="881.1" text-anchor="end" class="tk">600</text>
<line x1="47.3" y1="857.5" x2="50.5" y2="857.5" stroke="#c6c6c6" stroke-width="0.9"/>
<text x="45.5" y="860" text-anchor="end" class="tk">800</text>
<line x1="47.3" y1="836.5" x2="50.5" y2="836.5" stroke="#c6c6c6" stroke-width="0.9"/>
<text x="45.5" y="839" text-anchor="end" class="tk">1000</text>
<line x1="47.3" y1="815.4" x2="50.5" y2="815.4" stroke="#c6c6c6" stroke-width="0.9"/>
<text x="45.5" y="817.9" text-anchor="end" class="tk">1200</text>
<line x1="47.3" y1="794.3" x2="50.5" y2="794.3" stroke="#c6c6c6" stroke-width="0.9"/>
<text x="45.5" y="796.8" text-anchor="end" class="tk">1400</text>
<line x1="47.3" y1="773.2" x2="50.5" y2="773.2" stroke="#c6c6c6" stroke-width="0.9"/>
<text x="45.5" y="775.7" text-anchor="end" class="tk">1600</text>
<line x1="54.3" y1="945.5" x2="54.3" y2="948.7" stroke="#c6c6c6" stroke-width="0.9"/>
<text x="54.3" y="957.2" text-anchor="middle" class="tk">2015</text>
<line x1="77.9" y1="945.5" x2="77.9" y2="948.7" stroke="#c6c6c6" stroke-width="0.9"/>
<text x="77.9" y="957.2" text-anchor="middle" class="tk">2020</text>
<line x1="101.6" y1="945.5" x2="101.6" y2="948.7" stroke="#c6c6c6" stroke-width="0.9"/>
<text x="101.6" y="957.2" text-anchor="middle" class="tk">2025</text>
<line x1="125.2" y1="945.5" x2="125.2" y2="948.7" stroke="#c6c6c6" stroke-width="0.9"/>
<text x="125.2" y="957.2" text-anchor="middle" class="tk">2030</text>
<line x1="148.9" y1="945.5" x2="148.9" y2="948.7" stroke="#c6c6c6" stroke-width="0.9"/>
<text x="148.9" y="957.2" text-anchor="middle" class="tk">2035</text>
<line x1="172.5" y1="945.5" x2="172.5" y2="948.7" stroke="#c6c6c6" stroke-width="0.9"/>
<text x="172.5" y="957.2" text-anchor="middle" class="tk">2040</text>
<line x1="196.2" y1="945.5" x2="196.2" y2="948.7" stroke="#c6c6c6" stroke-width="0.9"/>
<text x="196.2" y="957.2" text-anchor="middle" class="tk">2045</text>
<line x1="219.8" y1="945.5" x2="219.8" y2="948.7" stroke="#c6c6c6" stroke-width="0.9"/>
<text x="219.8" y="957.2" text-anchor="middle" class="tk">2050</text>
<line x1="243.5" y1="945.5" x2="243.5" y2="948.7" stroke="#c6c6c6" stroke-width="0.9"/>
<text x="243.5" y="957.2" text-anchor="middle" class="tk">2055</text>
<line x1="267.1" y1="945.5" x2="267.1" y2="948.7" stroke="#c6c6c6" stroke-width="0.9"/>
<text x="267.1" y="957.2" text-anchor="middle" class="tk">2060</text>
<line x1="290.8" y1="945.5" x2="290.8" y2="948.7" stroke="#c6c6c6" stroke-width="0.9"/>
<text x="290.8" y="957.2" text-anchor="middle" class="tk">2065</text>
<line x1="314.4" y1="945.5" x2="314.4" y2="948.7" stroke="#c6c6c6" stroke-width="0.9"/>
<text x="314.4" y="957.2" text-anchor="middle" class="tk">2070</text>
<text x="184" y="969.6" text-anchor="middle" class="ax">Year</text>
<text transform="translate(21.4,857.5) rotate(-90)" text-anchor="middle" class="ax">Number</text>
</g>
<g>
<rect x="369.5" y="764.5" width="314.0" height="209.0" fill="#fff" stroke="#eaeaea" stroke-width="1"/>
<clipPath id="ch"><rect x="411.5" y="780.5" width="264.0" height="162.0"/></clipPath>
<g clip-path="url(#ch)">
<path d="M411.3 632.6 L412.5 634.5 L413.6 635.9 L414.8 633.7 L416 653.3 L417.1 635.9 L418.3 644.9 L419.5 642.7 L420.6 647.5 L421.8 648.4 L422.9 655.5 L424.1 651.6 L425.3 652.6 L426.4 667.7 L427.6 663.8 L428.8 666.4 L429.9 678.3 L431.1 662.4 L432.3 668.1 L433.4 676.3 L434.6 663.1 L435.8 666.5 L436.9 672.2 L438.1 675.3 L439.2 673.7 L440.4 683 L441.6 676.2 L442.7 688.6 L443.9 688.6 L445.1 685.1 L446.2 688.7 L447.4 700.4 L448.6 690.1 L449.7 694.6 L450.9 699 L452.1 696.2 L453.2 705.5 L454.4 698.5 L455.5 702.8 L456.7 705.8 L457.9 722 L459 708.1 L460.2 707.6 L461.4 720.9 L462.5 715.9 L463.7 716 L464.9 716.4 L466 718.7 L467.2 718.1 L468.4 719.5 L469.5 725.5 L470.7 730 L471.8 726.4 L473 729.6 L474.2 731.9 L475.3 732.5 L476.5 738.2 L477.7 742.7 L478.8 744.9 L480 742.2 L481.2 744.6 L482.3 749.1 L483.5 760.3 L484.7 783 L485.8 785.3 L487 801.3 L488.1 789.4 L489.3 791.6 L490.5 791.1 L491.6 820.6 L492.8 790.2 L494 801 L495.1 788.9 L496.3 793.6 L497.5 804.9 L498.6 789 L499.8 786.6 L501 791.5 L502.1 791.6 L503.3 791.6 L504.4 791.5 L505.6 791.5 L506.8 794 L507.9 792.9 L509.1 800.2 L510.3 792.6 L511.4 809.7 L512.6 799.8 L513.8 790.9 L514.9 809.9 L516.1 795.1 L517.3 790.1 L518.4 793.1 L519.6 803 L520.7 790.1 L521.9 802 L523.1 794.2 L524.2 797.6 L525.4 791.3 L526.6 790.4 L527.7 811.6 L528.9 790.6 L530.1 801.4 L531.2 793.3 L532.4 790.7 L533.6 790.1 L534.7 792.5 L535.9 795.6 L537 794 L538.2 794 L539.4 795.9 L540.5 790.3 L541.7 789.8 L542.9 791.4 L544 791.4 L545.2 789.5 L546.4 794.7 L547.5 792.1 L548.7 816.4 L549.9 800.7 L551 792.3 L552.2 791.7 L553.3 790.8 L554.5 794.7 L555.7 795 L556.8 787.3 L558 798.5 L559.2 792.1 L560.3 791.6 L561.5 803.7 L562.7 792.2 L563.8 799.6 L565 811.1 L566.2 802.3 L567.3 790 L568.5 790.4 L569.6 788.9 L570.8 793.2 L572 792.3 L573.1 796.9 L574.3 788.8 L575.5 794.3 L576.6 792.7 L577.8 788.8 L579 790.8 L580.1 789 L581.3 793.5 L582.5 802.1 L583.6 794.6 L584.8 812.6 L585.9 786.8 L587.1 787.1 L588.3 786.5 L589.4 785.9 L590.6 785.4 L591.8 776.7 L592.9 776.8 L594.1 772.6 L595.3 776.2 L596.4 777.4 L597.6 771.1 L598.8 786.4 L599.9 769.3 L601.1 771.9 L602.2 770.8 L603.4 769.5 L604.6 772.5 L605.7 769.1 L606.9 773.9 L608.1 769.9 L609.2 772.6 L610.4 773.3 L611.6 769.8 L612.7 772.1 L613.9 773.7 L615.1 778.1 L616.2 772 L617.4 769.2 L618.5 772.9 L619.7 783.2 L620.9 771.6 L622 765.5 L623.2 770.6 L624.4 767.9 L625.5 765.4 L626.7 767.2 L627.9 764.5 L629 765.8 L630.2 769.8 L631.4 763.7 L632.5 765.9 L633.7 760.4 L634.8 782.1 L636 766.3 L637.2 764.4 L638.3 767.2 L639.5 768.7 L640.7 774.9 L641.8 764 L643 769.8 L644.2 765.3 L645.3 775.1 L646.5 765.7 L647.7 763.3 L648.8 762 L650 774.4 L651.1 777.7 L652.3 768.9 L653.5 763.1 L654.6 764.9 L655.8 764.9 L657 764.2 L658.1 766.5 L659.3 763.7 L660.5 759.8 L661.6 760.7 L662.8 759.8 L664 763.1 L665.1 764.2 L666.3 766.3 L667.4 768.7 L668.6 757.3 L669.8 759.7 L670.9 759.4 L672.1 758.1 L673.3 761.7 L674.4 760.6 L675.6 766.3 L675.6 943.1 L674.4 941.6 L673.3 943.3 L672.1 943.4 L670.9 941.2 L669.8 942.3 L668.6 942.9 L667.4 943.2 L666.3 943 L665.1 942.9 L664 943 L662.8 942.4 L661.6 942.3 L660.5 942.2 L659.3 942.7 L658.1 941.6 L657 942.4 L655.8 941.8 L654.6 943.8 L653.5 942.8 L652.3 942.4 L651.1 942.7 L650 941.9 L648.8 941.3 L647.7 943.4 L646.5 942.6 L645.3 942.3 L644.2 942.7 L643 942.4 L641.8 942.2 L640.7 942.5 L639.5 942.7 L638.3 942.7 L637.2 941.8 L636 941.8 L634.8 943.6 L633.7 941.9 L632.5 941.9 L631.4 941.7 L630.2 942.4 L629 942.1 L627.9 941.1 L626.7 943 L625.5 941.6 L624.4 940.8 L623.2 942.4 L622 940.8 L620.9 941.6 L619.7 942 L618.5 941.8 L617.4 940.2 L616.2 942.7 L615.1 942.2 L613.9 942.5 L612.7 941.2 L611.6 941.1 L610.4 941.7 L609.2 941.3 L608.1 941.5 L606.9 940.2 L605.7 941.8 L604.6 941.6 L603.4 942 L602.2 941.4 L601.1 943.1 L599.9 941.2 L598.8 942.1 L597.6 941.4 L596.4 941.3 L595.3 942.2 L594.1 941.4 L592.9 941.4 L591.8 942.6 L590.6 941.1 L589.4 942 L588.3 940.8 L587.1 941.8 L585.9 941.3 L584.8 940.8 L583.6 940.7 L582.5 940.7 L581.3 941.9 L580.1 941.4 L579 941.3 L577.8 942 L576.6 941.3 L575.5 941.5 L574.3 940.6 L573.1 941.8 L572 940.9 L570.8 941.7 L569.6 941.7 L568.5 941.5 L567.3 940.5 L566.2 941.5 L565 940.1 L563.8 941.1 L562.7 940.7 L561.5 940.1 L560.3 941.6 L559.2 941.9 L558 940.7 L556.8 941.2 L555.7 940.3 L554.5 941.7 L553.3 940.7 L552.2 940.1 L551 941.1 L549.9 940.4 L548.7 941.1 L547.5 940.9 L546.4 940.8 L545.2 940.3 L544 941.7 L542.9 942 L541.7 940.4 L540.5 940.6 L539.4 941 L538.2 940.8 L537 940.9 L535.9 941 L534.7 940.1 L533.6 940.3 L532.4 941.3 L531.2 941 L530.1 940.6 L528.9 940.3 L527.7 940.5 L526.6 941.1 L525.4 940.5 L524.2 940.1 L523.1 940.5 L521.9 941.2 L520.7 940.7 L519.6 941.5 L518.4 941.5 L517.3 940.6 L516.1 940.9 L514.9 939.6 L513.8 939.4 L512.6 939.4 L511.4 940.7 L510.3 940.5 L509.1 941.1 L507.9 940.4 L506.8 940.3 L505.6 940.3 L504.4 939.7 L503.3 940.6 L502.1 940.2 L501 940.6 L499.8 941.1 L498.6 938.9 L497.5 940.1 L496.3 940 L495.1 939.7 L494 939 L492.8 940.1 L491.6 939.2 L490.5 939.7 L489.3 939.7 L488.1 939.6 L487 938.4 L485.8 940.7 L484.7 939.1 L483.5 940 L482.3 939.8 L481.2 939.6 L480 939.5 L478.8 939 L477.7 939.4 L476.5 938.6 L475.3 940.4 L474.2 938.4 L473 939.2 L471.8 939.6 L470.7 939.5 L469.5 939 L468.4 940.2 L467.2 939.2 L466 940 L464.9 939.4 L463.7 939 L462.5 939.9 L461.4 939.3 L460.2 939.1 L459 940 L457.9 939.1 L456.7 940.1 L455.5 939.6 L454.4 938.4 L453.2 939.1 L452.1 939 L450.9 938.6 L449.7 940.1 L448.6 938.5 L447.4 938.8 L446.2 940.1 L445.1 939 L443.9 936.3 L442.7 934.4 L441.6 933.8 L440.4 931.7 L439.2 932.2 L438.1 931.2 L436.9 929.2 L435.8 928.1 L434.6 928.4 L433.4 926.8 L432.3 925.6 L431.1 927 L429.9 927.9 L428.8 928.5 L427.6 926.7 L426.4 923.7 L425.3 923.1 L424.1 922.3 L422.9 922.2 L421.8 921.8 L420.6 921.9 L419.5 921.8 L418.3 921 L417.1 921.5 L416 921.2 L414.8 920.5 L413.6 920.3 L412.5 920.8 L411.3 921Z" fill="rgba(120,120,120,0.052)"/>
<path d="M470.8 747.2 L472 748.6 L473.1 754.9 L474.3 757.7 L475.5 755 L476.6 766.7 L477.8 761.6 L479 765.6 L480.1 769.6 L481.3 773.5 L482.5 789.9 L483.6 797.9 L484.8 806.6 L485.9 813 L487.1 813.9 L488.3 819.3 L489.4 812 L490.6 805.4 L491.8 821.3 L492.9 827.7 L494.1 824.8 L495.3 820.7 L496.4 832.3 L497.6 832.1 L498.7 836 L499.9 835 L501.1 832.9 L502.2 834.1 L503.4 814.3 L504.6 829.2 L505.7 828.2 L506.9 823.6 L508.1 832.3 L509.2 819.7 L510.4 827.6 L511.5 830.7 L512.7 822.1 L513.9 838.5 L515 832.6 L516.2 830.3 L517.4 834.4 L518.5 824.8 L519.7 835.2 L520.9 836.4 L522 837.3 L523.2 835.5 L524.3 835.1 L525.5 828.2 L526.7 840.6 L527.8 841.2 L529 832.7 L530.2 836.7 L531.3 828.5 L532.5 836 L533.7 833.2 L534.8 839.8 L536 829.7 L537.1 836.2 L538.3 831.2 L539.5 835.6 L540.6 839.7 L541.8 834.8 L543 837.3 L544.1 837.1 L545.3 833.4 L546.4 838.1 L547.6 834 L548.8 837.4 L549.9 837.8 L551.1 831 L552.3 839.6 L553.4 839.1 L554.6 829.9 L555.8 834.3 L556.9 838.1 L558.1 834 L559.2 822.8 L560.4 839.8 L561.6 834.8 L562.7 840 L563.9 836.3 L565.1 821.2 L566.2 832 L567.4 835.5 L568.6 837 L569.7 834.7 L570.9 836.7 L572 832.8 L573.2 832.8 L574.4 839 L575.5 829.2 L576.7 829.3 L577.9 838.7 L579 832.1 L580.2 830.4 L581.4 820.7 L582.5 829.4 L583.7 819.5 L584.8 833.5 L586 831.6 L587.2 824.9 L588.3 832.6 L589.5 822.4 L590.7 822.3 L591.8 828.3 L593 825.7 L594.2 812.7 L595.3 822.9 L596.5 822.5 L597.6 820.2 L598.8 819.9 L600 815.8 L601.1 814.8 L602.3 818.1 L603.5 818.7 L604.6 819.1 L605.8 820.1 L607 816.7 L608.1 815.6 L609.3 817.1 L610.4 815.4 L611.6 812.3 L612.8 814.8 L613.9 816.9 L615.1 813.7 L616.3 803.3 L617.4 816.7 L618.6 817.8 L619.8 811.9 L620.9 808.8 L622.1 807.8 L623.2 813.1 L624.4 812.9 L625.6 811 L626.7 810.8 L627.9 791.6 L629.1 804.7 L630.2 810.9 L631.4 808.6 L632.5 807.9 L633.7 809.7 L634.9 805.3 L636 804.8 L637.2 812.4 L638.4 807.6 L639.5 804.3 L640.7 803.6 L641.9 806.7 L643 810.3 L644.2 810.4 L645.3 807 L646.5 797.3 L647.7 797.7 L648.8 805.8 L650 794.2 L651.2 808.5 L652.3 803.1 L653.5 806.9 L654.7 803.3 L655.8 803.2 L657 807.2 L658.1 794 L659.3 808.3 L660.5 808.2 L661.6 801.1 L662.8 798.6 L664 807.1 L665.1 803.7 L666.3 792.4 L667.5 804.1 L668.6 803.1 L669.8 805.1 L670.9 789.1 L672.1 791.8 L673.3 803.5 L674.4 798.2 L675.6 802.3 L675.6 939.1 L674.4 939.1 L673.3 939.1 L672.1 939.1 L670.9 939.1 L669.8 939.1 L668.6 939.1 L667.5 939.1 L666.3 939.1 L665.1 939.1 L664 939.1 L662.8 939.1 L661.6 939.1 L660.5 939.1 L659.3 939.1 L658.1 939.1 L657 939.1 L655.8 939.1 L654.7 939.1 L653.5 939.1 L652.3 939.1 L651.2 939.1 L650 939.1 L648.8 939.1 L647.7 939.1 L646.5 939.1 L645.3 939.1 L644.2 939.1 L643 939.1 L641.9 939.1 L640.7 939.1 L639.5 939.1 L638.4 939.1 L637.2 939.1 L636 939.1 L634.9 939.1 L633.7 939.1 L632.5 939.1 L631.4 939.1 L630.2 939.1 L629.1 939.1 L627.9 939.1 L626.7 939.1 L625.6 939.1 L624.4 939.1 L623.2 939.1 L622.1 939.1 L620.9 939.1 L619.8 939.1 L618.6 939.1 L617.4 939.1 L616.3 939.1 L615.1 939.1 L613.9 939.1 L612.8 939.1 L611.6 939.1 L610.4 939.1 L609.3 939.1 L608.1 939.1 L607 939.1 L605.8 939.1 L604.6 939.1 L603.5 939.1 L602.3 939.1 L601.1 939.1 L600 939.1 L598.8 939.1 L597.6 939.1 L596.5 939.1 L595.3 939.1 L594.2 939.1 L593 939.1 L591.8 939.1 L590.7 939.1 L589.5 939.1 L588.3 939.1 L587.2 939.1 L586 939.1 L584.8 939.1 L583.7 939.1 L582.5 939.1 L581.4 939.1 L580.2 939.1 L579 939.1 L577.9 939.1 L576.7 939.1 L575.5 939.1 L574.4 939.1 L573.2 939.1 L572 939.1 L570.9 939.1 L569.7 939.1 L568.6 939.1 L567.4 939.1 L566.2 939.1 L565.1 939.1 L563.9 939.1 L562.7 939.1 L561.6 939.1 L560.4 939.1 L559.2 939.1 L558.1 939.1 L556.9 939.1 L555.8 939.1 L554.6 939.1 L553.4 939.1 L552.3 939.1 L551.1 939.1 L549.9 939.1 L548.8 939.1 L547.6 939.1 L546.4 939.1 L545.3 939.1 L544.1 939.1 L543 939.1 L541.8 939.1 L540.6 939.1 L539.5 939.1 L538.3 939.1 L537.1 939.1 L536 939.1 L534.8 939.1 L533.7 939.1 L532.5 939.1 L531.3 939.1 L530.2 939.1 L529 939.1 L527.8 939.1 L526.7 939.1 L525.5 939.1 L524.3 939.1 L523.2 939.1 L522 939.1 L520.9 939.1 L519.7 939.1 L518.5 939.1 L517.4 939.1 L516.2 939.1 L515 939.1 L513.9 939.1 L512.7 939.1 L511.5 939.1 L510.4 939.1 L509.2 939.1 L508.1 939.1 L506.9 939.1 L505.7 939.1 L504.6 939.1 L503.4 939.1 L502.2 939.1 L501.1 939.1 L499.9 939.1 L498.7 939.1 L497.6 939.1 L496.4 939.1 L495.3 939.1 L494.1 939.1 L492.9 939.1 L491.8 939.1 L490.6 939.1 L489.4 939.1 L488.3 939.1 L487.1 939.1 L485.9 939.1 L484.8 939.1 L483.6 939.1 L482.5 939.1 L481.3 939.1 L480.1 939.1 L479 939.1 L477.8 939.1 L476.6 939.1 L475.5 939.1 L474.3 939.1 L473.1 939.1 L472 939.1 L470.8 939.1Z" fill="rgba(20,158,0,0.10)"/>
</g>
<line x1="411.5" y1="939.1" x2="675.5" y2="939.1" stroke="#000" stroke-opacity="0.045" stroke-width="1"/>
<line x1="411.5" y1="900.4" x2="675.5" y2="900.4" stroke="#000" stroke-opacity="0.045" stroke-width="1"/>
<line x1="411.5" y1="861.6" x2="675.5" y2="861.6" stroke="#000" stroke-opacity="0.045" stroke-width="1"/>
<line x1="411.5" y1="822.9" x2="675.5" y2="822.9" stroke="#000" stroke-opacity="0.045" stroke-width="1"/>
<line x1="411.5" y1="784.2" x2="675.5" y2="784.2" stroke="#000" stroke-opacity="0.045" stroke-width="1"/>
<g clip-path="url(#ch)">
<polyline points="411.3,833.5 412.5,828.4 413.6,826.3 414.8,833 416,835.6 417.1,826.5 418.3,830.7 419.5,828.7 420.6,832.1 421.8,834.8 422.9,835.2 424.1,837.6 425.3,851.2 426.4,846 427.6,847 428.8,855.1 429.9,854.1 431.1,855.9 432.3,856.8 433.4,857.8 434.6,857.3 435.8,859.3 436.9,859.6 438.1,859.7 439.2,862.5 440.4,862.8 441.6,863.2 442.7,872.1 443.9,885.2 445.1,891 446.2,890 447.4,891.3 448.6,891.4 449.7,891.7 450.9,892.2 452.1,893 453.2,892.4 454.4,893.9 455.5,893.6 456.7,893.7 457.9,895.2 459,895.5 460.2,897.3 461.4,899.3 462.5,899.9 463.7,899.5 464.9,898.8 466,899.6 467.2,903.3 468.4,900.6 469.5,903.5 470.7,904 471.8,903.1 473,904.8 474.2,903.2 475.3,904.4 476.5,905.8 477.7,906.7 478.8,905.3 480,904.8 481.2,906.2 482.3,905.4 483.5,907.1 484.7,907.4 485.8,909.2 487,909.6 488.1,911.1 489.3,913.3 490.5,910.8 491.6,913.6 492.8,914.1 494,914 495.1,915.3 496.3,915.6 497.5,915.9 498.6,917.5 499.8,915.5 501,916.5 502.1,917.4 503.3,916.3 504.4,916.8 505.6,917.9 506.8,917.2 507.9,917.4 509.1,917.3 510.3,917.4 511.4,917.2 512.6,918.8 513.8,918 514.9,918.9 516.1,917.9 517.3,919.5 518.4,920.3 519.6,919 520.7,916.8 521.9,918.1 523.1,919 524.2,917.3 525.4,919.5 526.6,919.7 527.7,919 528.9,919.6 530.1,920 531.2,920.5 532.4,920.2 533.6,919.3 534.7,921.2 535.9,920.7 537,919.2 538.2,918.3 539.4,921.7 540.5,920 541.7,919 542.9,920.5 544,920.8 545.2,919.4 546.4,920.8 547.5,921 548.7,920.9 549.9,921.5 551,922.3 552.2,919.6 553.3,919.2 554.5,920.3 555.7,920.7 556.8,920.1 558,920.7 559.2,921.9 560.3,921.4 561.5,920.2 562.7,920.8 563.8,921.7 565,921.6 566.2,919.8 567.3,921.7 568.5,919.6 569.6,920.1 570.8,921.3 572,920.8 573.1,920.4 574.3,920.2 575.5,920.3 576.6,919.4 577.8,919.8 579,920.9 580.1,920.5 581.3,921 582.5,920.7 583.6,920.1 584.8,922 585.9,920 587.1,920 588.3,920.1 589.4,920.9 590.6,920.3 591.8,920.3 592.9,919.6 594.1,921.3 595.3,919.4 596.4,918.6 597.6,919.5 598.8,919.3 599.9,917.8 601.1,916.2 602.2,917.7 603.4,917.6 604.6,918.1 605.7,917.5 606.9,917.6 608.1,918.8 609.2,917.8 610.4,917.3 611.6,918.6 612.7,917.7 613.9,917 615.1,917.2 616.2,918 617.4,916.3 618.5,917.1 619.7,918.1 620.9,919.4 622,918.1 623.2,917.7 624.4,918.1 625.5,917.8 626.7,916.5 627.9,917.2 629,916.8 630.2,918.9 631.4,917.8 632.5,916.8 633.7,918.4 634.8,916.3 636,918.8 637.2,918.3 638.3,916.6 639.5,919.5 640.7,917.2 641.8,918.8 643,918.7 644.2,917.8 645.3,917.9 646.5,917.4 647.7,917.9 648.8,918 650,918.7 651.1,917.6 652.3,919.7 653.5,917.2 654.6,917.6 655.8,916.6 657,916.6 658.1,918.8 659.3,917.2 660.5,918.3 661.6,918 662.8,917 664,917.2 665.1,917.2 666.3,917.6 667.4,917.4 668.6,918.4 669.8,918 670.9,917 672.1,918.4 673.3,918 674.4,916.9 675.6,917.5" fill="none" stroke="#838383" stroke-width="2.1" stroke-linejoin="round" stroke-linecap="butt"/>
<polyline points="470.8,902.6 472,903.1 473.1,905.2 474.3,906 475.5,906.7 476.6,908.2 477.8,909.4 479,910.4 480.1,912 481.3,911.8 482.5,912.7 483.6,914.5 484.8,914.9 485.9,916.9 487.1,918.4 488.3,920 489.4,917.3 490.6,918.7 491.8,919 492.9,919.4 494.1,920.5 495.3,920.5 496.4,920.7 497.6,920.2 498.7,921.7 499.9,921.3 501.1,921.3 502.2,921.6 503.4,921 504.6,921.6 505.7,921.9 506.9,921.5 508.1,921.4 509.2,922.4 510.4,921.8 511.5,922 512.7,922.4 513.9,922.8 515,922.3 516.2,922.5 517.4,923.2 518.5,927.1 519.7,930.5 520.9,928 522,924.6 523.2,925.6 524.3,927.3 525.5,926.8 526.7,926.9 527.8,926 529,927.1 530.2,926.9 531.3,926.7 532.5,926.3 533.7,926.3 534.8,924.3 536,923.6 537.1,925.5 538.3,926.5 539.5,925.4 540.6,924.7 541.8,926.4 543,928.1 544.1,927.6 545.3,927.7 546.4,927.5 547.6,928.5 548.8,927.5 549.9,928 551.1,927.6 552.3,926.6 553.4,927.5 554.6,927.1 555.8,927.3 556.9,927.2 558.1,927.4 559.2,927.5 560.4,927.1 561.6,928 562.7,927.7 563.9,927.3 565.1,927.4 566.2,926.7 567.4,927.5 568.6,927.5 569.7,927.3 570.9,928.1 572,926.9 573.2,927.6 574.4,927.2 575.5,927.8 576.7,928 577.9,927.5 579,927.5 580.2,927.2 581.4,927.6 582.5,926.4 583.7,927.3 584.8,927.7 586,927.3 587.2,926.7 588.3,927.1 589.5,927.5 590.7,927.3 591.8,926.8 593,926.4 594.2,927.1 595.3,926.2 596.5,919 597.6,928.6 598.8,920.1 600,922.3 601.1,926.2 602.3,926.8 603.5,926.6 604.6,926.6 605.8,926.9 607,925 608.1,921.7 609.3,925.7 610.4,930.5 611.6,923 612.8,921.5 613.9,920 615.1,921.1 616.3,921.6 617.4,921 618.6,920.3 619.8,920.5 620.9,920.9 622.1,920.1 623.2,924.2 624.4,931 625.6,923 626.7,926.2 627.9,924.3 629.1,921.4 630.2,920.5 631.4,921.2 632.5,920 633.7,920.9 634.9,925.4 636,929.6 637.2,922.3 638.4,923.1 639.5,925.6 640.7,921.4 641.9,920.7 643,920.8 644.2,920.2 645.3,920.3 646.5,920.9 647.7,920.5 648.8,920.8 650,920.5 651.2,920.3 652.3,920.3 653.5,920.8 654.7,920.6 655.8,921 657,920.4 658.1,920.7 659.3,920.9 660.5,920.7 661.6,921.6 662.8,921.3 664,920.8 665.1,920.3 666.3,921 667.5,920.6 668.6,920.2 669.8,920.9 670.9,920.4 672.1,920.7 673.3,926.9 674.4,923.7 675.6,917.1" fill="none" stroke="#2b8c21" stroke-width="2.1" stroke-linejoin="round" stroke-linecap="butt"/>
</g>
<rect x="411.5" y="780.5" width="264.0" height="162.0" fill="none" stroke="#d0d0d0" stroke-width="1"/>
<line x1="411.5" y1="780.5" x2="675.5" y2="780.5" stroke="#c2c2c2" stroke-width="1"/>
<line x1="408.3" y1="939.1" x2="411.5" y2="939.1" stroke="#c6c6c6" stroke-width="0.9"/>
<text x="406.5" y="941.6" text-anchor="end" class="tk">0</text>
<line x1="408.3" y1="900.4" x2="411.5" y2="900.4" stroke="#c6c6c6" stroke-width="0.9"/>
<text x="406.5" y="902.9" text-anchor="end" class="tk">500</text>
<line x1="408.3" y1="861.6" x2="411.5" y2="861.6" stroke="#c6c6c6" stroke-width="0.9"/>
<text x="406.5" y="864.1" text-anchor="end" class="tk">1000</text>
<line x1="408.3" y1="822.9" x2="411.5" y2="822.9" stroke="#c6c6c6" stroke-width="0.9"/>
<text x="406.5" y="825.4" text-anchor="end" class="tk">1500</text>
<line x1="408.3" y1="784.2" x2="411.5" y2="784.2" stroke="#c6c6c6" stroke-width="0.9"/>
<text x="406.5" y="786.7" text-anchor="end" class="tk">2000</text>
<line x1="414.9" y1="942.5" x2="414.9" y2="945.7" stroke="#c6c6c6" stroke-width="0.9"/>
<text x="414.9" y="954.2" text-anchor="middle" class="tk">2015</text>
<line x1="438.2" y1="942.5" x2="438.2" y2="945.7" stroke="#c6c6c6" stroke-width="0.9"/>
<text x="438.2" y="954.2" text-anchor="middle" class="tk">2020</text>
<line x1="461.5" y1="942.5" x2="461.5" y2="945.7" stroke="#c6c6c6" stroke-width="0.9"/>
<text x="461.5" y="954.2" text-anchor="middle" class="tk">2025</text>
<line x1="484.8" y1="942.5" x2="484.8" y2="945.7" stroke="#c6c6c6" stroke-width="0.9"/>
<text x="484.8" y="954.2" text-anchor="middle" class="tk">2030</text>
<line x1="508.1" y1="942.5" x2="508.1" y2="945.7" stroke="#c6c6c6" stroke-width="0.9"/>
<text x="508.1" y="954.2" text-anchor="middle" class="tk">2035</text>
<line x1="531.4" y1="942.5" x2="531.4" y2="945.7" stroke="#c6c6c6" stroke-width="0.9"/>
<text x="531.4" y="954.2" text-anchor="middle" class="tk">2040</text>
<line x1="554.7" y1="942.5" x2="554.7" y2="945.7" stroke="#c6c6c6" stroke-width="0.9"/>
<text x="554.7" y="954.2" text-anchor="middle" class="tk">2045</text>
<line x1="578" y1="942.5" x2="578" y2="945.7" stroke="#c6c6c6" stroke-width="0.9"/>
<text x="578" y="954.2" text-anchor="middle" class="tk">2050</text>
<line x1="601.3" y1="942.5" x2="601.3" y2="945.7" stroke="#c6c6c6" stroke-width="0.9"/>
<text x="601.3" y="954.2" text-anchor="middle" class="tk">2055</text>
<line x1="624.6" y1="942.5" x2="624.6" y2="945.7" stroke="#c6c6c6" stroke-width="0.9"/>
<text x="624.6" y="954.2" text-anchor="middle" class="tk">2060</text>
<line x1="647.9" y1="942.5" x2="647.9" y2="945.7" stroke="#c6c6c6" stroke-width="0.9"/>
<text x="647.9" y="954.2" text-anchor="middle" class="tk">2065</text>
<line x1="671.2" y1="942.5" x2="671.2" y2="945.7" stroke="#c6c6c6" stroke-width="0.9"/>
<text x="671.2" y="954.2" text-anchor="middle" class="tk">2070</text>
<text x="543" y="966.3" text-anchor="middle" class="ax">Year</text>
<text transform="translate(381.8,861.5) rotate(-90)" text-anchor="middle" class="ax">Number</text>
<circle cx="543.7" cy="771.2" r="0.6" fill="#333"/>
</g>
<text x="0.3" y="9.3" class="pl">(a)</text>
<text x="331" y="9.5" class="pl">(b)</text>
<text x="3.9" y="254.0" class="pl">(c)</text>
<text x="331" y="254.0" class="pl">(d)</text>
<text x="0.3" y="504.2" class="pl">(e)</text>
<text x="331.5" y="504.2" class="pl">(f)</text>
<text x="0.3" y="754.2" class="pl">(g)</text>
<text x="331" y="754.2" class="pl">(h)</text>
<text y="1005.2" class="lg"><tspan x="0.3" textLength="17.1" lengthAdjust="spacingAndGlyphs">No</tspan> <tspan x="21" textLength="66.1" lengthAdjust="spacingAndGlyphs">lenacapavir</tspan> <tspan x="91.3" textLength="7.1" lengthAdjust="spacingAndGlyphs">+</tspan> <tspan x="101.4" textLength="73.5" lengthAdjust="spacingAndGlyphs">cabotegravir</tspan> <tspan x="177.1" textLength="72.4" lengthAdjust="spacingAndGlyphs">introduction</tspan></text>
<line x1="274" y1="1002.6" x2="311" y2="1002.6" stroke="#8a8a8a" stroke-width="2.6"/>
<text y="1005.2" class="lg"><tspan x="331.6" textLength="67.9" lengthAdjust="spacingAndGlyphs">Lenacapavir</tspan> <tspan x="404.2" textLength="7.1" lengthAdjust="spacingAndGlyphs">+</tspan> <tspan x="414.3" textLength="72.6" lengthAdjust="spacingAndGlyphs">cabotegravir</tspan> <tspan x="490.9" textLength="71.6" lengthAdjust="spacingAndGlyphs">introduction</tspan></text>
<line x1="573.4" y1="1001.3" x2="611.2" y2="1001.3" stroke="#4cc45c" stroke-width="2.6"/>
</svg>
</body></html>
